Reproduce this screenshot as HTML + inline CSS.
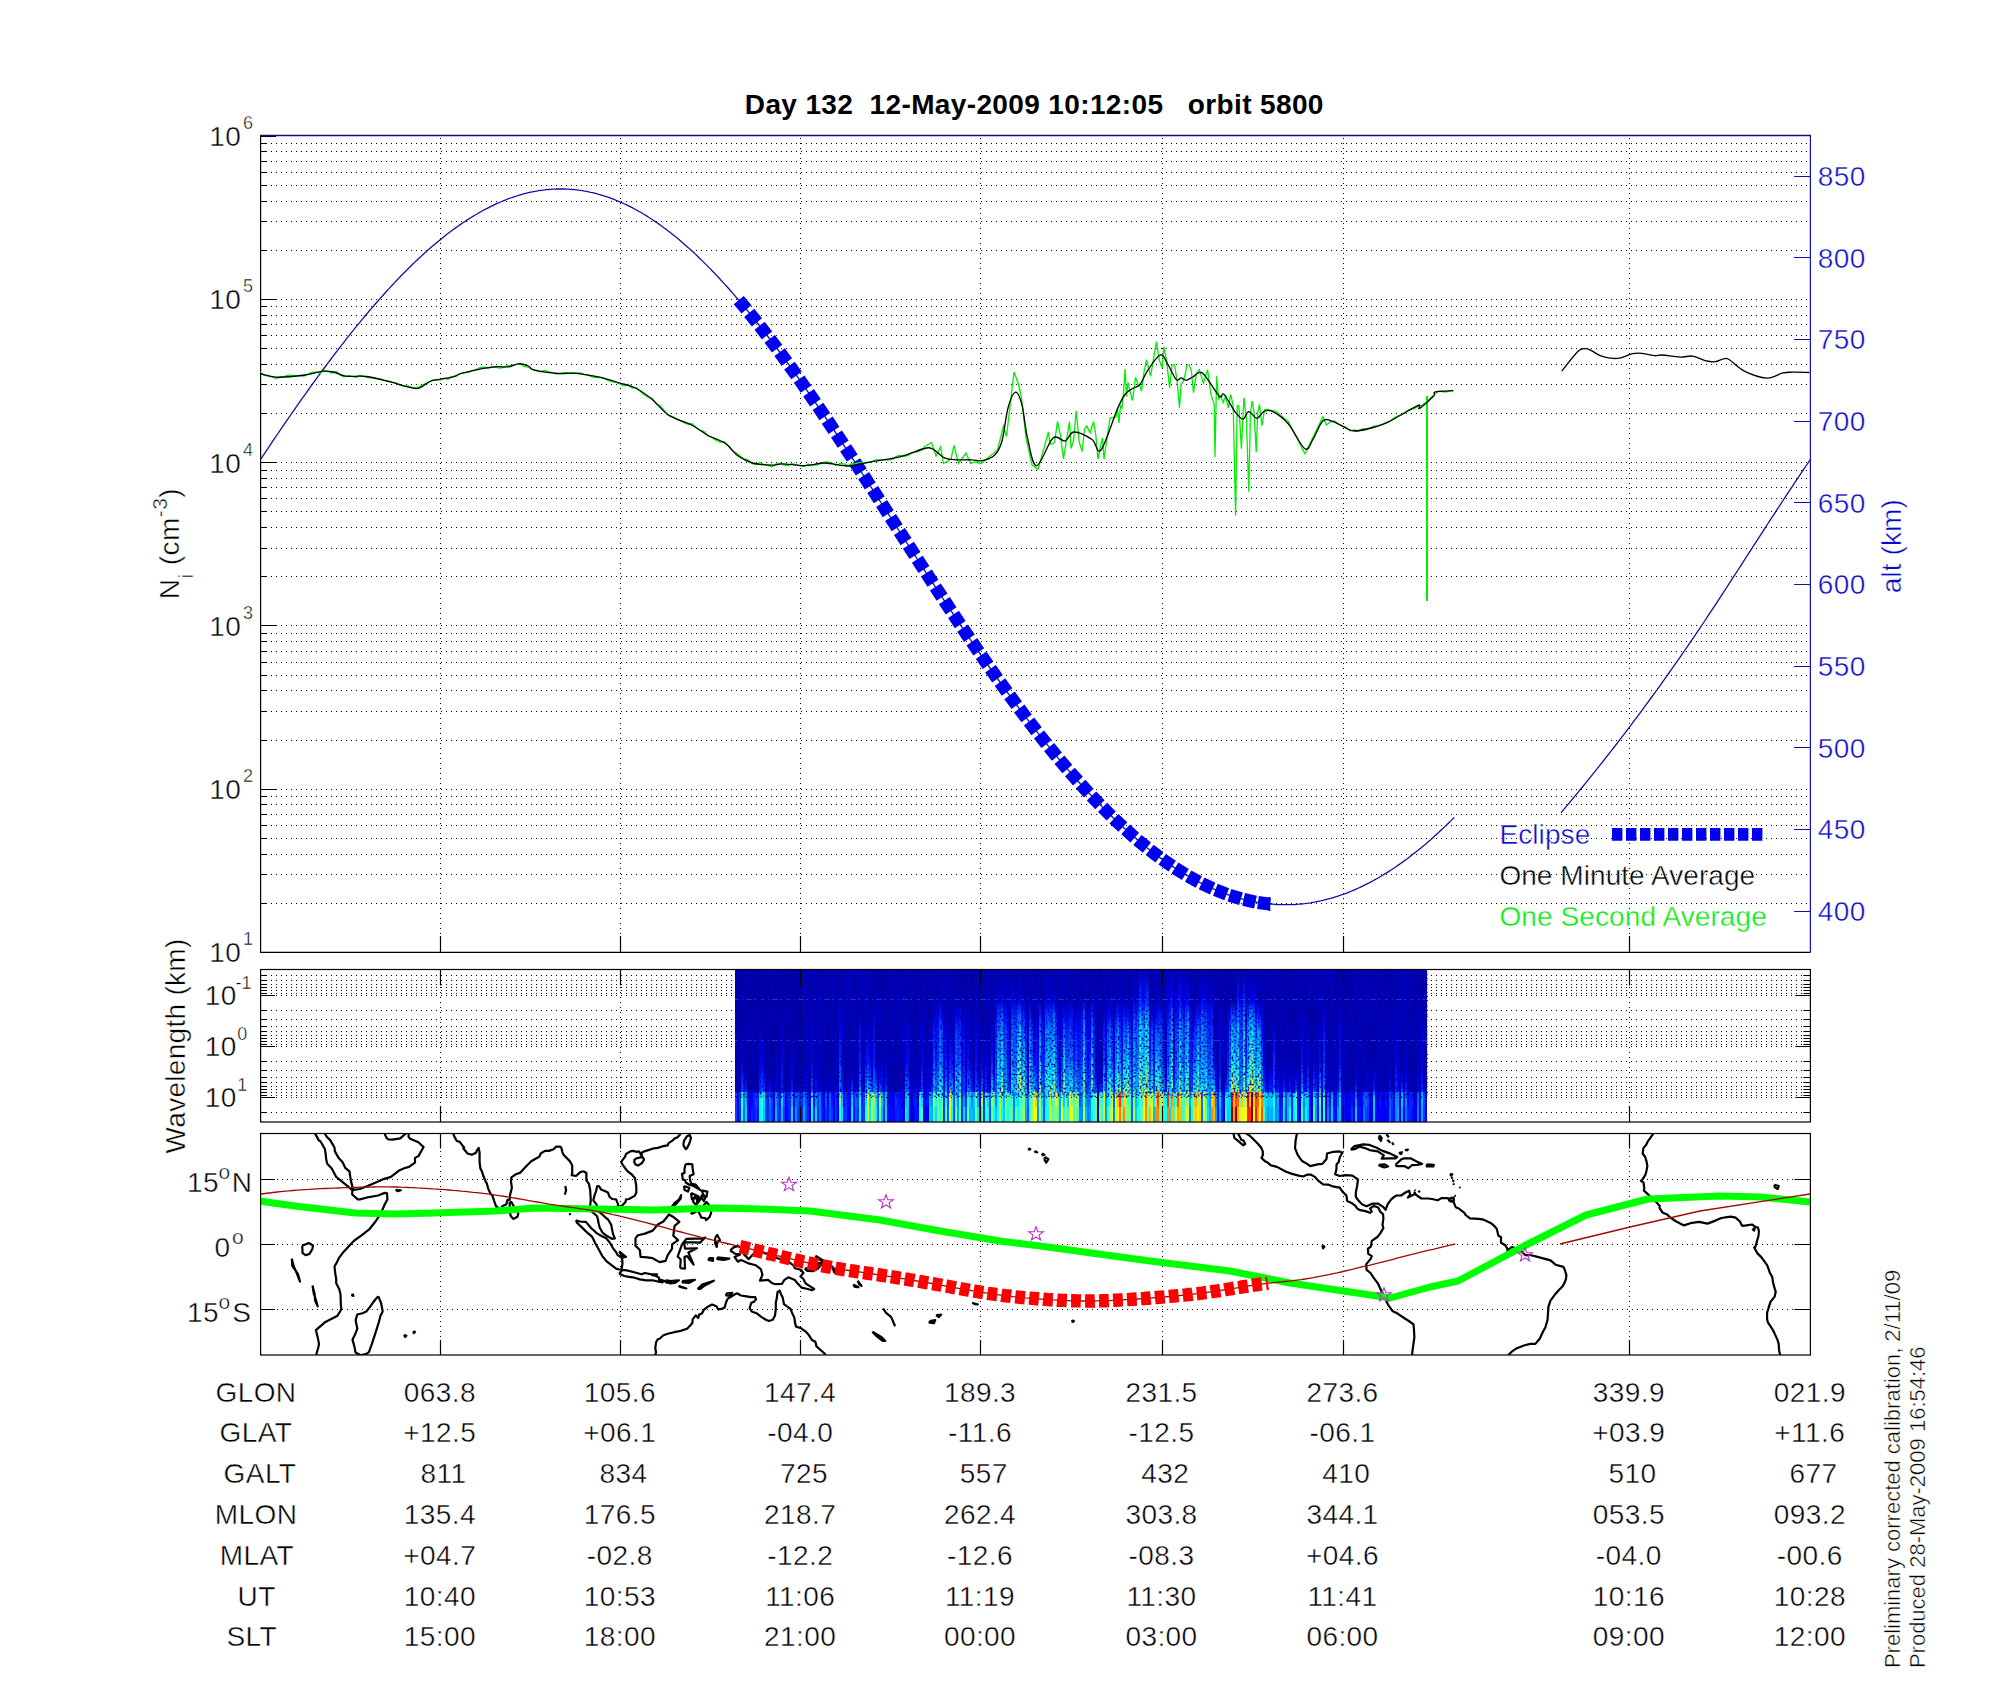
<!DOCTYPE html><html><head><meta charset="utf-8"><style>html,body{margin:0;padding:0;background:#fff;width:2000px;height:1700px;overflow:hidden}svg{display:block}text{font-family:"Liberation Sans", sans-serif;stroke:#fff;stroke-width:0.45px}</style></head><body>
<svg width="2000" height="1700" viewBox="0 0 2000 1700">
<rect width="2000" height="1700" fill="#fff"/>
<path d="M261 903.5 H1810M261 874.5 H1810M261 854.5 H1810M261 838.5 H1810M261 825.5 H1810M261 814.5 H1810M261 804.5 H1810M261 796.5 H1810M261 789.5 H1810M261 740.5 H1810M261 711.5 H1810M261 690.5 H1810M261 675.5 H1810M261 662.5 H1810M261 651.5 H1810M261 641.5 H1810M261 633.5 H1810M261 625.5 H1810M261 576.5 H1810M261 548.5 H1810M261 527.5 H1810M261 511.5 H1810M261 498.5 H1810M261 487.5 H1810M261 478.5 H1810M261 470.5 H1810M261 462.5 H1810M261 413.5 H1810M261 384.5 H1810M261 364.5 H1810M261 348.5 H1810M261 335.5 H1810M261 324.5 H1810M261 315.5 H1810M261 306.5 H1810M261 299.5 H1810M261 250.5 H1810M261 221.5 H1810M261 201.5 H1810M261 185.5 H1810M261 172.5 H1810M261 161.5 H1810M261 151.5 H1810M261 143.5 H1810M440.5 138V952M620.5 138V952M800.5 138V952M980.5 138V952M1162.5 138V952M1343.5 138V952M1629.5 138V952" stroke="#000" stroke-width="1" stroke-dasharray="1 4" fill="none"/>
<path d="M260 952.5h16M260 903.5h7M260 874.5h7M260 854.5h7M260 838.5h7M260 825.5h7M260 814.5h7M260 804.5h7M260 796.5h7M260 789.5h16M260 740.5h7M260 711.5h7M260 690.5h7M260 675.5h7M260 662.5h7M260 651.5h7M260 641.5h7M260 633.5h7M260 625.5h16M260 576.5h7M260 548.5h7M260 527.5h7M260 511.5h7M260 498.5h7M260 487.5h7M260 478.5h7M260 470.5h7M260 462.5h16M260 413.5h7M260 384.5h7M260 364.5h7M260 348.5h7M260 335.5h7M260 324.5h7M260 315.5h7M260 306.5h7M260 299.5h16M260 250.5h7M260 221.5h7M260 201.5h7M260 185.5h7M260 172.5h7M260 161.5h7M260 151.5h7M260 143.5h7M260 136.5h16M440.5 952V936M620.5 952V936M800.5 952V936M980.5 952V936M1162.5 952V936M1343.5 952V936M1629.5 952V936" stroke="#000" stroke-width="1.2" fill="none"/>
<path d="M260.6 135.5V952.4H1810.4" stroke="#000" stroke-width="1.2" fill="none"/>
<path d="M1810.4 135.5V952.4M1810 911.5h-16M1810 829.5h-16M1810 747.5h-16M1810 666.5h-16M1810 584.5h-16M1810 502.5h-16M1810 421.5h-16M1810 339.5h-16M1810 257.5h-16M1810 176.5h-16" stroke="#1010b0" stroke-width="1.2" fill="none"/>
<path d="M260 135.5H1811" stroke="#14107a" stroke-width="1.4" fill="none"/>
<text x="209.2" y="962.3" font-size="28" letter-spacing="0.43">10</text>
<text x="243.1" y="945.4" font-size="18">1</text>
<text x="209.2" y="799" font-size="28" letter-spacing="0.43">10</text>
<text x="243.1" y="782.1" font-size="18">2</text>
<text x="209.2" y="635.8" font-size="28" letter-spacing="0.43">10</text>
<text x="243.1" y="618.9" font-size="18">3</text>
<text x="209.2" y="472.5" font-size="28" letter-spacing="0.43">10</text>
<text x="243.1" y="455.6" font-size="18">4</text>
<text x="209.2" y="309.3" font-size="28" letter-spacing="0.43">10</text>
<text x="243.1" y="292.4" font-size="18">5</text>
<text x="209.2" y="146" font-size="28" letter-spacing="0.43">10</text>
<text x="243.1" y="129.1" font-size="18">6</text>
<text x="1817.7" y="921" font-size="28" letter-spacing="0.43" fill="#0a0ac8">400</text>
<text x="1817.7" y="839.4" font-size="28" letter-spacing="0.43" fill="#0a0ac8">450</text>
<text x="1817.7" y="757.7" font-size="28" letter-spacing="0.43" fill="#0a0ac8">500</text>
<text x="1817.7" y="676.1" font-size="28" letter-spacing="0.43" fill="#0a0ac8">550</text>
<text x="1817.7" y="594.4" font-size="28" letter-spacing="0.43" fill="#0a0ac8">600</text>
<text x="1817.7" y="512.7" font-size="28" letter-spacing="0.43" fill="#0a0ac8">650</text>
<text x="1817.7" y="431.1" font-size="28" letter-spacing="0.43" fill="#0a0ac8">700</text>
<text x="1817.7" y="349.4" font-size="28" letter-spacing="0.43" fill="#0a0ac8">750</text>
<text x="1817.7" y="267.8" font-size="28" letter-spacing="0.43" fill="#0a0ac8">800</text>
<text x="1817.7" y="186.1" font-size="28" letter-spacing="0.43" fill="#0a0ac8">850</text>
<g transform="translate(178.8 599.2) rotate(-90)"><text x="0" y="0" font-size="28" letter-spacing="0.43">N<tspan font-size="21" dy="14">i</tspan><tspan dy="-14"> (cm</tspan><tspan font-size="21" dy="-12.3">-3</tspan><tspan dy="12.3">)</tspan></text></g>
<g transform="translate(1900.7 593.2) rotate(-90)"><text x="0" y="0" font-size="28" letter-spacing="0.09" fill="#0a0ac8">alt (km)</text></g>
<polyline points="260.6,459.3 262.6,456.3 264.6,453.3 266.6,450.3 268.6,447.3 270.6,444.3 272.6,441.4 274.6,438.4 276.6,435.5 278.6,432.5 280.6,429.6 282.6,426.7 284.6,423.7 286.6,420.8 288.6,417.9 290.6,415 292.6,412.2 294.6,409.3 296.6,406.4 298.6,403.6 300.6,400.7 302.6,397.9 304.6,395.1 306.6,392.3 308.6,389.5 310.6,386.7 312.6,383.9 314.6,381.2 316.6,378.4 318.6,375.7 320.6,373 322.6,370.2 324.6,367.5 326.6,364.9 328.6,362.2 330.6,359.5 332.6,356.9 334.6,354.2 336.6,351.6 338.6,349 340.6,346.4 342.6,343.8 344.6,341.3 346.6,338.7 348.6,336.2 350.6,333.7 352.6,331.2 354.6,328.7 356.6,326.2 358.6,323.8 360.6,321.3 362.6,318.9 364.6,316.5 366.6,314.1 368.6,311.8 370.6,309.4 372.6,307.1 374.6,304.8 376.6,302.5 378.6,300.2 380.6,297.9 382.6,295.7 384.6,293.5 386.6,291.2 388.6,289.1 390.6,286.9 392.6,284.7 394.6,282.6 396.6,280.5 398.6,278.4 400.6,276.3 402.6,274.3 404.6,272.3 406.6,270.2 408.6,268.3 410.6,266.3 412.6,264.3 414.6,262.4 416.6,260.5 418.6,258.6 420.6,256.8 422.6,254.9 424.6,253.1 426.6,251.3 428.6,249.6 430.6,247.8 432.6,246.1 434.6,244.4 436.6,242.7 438.6,241 440.6,239.4 442.6,237.8 444.6,236.2 446.6,234.6 448.6,233.1 450.6,231.6 452.6,230.1 454.6,228.6 456.6,227.2 458.6,225.8 460.6,224.4 462.6,223 464.6,221.7 466.6,220.4 468.6,219.1 470.6,217.8 472.6,216.6 474.6,215.3 476.6,214.2 478.6,213 480.6,211.9 482.6,210.7 484.6,209.7 486.6,208.6 488.6,207.6 490.6,206.6 492.6,205.6 494.6,204.6 496.6,203.7 498.6,202.8 500.6,202 502.6,201.1 504.6,200.3 506.6,199.5 508.6,198.7 510.6,198 512.6,197.3 514.6,196.6 516.6,196 518.6,195.4 520.6,194.8 522.6,194.2 524.6,193.7 526.6,193.2 528.6,192.7 530.6,192.2 532.6,191.8 534.6,191.4 536.6,191.1 538.6,190.7 540.6,190.4 542.6,190.2 544.6,189.9 546.6,189.7 548.6,189.5 550.6,189.3 552.6,189.2 554.6,189.1 556.6,189 558.6,189 560.6,189 562.6,189 564.6,189 566.6,189.1 568.6,189.2 570.6,189.3 572.6,189.5 574.6,189.7 576.6,189.9 578.6,190.2 580.6,190.4 582.6,190.7 584.6,191.1 586.6,191.4 588.6,191.8 590.6,192.3 592.6,192.7 594.6,193.2 596.6,193.7 598.6,194.3 600.6,194.8 602.6,195.4 604.6,196.1 606.6,196.7 608.6,197.4 610.6,198.1 612.6,198.9 614.6,199.7 616.6,200.5 618.6,201.3 620.6,202.2 622.6,203 624.6,204 626.6,204.9 628.6,205.9 630.6,206.9 632.6,207.9 634.6,209 636.6,210.1 638.6,211.2 640.6,212.3 642.6,213.5 644.6,214.7 646.6,215.9 648.6,217.2 650.6,218.5 652.6,219.8 654.6,221.1 656.6,222.5 658.6,223.9 660.6,225.3 662.6,226.8 664.6,228.2 666.6,229.7 668.6,231.3 670.6,232.8 672.6,234.4 674.6,236 676.6,237.6 678.6,239.3 680.6,241 682.6,242.7 684.6,244.4 686.6,246.2 688.6,247.9 690.6,249.8 692.6,251.6 694.6,253.4 696.6,255.3 698.6,257.2 700.6,259.2 702.6,261.1 704.6,263.1 706.6,265.1 708.6,267.1 710.6,269.1 712.6,271.2 714.6,273.3 716.6,275.4 718.6,277.5 720.6,279.7 722.6,281.9 724.6,284.1 726.6,286.3 728.6,288.5 730.6,290.8 732.6,293.1 734.6,295.4 736.6,297.7 738.6,300 740.6,302.4 742.6,304.8 744.6,307.2 746.6,309.6 748.6,312.1 750.6,314.5 752.6,317 754.6,319.5 756.6,322 758.6,324.5 760.6,327.1 762.6,329.6 764.6,332.2 766.6,334.8 768.6,337.4 770.6,340.1 772.6,342.7 774.6,345.4 776.6,348 778.6,350.7 780.6,353.4 782.6,356.2 784.6,358.9 786.6,361.6 788.6,364.4 790.6,367.2 792.6,370 794.6,372.8 796.6,375.6 798.6,378.4 800.6,381.3 802.6,384.1 804.6,387 806.6,389.9 808.6,392.8 810.6,395.7 812.6,398.6 814.6,401.5 816.6,404.4 818.6,407.4 820.6,410.3 822.6,413.3 824.6,416.2 826.6,419.2 828.6,422.2 830.6,425.2 832.6,428.2 834.6,431.2 836.6,434.2 838.6,437.2 840.6,440.3 842.6,443.3 844.6,446.4 846.6,449.4 848.6,452.5 850.6,455.5 852.6,458.6 854.6,461.7 856.6,464.7 858.6,467.8 860.6,470.9 862.6,474 864.6,477.1 866.6,480.2 868.6,483.3 870.6,486.4 872.6,489.5 874.6,492.6 876.6,495.7 878.6,498.8 880.6,502 882.6,505.1 884.6,508.2 886.6,511.3 888.6,514.4 890.6,517.5 892.6,520.7 894.6,523.8 896.6,526.9 898.6,530 900.6,533.1 902.6,536.3 904.6,539.4 906.6,542.5 908.6,545.6 910.6,548.7 912.6,551.8 914.6,554.9 916.6,558 918.6,561.1 920.6,564.2 922.6,567.3 924.6,570.4 926.6,573.5 928.6,576.6 930.6,579.6 932.6,582.7 934.6,585.8 936.6,588.9 938.6,591.9 940.6,595 942.6,598 944.6,601.1 946.6,604.1 948.6,607.1 950.6,610.1 952.6,613.2 954.6,616.2 956.6,619.2 958.6,622.2 960.6,625.1 962.6,628.1 964.6,631.1 966.6,634.1 968.6,637 970.6,640 972.6,642.9 974.6,645.8 976.6,648.8 978.6,651.7 980.6,654.6 982.6,657.5 984.6,660.3 986.6,663.2 988.6,666.1 990.6,668.9 992.6,671.8 994.6,674.6 996.6,677.4 998.6,680.2 1000.6,683 1002.6,685.8 1004.6,688.6 1006.6,691.4 1008.6,694.1 1010.6,696.8 1012.6,699.6 1014.6,702.3 1016.6,705 1018.6,707.7 1020.6,710.4 1022.6,713 1024.6,715.7 1026.6,718.3 1028.6,720.9 1030.6,723.6 1032.6,726.1 1034.6,728.7 1036.6,731.3 1038.6,733.9 1040.6,736.4 1042.6,738.9 1044.6,741.4 1046.6,743.9 1048.6,746.4 1050.6,748.9 1052.6,751.3 1054.6,753.8 1056.6,756.2 1058.6,758.6 1060.6,761 1062.6,763.4 1064.6,765.7 1066.6,768.1 1068.6,770.4 1070.6,772.7 1072.6,775 1074.6,777.3 1076.6,779.6 1078.6,781.8 1080.6,784 1082.6,786.2 1084.6,788.4 1086.6,790.6 1088.6,792.8 1090.6,794.9 1092.6,797 1094.6,799.1 1096.6,801.2 1098.6,803.3 1100.6,805.4 1102.6,807.4 1104.6,809.4 1106.6,811.4 1108.6,813.4 1110.6,815.3 1112.6,817.3 1114.6,819.2 1116.6,821.1 1118.6,823 1120.6,824.9 1122.6,826.7 1124.6,828.5 1126.6,830.4 1128.6,832.1 1130.6,833.9 1132.6,835.7 1134.6,837.4 1136.6,839.1 1138.6,840.8 1140.6,842.5 1142.6,844.1 1144.6,845.7 1146.6,847.4 1148.6,848.9 1150.6,850.5 1152.6,852.1 1154.6,853.6 1156.6,855.1 1158.6,856.6 1160.6,858.1 1162.6,859.5 1164.6,860.9 1166.6,862.3 1168.6,863.7 1170.6,865.1 1172.6,866.4 1174.6,867.7 1176.6,869 1178.6,870.3 1180.6,871.5 1182.6,872.8 1184.6,874 1186.6,875.1 1188.6,876.3 1190.6,877.4 1192.6,878.6 1194.6,879.7 1196.6,880.7 1198.6,881.8 1200.6,882.8 1202.6,883.8 1204.6,884.8 1206.6,885.8 1208.6,886.7 1210.6,887.6 1212.6,888.5 1214.6,889.4 1216.6,890.2 1218.6,891 1220.6,891.8 1222.6,892.6 1224.6,893.4 1226.6,894.1 1228.6,894.8 1230.6,895.5 1232.6,896.1 1234.6,896.8 1236.6,897.4 1238.6,898 1240.6,898.5 1242.6,899.1 1244.6,899.6 1246.6,900.1 1248.6,900.5 1250.6,901 1252.6,901.4 1254.6,901.8 1256.6,902.1 1258.6,902.5 1260.6,902.8 1262.6,903.1 1264.6,903.4 1266.6,903.6 1268.6,903.8 1270.6,904 1272.6,904.2 1274.6,904.4 1276.6,904.5 1278.6,904.6 1280.6,904.6 1282.6,904.7 1284.6,904.7 1286.6,904.7 1288.6,904.7 1290.6,904.6 1292.6,904.6 1294.6,904.5 1296.6,904.3 1298.6,904.2 1300.6,904 1302.6,903.8 1304.6,903.6 1306.6,903.3 1308.6,903.1 1310.6,902.8 1312.6,902.4 1314.6,902.1 1316.6,901.7 1318.6,901.3 1320.6,900.9 1322.6,900.4 1324.6,899.9 1326.6,899.4 1328.6,898.9 1330.6,898.4 1332.6,897.8 1334.6,897.2 1336.6,896.6 1338.6,895.9 1340.6,895.2 1342.6,894.5 1344.6,893.8 1346.6,893.1 1348.6,892.3 1350.6,891.5 1352.6,890.7 1354.6,889.8 1356.6,888.9 1358.6,888 1360.6,887.1 1362.6,886.2 1364.6,885.2 1366.6,884.2 1368.6,883.2 1370.6,882.1 1372.6,881 1374.6,879.9 1376.6,878.8 1378.6,877.7 1380.6,876.5 1382.6,875.3 1384.6,874.1 1386.6,872.9 1388.6,871.6 1390.6,870.3 1392.6,869 1394.6,867.7 1396.6,866.3 1398.6,864.9 1400.6,863.5 1402.6,862.1 1404.6,860.6 1406.6,859.2 1408.6,857.7 1410.6,856.1 1412.6,854.6 1414.6,853 1416.6,851.4 1418.6,849.8 1420.6,848.2 1422.6,846.5 1424.6,844.9 1426.6,843.2 1428.6,841.4 1430.6,839.7 1432.6,837.9 1434.6,836.1 1436.6,834.3 1438.6,832.5 1440.6,830.6 1442.6,828.8 1444.6,826.9 1446.6,825 1448.6,823 1450.6,821.1 1452.6,819.1 1454.2,817.5" stroke="#1010a0" stroke-width="1.3" fill="none"/>
<polyline points="1561,812.8 1564,809.2 1567,805.7 1570,802.1 1573,798.4 1576,794.8 1579,791.2 1582,787.5 1585,783.8 1588,780.1 1591,776.4 1594,772.7 1597,768.9 1600,765.1 1603,761.3 1606,757.5 1609,753.7 1612,749.8 1615,746 1618,742.1 1621,738.2 1624,734.3 1627,730.3 1630,726.4 1633,722.4 1636,718.4 1639,714.3 1642,710.3 1645,706.2 1648,702.2 1651,698 1654,693.9 1657,689.8 1660,685.6 1663,681.4 1666,677.2 1669,673 1672,668.7 1675,664.4 1678,660.1 1681,655.8 1684,651.5 1687,647.1 1690,642.7 1693,638.3 1696,633.9 1699,629.4 1702,625 1705,620.5 1708,615.9 1711,611.4 1714,606.8 1717,602.3 1720,597.7 1723,593.1 1726,588.5 1729,583.9 1732,579.2 1735,574.6 1738,570 1741,565.3 1744,560.7 1747,556 1750,551.4 1753,546.7 1756,542.1 1759,537.4 1762,532.8 1765,528.1 1768,523.5 1771,518.9 1774,514.3 1777,509.7 1780,505.1 1783,500.5 1786,495.9 1789,491.4 1792,486.8 1795,482.3 1798,477.8 1801,473.4 1804,468.9 1807,464.5 1810,460.1 1810.4,459.5" stroke="#1010a0" stroke-width="1.3" fill="none"/>
<path d="M741.5 313.6L751.5 305.3L743.7 295.9L733.7 304.3ZM751.8 326.4L762 318.3L754.3 308.8L744.2 316.9ZM761.9 339.4L772.2 331.4L764.7 321.8L754.5 329.8ZM771.9 352.6L782.3 344.7L774.9 335L764.5 342.8ZM781.6 365.9L792.1 358.2L784.9 348.3L774.4 356ZM791.3 379.3L801.8 371.7L794.7 361.8L784.2 369.4ZM800.7 392.8L811.4 385.4L804.4 375.4L793.8 382.8ZM810.1 406.4L820.8 399.1L813.9 389L803.2 396.4ZM819.4 420.2L830.2 412.9L823.3 402.8L812.6 410ZM828.6 433.9L839.4 426.7L832.7 416.6L821.8 423.8ZM837.7 447.7L848.6 440.6L841.9 430.4L831 437.6ZM846.8 461.6L857.7 454.5L851 444.3L840.1 451.4ZM855.8 475.5L866.7 468.4L860.1 458.2L849.2 465.3ZM864.8 489.4L875.7 482.4L869.1 472.1L858.2 479.2ZM873.8 503.3L884.7 496.3L878.1 486.1L867.2 493.1ZM882.7 517.3L893.7 510.3L887.1 500L876.1 507ZM891.7 531.2L902.6 524.2L896 513.9L885.1 521ZM900.6 545.2L911.5 538.1L904.9 527.9L894 534.9ZM909.5 559.1L920.5 552L913.9 541.8L902.9 548.8ZM918.5 573L929.4 565.9L922.8 555.7L911.9 562.7ZM927.5 586.8L938.4 579.8L931.8 569.5L920.9 576.6ZM936.6 600.7L947.5 593.6L940.8 583.4L929.9 590.5ZM945.7 614.5L956.5 607.3L949.8 597.1L938.9 604.3ZM954.8 628.2L965.6 621L958.9 610.8L948.1 618.1ZM964 641.9L974.8 634.6L968 624.5L957.2 631.8ZM973.3 655.5L984.1 648.2L977.2 638.1L966.5 645.4ZM982.7 669L993.4 661.6L986.4 651.6L975.8 659ZM992.2 682.5L1002.8 675L995.8 665L985.2 672.5ZM1001.8 695.8L1012.4 688.2L1005.2 678.3L994.7 685.9ZM1011.5 709.1L1022 701.4L1014.8 691.6L1004.3 699.3ZM1021.4 722.2L1031.8 714.4L1024.4 704.6L1014 712.5ZM1031.4 735.2L1041.7 727.3L1034.2 717.6L1023.9 725.5ZM1041.5 748L1051.7 739.9L1044.1 730.4L1033.9 738.5ZM1051.9 760.7L1061.9 752.5L1054.2 743L1044.1 751.3ZM1062.4 773.2L1072.3 764.8L1064.4 755.5L1054.5 763.9ZM1073.1 785.4L1082.9 776.8L1074.8 767.7L1065 776.3ZM1084 797.4L1093.6 788.7L1085.4 779.7L1075.8 788.4ZM1095.2 809.2L1104.6 800.2L1096.2 791.4L1086.8 800.4ZM1106.7 820.6L1115.8 811.4L1107.2 802.8L1098 812ZM1118.4 831.7L1127.3 822.2L1118.4 813.9L1109.5 823.4ZM1130.4 842.4L1139 832.7L1129.9 824.6L1121.3 834.3ZM1142.8 852.7L1151 842.6L1141.6 834.9L1133.3 844.9ZM1155.4 862.4L1163.3 852L1153.6 844.7L1145.7 855ZM1168.5 871.5L1175.9 860.8L1165.9 853.9L1158.5 864.6ZM1181.9 880L1188.8 869L1178.4 862.5L1171.5 873.6ZM1195.7 887.7L1201.9 876.3L1191.3 870.4L1185 881.8ZM1209.9 894.5L1215.4 882.7L1204.4 877.5L1198.8 889.3ZM1224.3 900.3L1229.1 888.2L1217.7 883.7L1213 895.8ZM1239.1 904.9L1242.9 892.5L1231.3 888.9L1227.5 901.4ZM1254.1 908.4L1256.9 895.7L1245 893.1L1242.2 905.8ZM1269.2 910.5L1270.9 897.7L1258.8 896L1257.1 908.9Z" fill="#0000f0"/>
<path d="M1269.5 897v14" stroke="#0000f0" stroke-width="1.6"/>
<polyline points="260,372.2 264,375.2 268,375.1 272,376.9 276,378.6 280,377.1 284,376.7 288,375.1 292,375.3 296,375.7 300,375.9 304,376 308,374 312,372.2 316,372.1 320,373.1 324,370.5 328,371.5 332,373.2 336,371.4 340,374.6 344,377 348,375.4 352,376.4 356,377.6 360,375.3 364,376.5 368,377.6 372,378.2 376,378.5 380,378.6 384,380.3 388,380.8 392,382.1 396,382.8 400,385.3 404,386.1 408,385.8 412,387.7 416,387.8 420,386.4 424,384.1 428,383 432,380.4 436,380 440,380.1 444,378.4 448,379.2 452,376.3 456,376.3 460,373.7 464,372.6 468,372.3 472,371 476,369.7 480,367.6 484,367.2 488,368.4 492,367.2 496,367.3 500,368.1 504,367.3 508,365.4 512,365.2 516,364.7 520,363.4 524,366.4 528,367.2 532,369.5 536,370.3 540,372 544,370.4 548,371.5 552,372.5 556,373.9 560,373.4 564,372.3 568,372.9 572,372.8 576,372.8 580,373 584,374.4 588,375.2 592,376.8 596,377.5 600,377.4 604,378.4 608,380.5 612,381.9 616,382.4 620,384 624,385.7 628,384.2 632,388 636,387.7 640,391 644,394.7 648,397.2 652,398.2 656,403.5 660,405.6 664,410.3 668,415.5 672,416.3 676,418.6 680,420.7 684,422.7 688,424.3 692,423.8 696,427.5 700,430.3 704,431.6 708,435.6 712,437.6 716,440.1 720,442.3 724,441.7 728,445.2 732,450.5 736,452.9 740,455.9 744,459 748,459.8 752,463.6 756,464.5 760,462.5 764,464.4 768,465.7 772,466.7 776,464 780,463.1 784,465 788,465.5 792,463.7 796,464.7 800,465.9 804,466.6 808,464.3 812,465.2 816,465.1 820,463.8 824,462.1 828,462 832,463.3 836,465.4 840,463.6 844,464 848,465.5 852,464 856,463.5 860,462.4 864,463.1 868,462.9 872,461.4 876,459.8 880,459.7 884,459.8 888,460.2 892,459.6 896,456.7 900,455.3 904,456.4 908,455.3 912,452.5 916,452.1 920,451 924,448.8 924,447 931.5,442.5 936,456 940.5,447 943.5,463.5 951,459 954,445.5 958.5,463.5 966,453 970.5,463.5 975,462 981,463.5 997.5,450 1003.5,426 1006.5,436.5 1014,372 1018.5,384 1021.5,397.5 1026,438 1032,465 1038,469.5 1048.5,432 1050,444.1 1051.5,444 1054.5,442.5 1057.5,421.5 1060.5,435.7 1063.5,459 1066.5,439.7 1069.5,421.5 1071,448.5 1073.6,440.3 1076.2,411 1079.2,442.1 1082.2,451.5 1084.5,428.9 1086.7,426 1090.1,432.9 1093.5,421.5 1095.8,434.9 1098,459 1100.2,447.9 1102.5,438 1104,459 1110,418.1 1116,417 1117.5,407.9 1119,423 1120.5,406 1122,408 1123.5,392.9 1125,369 1126.5,396.8 1128,382.5 1130.2,392.1 1132.5,400.5 1135.5,377.4 1138.5,385.5 1140,385.4 1141.6,391 1144,372.2 1146.5,359.7 1148.5,367.5 1150.6,376.2 1153.5,358.9 1156.4,341.6 1159.3,360.1 1162.2,368 1163.8,346.5 1166.7,361.7 1169.6,387.8 1172.1,365.2 1174.6,364.7 1177,380.1 1179.5,407.6 1181.2,383.5 1182.8,382.8 1184.8,375.8 1186.9,365.5 1189.4,364.7 1191.5,372.1 1193.5,392.7 1196.4,373.3 1199.3,369.6 1203.4,383.1 1207.6,369.6 1210.9,394.2 1214.2,404.3 1215,457 1216.6,376.2 1218.7,398.9 1220.8,396 1223.2,402.7 1225.7,396 1228.2,407.8 1230.7,394.4 1233.2,406.2 1235.6,515.6 1237.2,405.8 1238.9,405.9 1241.4,448.8 1243.9,397.7 1246.3,417.9 1248.8,491.7 1250.4,414.2 1252.1,401 1254.2,413.2 1256.2,452.1 1257.8,412 1259.5,404.3 1262,425.7 1264.5,409.8 1267,409.2 1271.1,410.6 1275.2,410.9 1288.4,421.6 1304.9,453.8 1323,416.6 1326.4,424.9 1330,422.2 1334,421 1338,423.6 1342,425.6 1346,427.2 1350,430.7 1354,429.8 1358,430.9 1362,428.8 1366,428.9 1370,428 1374,426.2 1378,425.7 1382,424.5 1386,422.7 1390,421.5 1394,417.9 1398,415.8 1402,414 1406,411.9 1410,409.2 1414,408.8 1418,406.3 1422,405.3 1426,402.4 1430,398.5 1434,394.9 1438,391.2 1442,391.5 1446,392.2 1450,390.6 1453.4,390.7" stroke="#00ee00" stroke-width="1.3" fill="none"/>
<path d="M1427 396V601" stroke="#00ee00" stroke-width="2"/>
<path d="M260 373.5C262.8 374.1 269 377 276.5 377.2C284 377.5 297.2 376 305 375C312.8 374 318.2 371.8 323 371.2C327.8 370.8 329.8 371.2 333.5 372C337.2 372.8 340 375.4 345.5 376.2C351 376.9 359 375.6 366.5 376.5C374 377.4 382.2 379.8 390.5 381.8C398.8 383.8 409.2 388.6 416 388.5C422.8 388.4 425 382.9 431 381C437 379.1 447 378.5 452 377.2C457 376 456.5 374.8 461 373.5C465.5 372.2 473.5 370.4 479 369.3C484.5 368.2 489 367.2 494 366.8C499 366.3 505 367.2 509 366.8C513 366.2 514.8 363.9 518 363.8C521.2 363.6 525.8 364.9 528.5 366C531.2 367.1 529.5 368.9 534.5 370.2C539.5 371.4 551.7 373 558.5 373.5C565.3 374 568.7 372.7 575.5 373.3C582.3 373.9 592.2 375.6 599.5 377.2C606.8 378.8 613 380.9 619 382.8C625 384.6 630 385.2 635.5 388C641 390.8 646.5 394.8 652 399.2C657.5 403.8 661.8 410.6 668.5 415C675.2 419.4 686 422.1 692.5 425.5C699 428.9 702 432.2 707.5 435.2C713 438.2 720.5 440.1 725.5 443.5C730.5 446.9 733 452.2 737.5 455.5C742 458.8 746.8 461.4 752.5 463C758.2 464.6 767 465.1 772 465.2C777 465.4 777 463.7 782.5 463.8C788 463.8 798 465.8 805 465.7C812 465.6 817.2 462.9 824.5 463C831.8 463.1 841.7 466 848.5 466C855.3 466 856.9 464.3 865.5 462.8C874.1 461.2 890.2 459.1 900 456.8C909.8 454.4 918.5 449.8 924 448.5C929.5 447.2 929.5 447.6 933 449.2C936.5 450.9 941 456.5 945 458.2C949 460 952.5 459.5 957 459.8C961.5 460 968 459.6 972 459.8C976 459.9 977.2 461.6 981 460.8C984.8 460.1 991 458.6 994.5 455.2C998 451.9 999.8 448.9 1002 441C1004.2 433.1 1005.8 416.1 1008 408C1010.2 399.9 1013.2 392.8 1015.5 392.2C1017.8 391.8 1020 397.4 1022 405C1024 412.6 1025.1 427.9 1027.5 438C1029.9 448.1 1032.2 465.8 1036.5 465.8C1040.8 465.8 1048.2 442.1 1053 438C1057.8 433.9 1061.5 442 1065 441C1068.5 440 1069.5 432.2 1074 432C1078.5 431.8 1087.5 436.5 1092 439.5C1096.5 442.5 1096.8 455.1 1101 450C1105.2 444.9 1113.5 418 1117.5 408.8C1121.5 399.5 1122.5 397.9 1125 394.5C1127.5 391.1 1130 390.2 1132.5 388.5C1135 386.8 1137.3 387.6 1139.9 384.5C1142.5 381.4 1144.8 374.6 1148.2 369.6C1151.6 364.6 1157.2 355.6 1160.5 354.8C1163.8 353.9 1165.4 360.5 1168 364.6C1170.6 368.8 1174 377.3 1176.2 379.5C1178.4 381.7 1179.6 377.7 1181.2 377.9C1182.8 378 1184.2 380.4 1186.1 380.3C1188 380.2 1190 378.2 1192.7 377C1195.5 375.8 1198.2 370 1202.6 373.2C1207 376.4 1215.5 392.5 1219.1 396C1222.7 399.5 1221.3 391.6 1224 394.4C1226.8 397.1 1232.4 408.4 1235.6 412.5C1238.8 416.6 1240.8 419.2 1243 419.1C1245.2 419 1246.5 411.8 1248.8 411.7C1251.1 411.6 1254.5 418.3 1257 418.3C1259.5 418.3 1261.2 412.9 1263.7 411.7C1266.2 410.5 1267.8 409.1 1271.9 411.2C1276 413.2 1282.9 417.7 1288.4 424C1293.9 430.3 1300.8 446.3 1304.9 448.8C1309 451.3 1310.2 443.6 1313.2 438.9C1316.2 434.2 1319.7 423.6 1323 420.8C1326.3 417.9 1328.9 420.2 1333 421.6C1337.1 423 1344.2 427.4 1347.8 429C1351.4 430.6 1351.1 431 1354.4 431C1357.7 431 1362.4 430.3 1367.6 429C1372.8 427.7 1380 425.7 1385.8 423.2C1391.6 420.7 1396.8 417.2 1402.3 414.2C1407.8 411.2 1415.9 406.1 1418.8 405.1C1421.7 404.1 1417.1 409.9 1419.6 408.4C1422.1 406.9 1431 398.8 1433.6 396C1436.2 393.2 1432 392.8 1435.3 391.9C1438.6 391 1450.4 390.9 1453.4 390.7" stroke="#000" stroke-width="1.3" fill="none"/>
<path d="M1561.7 371.1C1564.4 367.8 1574 355.2 1577.8 351.5C1581.6 347.8 1582.7 348.9 1584.8 348.7C1586.9 348.5 1587.8 348.9 1590.4 350.1C1593 351.3 1596.9 354.4 1600.2 355.7C1603.5 357 1606.7 357.7 1610 358.1C1613.3 358.5 1616.1 358.9 1619.8 358.1C1623.5 357.4 1628.7 354.4 1632.4 353.6C1636.1 352.8 1638.5 353 1642.2 353.3C1645.9 353.6 1651.5 355.4 1654.8 355.7C1658.1 356 1657.6 354.8 1661.8 355C1666 355.2 1674.9 356.9 1680 357.1C1685.1 357.3 1688.4 355.5 1692.6 356.1C1696.8 356.7 1701.5 359.7 1705.2 360.6C1708.9 361.5 1712 362 1715 361.7C1718 361.4 1721.1 359.3 1723.4 358.9C1725.7 358.5 1725.5 357.5 1729 359.5C1732.5 361.5 1738.1 368 1744.4 371.1C1750.7 374.2 1760.5 377.8 1766.8 378.1C1773.1 378.5 1778 374.2 1782.2 373.2C1786.4 372.2 1787.5 372.3 1792 372.2C1796.5 372.1 1806.6 372.4 1809.5 372.5" stroke="#000" stroke-width="1.3" fill="none"/>
<text x="1499.4" y="843.5" font-size="28" letter-spacing="0.1" fill="#0a0ac8">Eclipse</text>
<path d="M1612 834.4H1762.4" stroke="#0000f0" stroke-width="12.8" stroke-dasharray="10.4 3.6"/>
<text x="1499.4" y="884.8" font-size="28" letter-spacing="0.06" fill="#000">One Minute Average</text>
<text x="1499.4" y="926.4" font-size="28" letter-spacing="0.1" fill="#00ee00">One Second Average</text>
<path d="M261 975.5H1810M261 980.5H1810M261 984.5H1810M261 987.5H1810M261 990.5H1810M261 993.5H1810M261 995.5H1810M261 1010.5H1810M261 1019.5H1810M261 1026.5H1810M261 1031.5H1810M261 1035.5H1810M261 1038.5H1810M261 1041.5H1810M261 1044.5H1810M261 1046.5H1810M261 1061.5H1810M261 1070.5H1810M261 1077.5H1810M261 1082.5H1810M261 1086.5H1810M261 1089.5H1810M261 1092.5H1810M261 1095.5H1810M261 1097.5H1810M261 1112.5H1810M440.5 972V1122M620.5 972V1122M800.5 972V1122M980.5 972V1122M1162.5 972V1122M1343.5 972V1122M1629.5 972V1122" stroke="#000" stroke-width="1" stroke-dasharray="1 4" fill="none"/>
<defs><linearGradient id="s0" x2="0" y2="1"><stop offset="0" stop-color="#009"/><stop offset="0.2" stop-color="#009"/><stop offset="0.3" stop-color="#00a"/><stop offset="0.4" stop-color="#00a"/><stop offset="0.6" stop-color="#00a"/><stop offset="0.7" stop-color="#009"/><stop offset="0.8" stop-color="#00b"/><stop offset="0.8" stop-color="#00c"/><stop offset="0.8" stop-color="#04f"/><stop offset="0.9" stop-color="#04f"/><stop offset="0.9" stop-color="#04f"/><stop offset="1" stop-color="#04f"/></linearGradient><linearGradient id="s1" x2="0" y2="1"><stop offset="0" stop-color="#00a"/><stop offset="0.2" stop-color="#009"/><stop offset="0.3" stop-color="#00a"/><stop offset="0.4" stop-color="#009"/><stop offset="0.6" stop-color="#00a"/><stop offset="0.7" stop-color="#00a"/><stop offset="0.8" stop-color="#00b"/><stop offset="0.8" stop-color="#00b"/><stop offset="0.8" stop-color="#00f"/><stop offset="0.9" stop-color="#00f"/><stop offset="0.9" stop-color="#00e"/><stop offset="1" stop-color="#00e"/></linearGradient><linearGradient id="s2" x2="0" y2="1"><stop offset="0" stop-color="#009"/><stop offset="0.2" stop-color="#00a"/><stop offset="0.3" stop-color="#009"/><stop offset="0.4" stop-color="#009"/><stop offset="0.6" stop-color="#00a"/><stop offset="0.7" stop-color="#009"/><stop offset="0.8" stop-color="#009"/><stop offset="0.8" stop-color="#00b"/><stop offset="0.8" stop-color="#04f"/><stop offset="0.9" stop-color="#04f"/><stop offset="0.9" stop-color="#03f"/><stop offset="1" stop-color="#03f"/></linearGradient><linearGradient id="s3" x2="0" y2="1"><stop offset="0" stop-color="#009"/><stop offset="0.2" stop-color="#00a"/><stop offset="0.3" stop-color="#009"/><stop offset="0.4" stop-color="#00a"/><stop offset="0.6" stop-color="#00c"/><stop offset="0.7" stop-color="#02f"/><stop offset="0.8" stop-color="#06f"/><stop offset="0.8" stop-color="#09f"/><stop offset="0.8" stop-color="#3fc"/><stop offset="0.9" stop-color="#3fc"/><stop offset="0.9" stop-color="#2fd"/><stop offset="1" stop-color="#2fd"/></linearGradient><linearGradient id="s4" x2="0" y2="1"><stop offset="0" stop-color="#009"/><stop offset="0.2" stop-color="#009"/><stop offset="0.3" stop-color="#009"/><stop offset="0.4" stop-color="#00a"/><stop offset="0.6" stop-color="#009"/><stop offset="0.7" stop-color="#00a"/><stop offset="0.8" stop-color="#01f"/><stop offset="0.8" stop-color="#02f"/><stop offset="0.8" stop-color="#08f"/><stop offset="0.9" stop-color="#08f"/><stop offset="0.9" stop-color="#06f"/><stop offset="1" stop-color="#06f"/></linearGradient><linearGradient id="s5" x2="0" y2="1"><stop offset="0" stop-color="#00a"/><stop offset="0.2" stop-color="#009"/><stop offset="0.3" stop-color="#009"/><stop offset="0.4" stop-color="#00a"/><stop offset="0.6" stop-color="#009"/><stop offset="0.7" stop-color="#00c"/><stop offset="0.8" stop-color="#03f"/><stop offset="0.8" stop-color="#09f"/><stop offset="0.8" stop-color="#0bf"/><stop offset="0.9" stop-color="#0bf"/><stop offset="0.9" stop-color="#0df"/><stop offset="1" stop-color="#0df"/></linearGradient><linearGradient id="s6" x2="0" y2="1"><stop offset="0" stop-color="#00a"/><stop offset="0.2" stop-color="#009"/><stop offset="0.3" stop-color="#00a"/><stop offset="0.4" stop-color="#00a"/><stop offset="0.6" stop-color="#009"/><stop offset="0.7" stop-color="#009"/><stop offset="0.8" stop-color="#009"/><stop offset="0.8" stop-color="#00b"/><stop offset="0.8" stop-color="#00e"/><stop offset="0.9" stop-color="#00e"/><stop offset="0.9" stop-color="#00f"/><stop offset="1" stop-color="#00f"/></linearGradient><linearGradient id="s7" x2="0" y2="1"><stop offset="0" stop-color="#00a"/><stop offset="0.2" stop-color="#009"/><stop offset="0.3" stop-color="#00a"/><stop offset="0.4" stop-color="#009"/><stop offset="0.6" stop-color="#00a"/><stop offset="0.7" stop-color="#009"/><stop offset="0.8" stop-color="#009"/><stop offset="0.8" stop-color="#009"/><stop offset="0.8" stop-color="#00e"/><stop offset="0.9" stop-color="#00e"/><stop offset="0.9" stop-color="#00f"/><stop offset="1" stop-color="#00f"/></linearGradient><linearGradient id="s8" x2="0" y2="1"><stop offset="0" stop-color="#00a"/><stop offset="0.2" stop-color="#00a"/><stop offset="0.3" stop-color="#009"/><stop offset="0.4" stop-color="#00a"/><stop offset="0.6" stop-color="#00a"/><stop offset="0.7" stop-color="#009"/><stop offset="0.8" stop-color="#00a"/><stop offset="0.8" stop-color="#00a"/><stop offset="0.8" stop-color="#00f"/><stop offset="0.9" stop-color="#00f"/><stop offset="0.9" stop-color="#02f"/><stop offset="1" stop-color="#02f"/></linearGradient><linearGradient id="s9" x2="0" y2="1"><stop offset="0" stop-color="#009"/><stop offset="0.2" stop-color="#009"/><stop offset="0.3" stop-color="#00a"/><stop offset="0.4" stop-color="#009"/><stop offset="0.6" stop-color="#00a"/><stop offset="0.7" stop-color="#00a"/><stop offset="0.8" stop-color="#00a"/><stop offset="0.8" stop-color="#00c"/><stop offset="0.8" stop-color="#02f"/><stop offset="0.9" stop-color="#02f"/><stop offset="0.9" stop-color="#01f"/><stop offset="1" stop-color="#01f"/></linearGradient><linearGradient id="s10" x2="0" y2="1"><stop offset="0" stop-color="#009"/><stop offset="0.2" stop-color="#00a"/><stop offset="0.3" stop-color="#00a"/><stop offset="0.4" stop-color="#009"/><stop offset="0.6" stop-color="#00a"/><stop offset="0.7" stop-color="#009"/><stop offset="0.8" stop-color="#00a"/><stop offset="0.8" stop-color="#00b"/><stop offset="0.8" stop-color="#04f"/><stop offset="0.9" stop-color="#04f"/><stop offset="0.9" stop-color="#03f"/><stop offset="1" stop-color="#03f"/></linearGradient><linearGradient id="s11" x2="0" y2="1"><stop offset="0" stop-color="#009"/><stop offset="0.2" stop-color="#009"/><stop offset="0.3" stop-color="#009"/><stop offset="0.4" stop-color="#009"/><stop offset="0.6" stop-color="#00a"/><stop offset="0.7" stop-color="#009"/><stop offset="0.8" stop-color="#00a"/><stop offset="0.8" stop-color="#00c"/><stop offset="0.8" stop-color="#02f"/><stop offset="0.9" stop-color="#02f"/><stop offset="0.9" stop-color="#01f"/><stop offset="1" stop-color="#01f"/></linearGradient><linearGradient id="s12" x2="0" y2="1"><stop offset="0" stop-color="#009"/><stop offset="0.2" stop-color="#009"/><stop offset="0.3" stop-color="#00a"/><stop offset="0.4" stop-color="#00c"/><stop offset="0.6" stop-color="#00e"/><stop offset="0.7" stop-color="#01f"/><stop offset="0.8" stop-color="#03f"/><stop offset="0.8" stop-color="#07f"/><stop offset="0.8" stop-color="#0ff"/><stop offset="0.9" stop-color="#0ff"/><stop offset="0.9" stop-color="#0ff"/><stop offset="1" stop-color="#0ff"/></linearGradient><linearGradient id="s13" x2="0" y2="1"><stop offset="0" stop-color="#009"/><stop offset="0.2" stop-color="#009"/><stop offset="0.3" stop-color="#009"/><stop offset="0.4" stop-color="#009"/><stop offset="0.6" stop-color="#00e"/><stop offset="0.7" stop-color="#03f"/><stop offset="0.8" stop-color="#06f"/><stop offset="0.8" stop-color="#0cf"/><stop offset="0.8" stop-color="#3fc"/><stop offset="0.9" stop-color="#3fc"/><stop offset="0.9" stop-color="#2fd"/><stop offset="1" stop-color="#2fd"/></linearGradient><linearGradient id="s14" x2="0" y2="1"><stop offset="0" stop-color="#00a"/><stop offset="0.2" stop-color="#009"/><stop offset="0.3" stop-color="#00a"/><stop offset="0.4" stop-color="#009"/><stop offset="0.6" stop-color="#00b"/><stop offset="0.7" stop-color="#00f"/><stop offset="0.8" stop-color="#04f"/><stop offset="0.8" stop-color="#08f"/><stop offset="0.8" stop-color="#0df"/><stop offset="0.9" stop-color="#0df"/><stop offset="0.9" stop-color="#0cf"/><stop offset="1" stop-color="#0cf"/></linearGradient><linearGradient id="s15" x2="0" y2="1"><stop offset="0" stop-color="#00a"/><stop offset="0.2" stop-color="#00a"/><stop offset="0.3" stop-color="#009"/><stop offset="0.4" stop-color="#00a"/><stop offset="0.6" stop-color="#009"/><stop offset="0.7" stop-color="#009"/><stop offset="0.8" stop-color="#00c"/><stop offset="0.8" stop-color="#00d"/><stop offset="0.8" stop-color="#04f"/><stop offset="0.9" stop-color="#04f"/><stop offset="0.9" stop-color="#04f"/><stop offset="1" stop-color="#04f"/></linearGradient><linearGradient id="s16" x2="0" y2="1"><stop offset="0" stop-color="#009"/><stop offset="0.2" stop-color="#009"/><stop offset="0.3" stop-color="#009"/><stop offset="0.4" stop-color="#009"/><stop offset="0.6" stop-color="#009"/><stop offset="0.7" stop-color="#009"/><stop offset="0.8" stop-color="#00d"/><stop offset="0.8" stop-color="#01f"/><stop offset="0.8" stop-color="#02f"/><stop offset="0.9" stop-color="#02f"/><stop offset="0.9" stop-color="#03f"/><stop offset="1" stop-color="#03f"/></linearGradient><linearGradient id="s17" x2="0" y2="1"><stop offset="0" stop-color="#00a"/><stop offset="0.2" stop-color="#009"/><stop offset="0.3" stop-color="#00a"/><stop offset="0.4" stop-color="#009"/><stop offset="0.6" stop-color="#009"/><stop offset="0.7" stop-color="#00a"/><stop offset="0.8" stop-color="#01f"/><stop offset="0.8" stop-color="#03f"/><stop offset="0.8" stop-color="#07f"/><stop offset="0.9" stop-color="#07f"/><stop offset="0.9" stop-color="#06f"/><stop offset="1" stop-color="#06f"/></linearGradient><linearGradient id="s18" x2="0" y2="1"><stop offset="0" stop-color="#00a"/><stop offset="0.2" stop-color="#00a"/><stop offset="0.3" stop-color="#00a"/><stop offset="0.4" stop-color="#009"/><stop offset="0.6" stop-color="#009"/><stop offset="0.7" stop-color="#009"/><stop offset="0.8" stop-color="#00a"/><stop offset="0.8" stop-color="#00d"/><stop offset="0.8" stop-color="#03f"/><stop offset="0.9" stop-color="#03f"/><stop offset="0.9" stop-color="#03f"/><stop offset="1" stop-color="#03f"/></linearGradient><linearGradient id="s19" x2="0" y2="1"><stop offset="0" stop-color="#009"/><stop offset="0.2" stop-color="#009"/><stop offset="0.3" stop-color="#00a"/><stop offset="0.4" stop-color="#009"/><stop offset="0.6" stop-color="#009"/><stop offset="0.7" stop-color="#009"/><stop offset="0.8" stop-color="#00b"/><stop offset="0.8" stop-color="#00f"/><stop offset="0.8" stop-color="#00e"/><stop offset="0.9" stop-color="#00e"/><stop offset="0.9" stop-color="#00f"/><stop offset="1" stop-color="#00f"/></linearGradient><linearGradient id="s20" x2="0" y2="1"><stop offset="0" stop-color="#00a"/><stop offset="0.2" stop-color="#009"/><stop offset="0.3" stop-color="#009"/><stop offset="0.4" stop-color="#009"/><stop offset="0.6" stop-color="#00c"/><stop offset="0.7" stop-color="#00c"/><stop offset="0.8" stop-color="#00f"/><stop offset="0.8" stop-color="#04f"/><stop offset="0.8" stop-color="#09f"/><stop offset="0.9" stop-color="#09f"/><stop offset="0.9" stop-color="#0bf"/><stop offset="1" stop-color="#0bf"/></linearGradient><linearGradient id="s21" x2="0" y2="1"><stop offset="0" stop-color="#009"/><stop offset="0.2" stop-color="#00a"/><stop offset="0.3" stop-color="#009"/><stop offset="0.4" stop-color="#009"/><stop offset="0.6" stop-color="#009"/><stop offset="0.7" stop-color="#00a"/><stop offset="0.8" stop-color="#00c"/><stop offset="0.8" stop-color="#00e"/><stop offset="0.8" stop-color="#04f"/><stop offset="0.9" stop-color="#04f"/><stop offset="0.9" stop-color="#03f"/><stop offset="1" stop-color="#03f"/></linearGradient><linearGradient id="s22" x2="0" y2="1"><stop offset="0" stop-color="#009"/><stop offset="0.2" stop-color="#009"/><stop offset="0.3" stop-color="#00a"/><stop offset="0.4" stop-color="#00a"/><stop offset="0.6" stop-color="#009"/><stop offset="0.7" stop-color="#00a"/><stop offset="0.8" stop-color="#00a"/><stop offset="0.8" stop-color="#00c"/><stop offset="0.8" stop-color="#01f"/><stop offset="0.9" stop-color="#01f"/><stop offset="0.9" stop-color="#03f"/><stop offset="1" stop-color="#03f"/></linearGradient><linearGradient id="s23" x2="0" y2="1"><stop offset="0" stop-color="#009"/><stop offset="0.2" stop-color="#009"/><stop offset="0.3" stop-color="#00a"/><stop offset="0.4" stop-color="#00c"/><stop offset="0.6" stop-color="#00f"/><stop offset="0.7" stop-color="#02f"/><stop offset="0.8" stop-color="#03f"/><stop offset="0.8" stop-color="#07f"/><stop offset="0.8" stop-color="#0df"/><stop offset="0.9" stop-color="#0df"/><stop offset="0.9" stop-color="#0bf"/><stop offset="1" stop-color="#0bf"/></linearGradient><linearGradient id="s24" x2="0" y2="1"><stop offset="0" stop-color="#009"/><stop offset="0.2" stop-color="#00a"/><stop offset="0.3" stop-color="#009"/><stop offset="0.4" stop-color="#009"/><stop offset="0.6" stop-color="#00a"/><stop offset="0.7" stop-color="#00a"/><stop offset="0.8" stop-color="#00a"/><stop offset="0.8" stop-color="#00c"/><stop offset="0.8" stop-color="#04f"/><stop offset="0.9" stop-color="#04f"/><stop offset="0.9" stop-color="#03f"/><stop offset="1" stop-color="#03f"/></linearGradient><linearGradient id="s25" x2="0" y2="1"><stop offset="0" stop-color="#009"/><stop offset="0.2" stop-color="#009"/><stop offset="0.3" stop-color="#009"/><stop offset="0.4" stop-color="#009"/><stop offset="0.6" stop-color="#00a"/><stop offset="0.7" stop-color="#009"/><stop offset="0.8" stop-color="#009"/><stop offset="0.8" stop-color="#00a"/><stop offset="0.8" stop-color="#00e"/><stop offset="0.9" stop-color="#00e"/><stop offset="0.9" stop-color="#00e"/><stop offset="1" stop-color="#00e"/></linearGradient><linearGradient id="s26" x2="0" y2="1"><stop offset="0" stop-color="#009"/><stop offset="0.2" stop-color="#009"/><stop offset="0.3" stop-color="#00a"/><stop offset="0.4" stop-color="#009"/><stop offset="0.6" stop-color="#00a"/><stop offset="0.7" stop-color="#00a"/><stop offset="0.8" stop-color="#009"/><stop offset="0.8" stop-color="#00b"/><stop offset="0.8" stop-color="#02f"/><stop offset="0.9" stop-color="#02f"/><stop offset="0.9" stop-color="#01f"/><stop offset="1" stop-color="#01f"/></linearGradient><linearGradient id="s27" x2="0" y2="1"><stop offset="0" stop-color="#00a"/><stop offset="0.2" stop-color="#00a"/><stop offset="0.3" stop-color="#00a"/><stop offset="0.4" stop-color="#009"/><stop offset="0.6" stop-color="#00a"/><stop offset="0.7" stop-color="#009"/><stop offset="0.8" stop-color="#00b"/><stop offset="0.8" stop-color="#00d"/><stop offset="0.8" stop-color="#03f"/><stop offset="0.9" stop-color="#03f"/><stop offset="0.9" stop-color="#03f"/><stop offset="1" stop-color="#03f"/></linearGradient><linearGradient id="s28" x2="0" y2="1"><stop offset="0" stop-color="#009"/><stop offset="0.2" stop-color="#009"/><stop offset="0.3" stop-color="#009"/><stop offset="0.4" stop-color="#00a"/><stop offset="0.6" stop-color="#00d"/><stop offset="0.7" stop-color="#00f"/><stop offset="0.8" stop-color="#03f"/><stop offset="0.8" stop-color="#05f"/><stop offset="0.8" stop-color="#0af"/><stop offset="0.9" stop-color="#0af"/><stop offset="0.9" stop-color="#0df"/><stop offset="1" stop-color="#0df"/></linearGradient><linearGradient id="s29" x2="0" y2="1"><stop offset="0" stop-color="#009"/><stop offset="0.2" stop-color="#009"/><stop offset="0.3" stop-color="#009"/><stop offset="0.4" stop-color="#009"/><stop offset="0.6" stop-color="#009"/><stop offset="0.7" stop-color="#009"/><stop offset="0.8" stop-color="#009"/><stop offset="0.8" stop-color="#00c"/><stop offset="0.8" stop-color="#00f"/><stop offset="0.9" stop-color="#00f"/><stop offset="0.9" stop-color="#00f"/><stop offset="1" stop-color="#00f"/></linearGradient><linearGradient id="s30" x2="0" y2="1"><stop offset="0" stop-color="#009"/><stop offset="0.2" stop-color="#009"/><stop offset="0.3" stop-color="#00a"/><stop offset="0.4" stop-color="#009"/><stop offset="0.6" stop-color="#00a"/><stop offset="0.7" stop-color="#00a"/><stop offset="0.8" stop-color="#00c"/><stop offset="0.8" stop-color="#02f"/><stop offset="0.8" stop-color="#06f"/><stop offset="0.9" stop-color="#06f"/><stop offset="0.9" stop-color="#09f"/><stop offset="1" stop-color="#09f"/></linearGradient><linearGradient id="s31" x2="0" y2="1"><stop offset="0" stop-color="#00a"/><stop offset="0.2" stop-color="#009"/><stop offset="0.3" stop-color="#009"/><stop offset="0.4" stop-color="#00a"/><stop offset="0.6" stop-color="#009"/><stop offset="0.7" stop-color="#009"/><stop offset="0.8" stop-color="#00c"/><stop offset="0.8" stop-color="#00e"/><stop offset="0.8" stop-color="#05f"/><stop offset="0.9" stop-color="#05f"/><stop offset="0.9" stop-color="#03f"/><stop offset="1" stop-color="#03f"/></linearGradient><linearGradient id="s32" x2="0" y2="1"><stop offset="0" stop-color="#00a"/><stop offset="0.2" stop-color="#00a"/><stop offset="0.3" stop-color="#009"/><stop offset="0.4" stop-color="#009"/><stop offset="0.6" stop-color="#00a"/><stop offset="0.7" stop-color="#00b"/><stop offset="0.8" stop-color="#00c"/><stop offset="0.8" stop-color="#00e"/><stop offset="0.8" stop-color="#02f"/><stop offset="0.9" stop-color="#02f"/><stop offset="0.9" stop-color="#03f"/><stop offset="1" stop-color="#03f"/></linearGradient><linearGradient id="s33" x2="0" y2="1"><stop offset="0" stop-color="#00a"/><stop offset="0.2" stop-color="#009"/><stop offset="0.3" stop-color="#009"/><stop offset="0.4" stop-color="#00a"/><stop offset="0.6" stop-color="#00a"/><stop offset="0.7" stop-color="#00b"/><stop offset="0.8" stop-color="#00a"/><stop offset="0.8" stop-color="#00e"/><stop offset="0.8" stop-color="#03f"/><stop offset="0.9" stop-color="#03f"/><stop offset="0.9" stop-color="#02f"/><stop offset="1" stop-color="#02f"/></linearGradient><linearGradient id="s34" x2="0" y2="1"><stop offset="0" stop-color="#00a"/><stop offset="0.2" stop-color="#00b"/><stop offset="0.3" stop-color="#00a"/><stop offset="0.4" stop-color="#009"/><stop offset="0.6" stop-color="#009"/><stop offset="0.7" stop-color="#00a"/><stop offset="0.8" stop-color="#00e"/><stop offset="0.8" stop-color="#04f"/><stop offset="0.8" stop-color="#08f"/><stop offset="0.9" stop-color="#08f"/><stop offset="0.9" stop-color="#0af"/><stop offset="1" stop-color="#0af"/></linearGradient><linearGradient id="s35" x2="0" y2="1"><stop offset="0" stop-color="#00b"/><stop offset="0.2" stop-color="#00a"/><stop offset="0.3" stop-color="#00a"/><stop offset="0.4" stop-color="#00b"/><stop offset="0.6" stop-color="#00b"/><stop offset="0.7" stop-color="#00c"/><stop offset="0.8" stop-color="#00d"/><stop offset="0.8" stop-color="#01f"/><stop offset="0.8" stop-color="#04f"/><stop offset="0.9" stop-color="#04f"/><stop offset="0.9" stop-color="#04f"/><stop offset="1" stop-color="#04f"/></linearGradient><linearGradient id="s36" x2="0" y2="1"><stop offset="0" stop-color="#009"/><stop offset="0.2" stop-color="#00a"/><stop offset="0.3" stop-color="#009"/><stop offset="0.4" stop-color="#00a"/><stop offset="0.6" stop-color="#00b"/><stop offset="0.7" stop-color="#00a"/><stop offset="0.8" stop-color="#00a"/><stop offset="0.8" stop-color="#00a"/><stop offset="0.8" stop-color="#01f"/><stop offset="0.9" stop-color="#01f"/><stop offset="0.9" stop-color="#02f"/><stop offset="1" stop-color="#02f"/></linearGradient><linearGradient id="s37" x2="0" y2="1"><stop offset="0" stop-color="#00a"/><stop offset="0.2" stop-color="#00b"/><stop offset="0.3" stop-color="#00a"/><stop offset="0.4" stop-color="#00b"/><stop offset="0.6" stop-color="#00a"/><stop offset="0.7" stop-color="#00a"/><stop offset="0.8" stop-color="#009"/><stop offset="0.8" stop-color="#00b"/><stop offset="0.8" stop-color="#00f"/><stop offset="0.9" stop-color="#00f"/><stop offset="0.9" stop-color="#00f"/><stop offset="1" stop-color="#00f"/></linearGradient><linearGradient id="s38" x2="0" y2="1"><stop offset="0" stop-color="#00a"/><stop offset="0.2" stop-color="#009"/><stop offset="0.3" stop-color="#00a"/><stop offset="0.4" stop-color="#00c"/><stop offset="0.6" stop-color="#00e"/><stop offset="0.7" stop-color="#03f"/><stop offset="0.8" stop-color="#06f"/><stop offset="0.8" stop-color="#09f"/><stop offset="0.8" stop-color="#1fe"/><stop offset="0.9" stop-color="#1fe"/><stop offset="0.9" stop-color="#0ff"/><stop offset="1" stop-color="#0ff"/></linearGradient><linearGradient id="s39" x2="0" y2="1"><stop offset="0" stop-color="#00b"/><stop offset="0.2" stop-color="#009"/><stop offset="0.3" stop-color="#00b"/><stop offset="0.4" stop-color="#009"/><stop offset="0.6" stop-color="#009"/><stop offset="0.7" stop-color="#00a"/><stop offset="0.8" stop-color="#00c"/><stop offset="0.8" stop-color="#00c"/><stop offset="0.8" stop-color="#00f"/><stop offset="0.9" stop-color="#00f"/><stop offset="0.9" stop-color="#02f"/><stop offset="1" stop-color="#02f"/></linearGradient><linearGradient id="s40" x2="0" y2="1"><stop offset="0" stop-color="#00a"/><stop offset="0.2" stop-color="#00b"/><stop offset="0.3" stop-color="#00a"/><stop offset="0.4" stop-color="#00a"/><stop offset="0.6" stop-color="#00d"/><stop offset="0.7" stop-color="#00f"/><stop offset="0.8" stop-color="#01f"/><stop offset="0.8" stop-color="#04f"/><stop offset="0.8" stop-color="#09f"/><stop offset="0.9" stop-color="#09f"/><stop offset="0.9" stop-color="#0df"/><stop offset="1" stop-color="#0df"/></linearGradient><linearGradient id="s41" x2="0" y2="1"><stop offset="0" stop-color="#009"/><stop offset="0.2" stop-color="#00a"/><stop offset="0.3" stop-color="#00b"/><stop offset="0.4" stop-color="#00a"/><stop offset="0.6" stop-color="#00a"/><stop offset="0.7" stop-color="#009"/><stop offset="0.8" stop-color="#00c"/><stop offset="0.8" stop-color="#00c"/><stop offset="0.8" stop-color="#04f"/><stop offset="0.9" stop-color="#04f"/><stop offset="0.9" stop-color="#02f"/><stop offset="1" stop-color="#02f"/></linearGradient><linearGradient id="s42" x2="0" y2="1"><stop offset="0" stop-color="#00a"/><stop offset="0.2" stop-color="#00a"/><stop offset="0.3" stop-color="#00a"/><stop offset="0.4" stop-color="#00a"/><stop offset="0.6" stop-color="#00b"/><stop offset="0.7" stop-color="#00b"/><stop offset="0.8" stop-color="#00c"/><stop offset="0.8" stop-color="#02f"/><stop offset="0.8" stop-color="#07f"/><stop offset="0.9" stop-color="#07f"/><stop offset="0.9" stop-color="#07f"/><stop offset="1" stop-color="#07f"/></linearGradient><linearGradient id="s43" x2="0" y2="1"><stop offset="0" stop-color="#00a"/><stop offset="0.2" stop-color="#00a"/><stop offset="0.3" stop-color="#00b"/><stop offset="0.4" stop-color="#00a"/><stop offset="0.6" stop-color="#00b"/><stop offset="0.7" stop-color="#00a"/><stop offset="0.8" stop-color="#00a"/><stop offset="0.8" stop-color="#00c"/><stop offset="0.8" stop-color="#01f"/><stop offset="0.9" stop-color="#01f"/><stop offset="0.9" stop-color="#02f"/><stop offset="1" stop-color="#02f"/></linearGradient><linearGradient id="s44" x2="0" y2="1"><stop offset="0" stop-color="#009"/><stop offset="0.2" stop-color="#00a"/><stop offset="0.3" stop-color="#009"/><stop offset="0.4" stop-color="#00a"/><stop offset="0.6" stop-color="#00a"/><stop offset="0.7" stop-color="#009"/><stop offset="0.8" stop-color="#009"/><stop offset="0.8" stop-color="#00a"/><stop offset="0.8" stop-color="#00f"/><stop offset="0.9" stop-color="#00f"/><stop offset="0.9" stop-color="#00f"/><stop offset="1" stop-color="#00f"/></linearGradient><linearGradient id="s45" x2="0" y2="1"><stop offset="0" stop-color="#009"/><stop offset="0.2" stop-color="#00a"/><stop offset="0.3" stop-color="#00a"/><stop offset="0.4" stop-color="#009"/><stop offset="0.6" stop-color="#009"/><stop offset="0.7" stop-color="#00a"/><stop offset="0.8" stop-color="#00d"/><stop offset="0.8" stop-color="#00f"/><stop offset="0.8" stop-color="#05f"/><stop offset="0.9" stop-color="#05f"/><stop offset="0.9" stop-color="#03f"/><stop offset="1" stop-color="#03f"/></linearGradient><linearGradient id="s46" x2="0" y2="1"><stop offset="0" stop-color="#00a"/><stop offset="0.2" stop-color="#00a"/><stop offset="0.3" stop-color="#00a"/><stop offset="0.4" stop-color="#009"/><stop offset="0.6" stop-color="#009"/><stop offset="0.7" stop-color="#00a"/><stop offset="0.8" stop-color="#00c"/><stop offset="0.8" stop-color="#00c"/><stop offset="0.8" stop-color="#00f"/><stop offset="0.9" stop-color="#00f"/><stop offset="0.9" stop-color="#01f"/><stop offset="1" stop-color="#01f"/></linearGradient><linearGradient id="s47" x2="0" y2="1"><stop offset="0" stop-color="#00b"/><stop offset="0.2" stop-color="#009"/><stop offset="0.3" stop-color="#00b"/><stop offset="0.4" stop-color="#00a"/><stop offset="0.6" stop-color="#009"/><stop offset="0.7" stop-color="#00a"/><stop offset="0.8" stop-color="#00b"/><stop offset="0.8" stop-color="#00d"/><stop offset="0.8" stop-color="#06f"/><stop offset="0.9" stop-color="#06f"/><stop offset="0.9" stop-color="#05f"/><stop offset="1" stop-color="#05f"/></linearGradient><linearGradient id="s48" x2="0" y2="1"><stop offset="0" stop-color="#00b"/><stop offset="0.2" stop-color="#00a"/><stop offset="0.3" stop-color="#00a"/><stop offset="0.4" stop-color="#00b"/><stop offset="0.6" stop-color="#009"/><stop offset="0.7" stop-color="#00b"/><stop offset="0.8" stop-color="#00b"/><stop offset="0.8" stop-color="#00e"/><stop offset="0.8" stop-color="#01f"/><stop offset="0.9" stop-color="#01f"/><stop offset="0.9" stop-color="#03f"/><stop offset="1" stop-color="#03f"/></linearGradient><linearGradient id="s49" x2="0" y2="1"><stop offset="0" stop-color="#00a"/><stop offset="0.2" stop-color="#00a"/><stop offset="0.3" stop-color="#009"/><stop offset="0.4" stop-color="#009"/><stop offset="0.6" stop-color="#00b"/><stop offset="0.7" stop-color="#00a"/><stop offset="0.8" stop-color="#00d"/><stop offset="0.8" stop-color="#00f"/><stop offset="0.8" stop-color="#00f"/><stop offset="0.9" stop-color="#00f"/><stop offset="0.9" stop-color="#00e"/><stop offset="1" stop-color="#00e"/></linearGradient><linearGradient id="s50" x2="0" y2="1"><stop offset="0" stop-color="#00a"/><stop offset="0.2" stop-color="#009"/><stop offset="0.3" stop-color="#00a"/><stop offset="0.4" stop-color="#00b"/><stop offset="0.6" stop-color="#00b"/><stop offset="0.7" stop-color="#00a"/><stop offset="0.8" stop-color="#00d"/><stop offset="0.8" stop-color="#00f"/><stop offset="0.8" stop-color="#03f"/><stop offset="0.9" stop-color="#03f"/><stop offset="0.9" stop-color="#03f"/><stop offset="1" stop-color="#03f"/></linearGradient><linearGradient id="s51" x2="0" y2="1"><stop offset="0" stop-color="#009"/><stop offset="0.2" stop-color="#00a"/><stop offset="0.3" stop-color="#00a"/><stop offset="0.4" stop-color="#009"/><stop offset="0.6" stop-color="#00a"/><stop offset="0.7" stop-color="#00a"/><stop offset="0.8" stop-color="#00b"/><stop offset="0.8" stop-color="#00b"/><stop offset="0.8" stop-color="#00e"/><stop offset="0.9" stop-color="#00e"/><stop offset="0.9" stop-color="#00f"/><stop offset="1" stop-color="#00f"/></linearGradient><linearGradient id="s52" x2="0" y2="1"><stop offset="0" stop-color="#009"/><stop offset="0.2" stop-color="#00b"/><stop offset="0.3" stop-color="#00d"/><stop offset="0.4" stop-color="#00f"/><stop offset="0.6" stop-color="#04f"/><stop offset="0.7" stop-color="#06f"/><stop offset="0.8" stop-color="#09f"/><stop offset="0.8" stop-color="#0ef"/><stop offset="0.8" stop-color="#6f9"/><stop offset="0.9" stop-color="#6f9"/><stop offset="0.9" stop-color="#2fd"/><stop offset="1" stop-color="#2fd"/></linearGradient><linearGradient id="s53" x2="0" y2="1"><stop offset="0" stop-color="#00a"/><stop offset="0.2" stop-color="#009"/><stop offset="0.3" stop-color="#00b"/><stop offset="0.4" stop-color="#00c"/><stop offset="0.6" stop-color="#00e"/><stop offset="0.7" stop-color="#01f"/><stop offset="0.8" stop-color="#03f"/><stop offset="0.8" stop-color="#07f"/><stop offset="0.8" stop-color="#0bf"/><stop offset="0.9" stop-color="#0bf"/><stop offset="0.9" stop-color="#0df"/><stop offset="1" stop-color="#0df"/></linearGradient><linearGradient id="s54" x2="0" y2="1"><stop offset="0" stop-color="#00a"/><stop offset="0.2" stop-color="#00a"/><stop offset="0.3" stop-color="#00a"/><stop offset="0.4" stop-color="#00a"/><stop offset="0.6" stop-color="#009"/><stop offset="0.7" stop-color="#009"/><stop offset="0.8" stop-color="#00b"/><stop offset="0.8" stop-color="#00e"/><stop offset="0.8" stop-color="#00f"/><stop offset="0.9" stop-color="#00f"/><stop offset="0.9" stop-color="#02f"/><stop offset="1" stop-color="#02f"/></linearGradient><linearGradient id="s55" x2="0" y2="1"><stop offset="0" stop-color="#00a"/><stop offset="0.2" stop-color="#00b"/><stop offset="0.3" stop-color="#00a"/><stop offset="0.4" stop-color="#00a"/><stop offset="0.6" stop-color="#00a"/><stop offset="0.7" stop-color="#00a"/><stop offset="0.8" stop-color="#00a"/><stop offset="0.8" stop-color="#00e"/><stop offset="0.8" stop-color="#03f"/><stop offset="0.9" stop-color="#03f"/><stop offset="0.9" stop-color="#03f"/><stop offset="1" stop-color="#03f"/></linearGradient><linearGradient id="s56" x2="0" y2="1"><stop offset="0" stop-color="#00b"/><stop offset="0.2" stop-color="#00b"/><stop offset="0.3" stop-color="#009"/><stop offset="0.4" stop-color="#009"/><stop offset="0.6" stop-color="#00b"/><stop offset="0.7" stop-color="#00a"/><stop offset="0.8" stop-color="#00e"/><stop offset="0.8" stop-color="#02f"/><stop offset="0.8" stop-color="#01f"/><stop offset="0.9" stop-color="#01f"/><stop offset="0.9" stop-color="#00f"/><stop offset="1" stop-color="#00f"/></linearGradient><linearGradient id="s57" x2="0" y2="1"><stop offset="0" stop-color="#00b"/><stop offset="0.2" stop-color="#00a"/><stop offset="0.3" stop-color="#00a"/><stop offset="0.4" stop-color="#009"/><stop offset="0.6" stop-color="#009"/><stop offset="0.7" stop-color="#009"/><stop offset="0.8" stop-color="#00b"/><stop offset="0.8" stop-color="#00d"/><stop offset="0.8" stop-color="#00f"/><stop offset="0.9" stop-color="#00f"/><stop offset="0.9" stop-color="#00f"/><stop offset="1" stop-color="#00f"/></linearGradient><linearGradient id="s58" x2="0" y2="1"><stop offset="0" stop-color="#009"/><stop offset="0.2" stop-color="#00a"/><stop offset="0.3" stop-color="#00b"/><stop offset="0.4" stop-color="#00b"/><stop offset="0.6" stop-color="#00a"/><stop offset="0.7" stop-color="#00e"/><stop offset="0.8" stop-color="#05f"/><stop offset="0.8" stop-color="#09f"/><stop offset="0.8" stop-color="#0cf"/><stop offset="0.9" stop-color="#0cf"/><stop offset="0.9" stop-color="#0ef"/><stop offset="1" stop-color="#0ef"/></linearGradient><linearGradient id="s59" x2="0" y2="1"><stop offset="0" stop-color="#009"/><stop offset="0.2" stop-color="#00a"/><stop offset="0.3" stop-color="#009"/><stop offset="0.4" stop-color="#009"/><stop offset="0.6" stop-color="#009"/><stop offset="0.7" stop-color="#00a"/><stop offset="0.8" stop-color="#00b"/><stop offset="0.8" stop-color="#00c"/><stop offset="0.8" stop-color="#02f"/><stop offset="0.9" stop-color="#02f"/><stop offset="0.9" stop-color="#01f"/><stop offset="1" stop-color="#01f"/></linearGradient><linearGradient id="s60" x2="0" y2="1"><stop offset="0" stop-color="#00a"/><stop offset="0.2" stop-color="#00a"/><stop offset="0.3" stop-color="#009"/><stop offset="0.4" stop-color="#00b"/><stop offset="0.6" stop-color="#00a"/><stop offset="0.7" stop-color="#009"/><stop offset="0.8" stop-color="#00c"/><stop offset="0.8" stop-color="#00e"/><stop offset="0.8" stop-color="#06f"/><stop offset="0.9" stop-color="#06f"/><stop offset="0.9" stop-color="#05f"/><stop offset="1" stop-color="#05f"/></linearGradient><linearGradient id="s61" x2="0" y2="1"><stop offset="0" stop-color="#00b"/><stop offset="0.2" stop-color="#00a"/><stop offset="0.3" stop-color="#00a"/><stop offset="0.4" stop-color="#00b"/><stop offset="0.6" stop-color="#00a"/><stop offset="0.7" stop-color="#00c"/><stop offset="0.8" stop-color="#00d"/><stop offset="0.8" stop-color="#00e"/><stop offset="0.8" stop-color="#04f"/><stop offset="0.9" stop-color="#04f"/><stop offset="0.9" stop-color="#03f"/><stop offset="1" stop-color="#03f"/></linearGradient><linearGradient id="s62" x2="0" y2="1"><stop offset="0" stop-color="#00b"/><stop offset="0.2" stop-color="#009"/><stop offset="0.3" stop-color="#00b"/><stop offset="0.4" stop-color="#01f"/><stop offset="0.6" stop-color="#02f"/><stop offset="0.7" stop-color="#05f"/><stop offset="0.8" stop-color="#0af"/><stop offset="0.8" stop-color="#0cf"/><stop offset="0.8" stop-color="#1fe"/><stop offset="0.9" stop-color="#1fe"/><stop offset="0.9" stop-color="#0ff"/><stop offset="1" stop-color="#0ff"/></linearGradient><linearGradient id="s63" x2="0" y2="1"><stop offset="0" stop-color="#00b"/><stop offset="0.2" stop-color="#00a"/><stop offset="0.3" stop-color="#00a"/><stop offset="0.4" stop-color="#009"/><stop offset="0.6" stop-color="#00a"/><stop offset="0.7" stop-color="#00b"/><stop offset="0.8" stop-color="#00a"/><stop offset="0.8" stop-color="#00d"/><stop offset="0.8" stop-color="#01f"/><stop offset="0.9" stop-color="#01f"/><stop offset="0.9" stop-color="#02f"/><stop offset="1" stop-color="#02f"/></linearGradient><linearGradient id="s64" x2="0" y2="1"><stop offset="0" stop-color="#009"/><stop offset="0.2" stop-color="#00b"/><stop offset="0.3" stop-color="#00a"/><stop offset="0.4" stop-color="#009"/><stop offset="0.6" stop-color="#00a"/><stop offset="0.7" stop-color="#00b"/><stop offset="0.8" stop-color="#00b"/><stop offset="0.8" stop-color="#00d"/><stop offset="0.8" stop-color="#04f"/><stop offset="0.9" stop-color="#04f"/><stop offset="0.9" stop-color="#04f"/><stop offset="1" stop-color="#04f"/></linearGradient><linearGradient id="s65" x2="0" y2="1"><stop offset="0" stop-color="#00b"/><stop offset="0.2" stop-color="#00b"/><stop offset="0.3" stop-color="#00b"/><stop offset="0.4" stop-color="#00d"/><stop offset="0.6" stop-color="#01f"/><stop offset="0.7" stop-color="#04f"/><stop offset="0.8" stop-color="#08f"/><stop offset="0.8" stop-color="#0af"/><stop offset="0.8" stop-color="#0ef"/><stop offset="0.9" stop-color="#0ef"/><stop offset="0.9" stop-color="#3fc"/><stop offset="1" stop-color="#3fc"/></linearGradient><linearGradient id="s66" x2="0" y2="1"><stop offset="0" stop-color="#00a"/><stop offset="0.2" stop-color="#00a"/><stop offset="0.3" stop-color="#00a"/><stop offset="0.4" stop-color="#00b"/><stop offset="0.6" stop-color="#02f"/><stop offset="0.7" stop-color="#08f"/><stop offset="0.8" stop-color="#1fe"/><stop offset="0.8" stop-color="#7f8"/><stop offset="0.8" stop-color="#ef1"/><stop offset="0.9" stop-color="#ef1"/><stop offset="0.9" stop-color="#cf3"/><stop offset="1" stop-color="#cf3"/></linearGradient><linearGradient id="s67" x2="0" y2="1"><stop offset="0" stop-color="#00b"/><stop offset="0.2" stop-color="#009"/><stop offset="0.3" stop-color="#00a"/><stop offset="0.4" stop-color="#00b"/><stop offset="0.6" stop-color="#00e"/><stop offset="0.7" stop-color="#04f"/><stop offset="0.8" stop-color="#0af"/><stop offset="0.8" stop-color="#0ff"/><stop offset="0.8" stop-color="#0df"/><stop offset="0.9" stop-color="#0df"/><stop offset="0.9" stop-color="#0ef"/><stop offset="1" stop-color="#0ef"/></linearGradient><linearGradient id="s68" x2="0" y2="1"><stop offset="0" stop-color="#00a"/><stop offset="0.2" stop-color="#009"/><stop offset="0.3" stop-color="#009"/><stop offset="0.4" stop-color="#00b"/><stop offset="0.6" stop-color="#00c"/><stop offset="0.7" stop-color="#00f"/><stop offset="0.8" stop-color="#05f"/><stop offset="0.8" stop-color="#0ef"/><stop offset="0.8" stop-color="#9f6"/><stop offset="0.9" stop-color="#9f6"/><stop offset="0.9" stop-color="#af5"/><stop offset="1" stop-color="#af5"/></linearGradient><linearGradient id="s69" x2="0" y2="1"><stop offset="0" stop-color="#00a"/><stop offset="0.2" stop-color="#00a"/><stop offset="0.3" stop-color="#00d"/><stop offset="0.4" stop-color="#01f"/><stop offset="0.6" stop-color="#02f"/><stop offset="0.7" stop-color="#06f"/><stop offset="0.8" stop-color="#08f"/><stop offset="0.8" stop-color="#0cf"/><stop offset="0.8" stop-color="#8f7"/><stop offset="0.9" stop-color="#8f7"/><stop offset="0.9" stop-color="#5fa"/><stop offset="1" stop-color="#5fa"/></linearGradient><linearGradient id="s70" x2="0" y2="1"><stop offset="0" stop-color="#009"/><stop offset="0.2" stop-color="#00a"/><stop offset="0.3" stop-color="#00b"/><stop offset="0.4" stop-color="#009"/><stop offset="0.6" stop-color="#00a"/><stop offset="0.7" stop-color="#01f"/><stop offset="0.8" stop-color="#0bf"/><stop offset="0.8" stop-color="#4fb"/><stop offset="0.8" stop-color="#0ef"/><stop offset="0.9" stop-color="#0ef"/><stop offset="0.9" stop-color="#0ff"/><stop offset="1" stop-color="#0ff"/></linearGradient><linearGradient id="s71" x2="0" y2="1"><stop offset="0" stop-color="#009"/><stop offset="0.2" stop-color="#00a"/><stop offset="0.3" stop-color="#00b"/><stop offset="0.4" stop-color="#009"/><stop offset="0.6" stop-color="#00a"/><stop offset="0.7" stop-color="#00b"/><stop offset="0.8" stop-color="#00f"/><stop offset="0.8" stop-color="#04f"/><stop offset="0.8" stop-color="#05f"/><stop offset="0.9" stop-color="#05f"/><stop offset="0.9" stop-color="#05f"/><stop offset="1" stop-color="#05f"/></linearGradient><linearGradient id="s72" x2="0" y2="1"><stop offset="0" stop-color="#00a"/><stop offset="0.2" stop-color="#00a"/><stop offset="0.3" stop-color="#00b"/><stop offset="0.4" stop-color="#00a"/><stop offset="0.6" stop-color="#009"/><stop offset="0.7" stop-color="#00d"/><stop offset="0.8" stop-color="#07f"/><stop offset="0.8" stop-color="#0ff"/><stop offset="0.8" stop-color="#9f6"/><stop offset="0.9" stop-color="#9f6"/><stop offset="0.9" stop-color="#6f9"/><stop offset="1" stop-color="#6f9"/></linearGradient><linearGradient id="s73" x2="0" y2="1"><stop offset="0" stop-color="#009"/><stop offset="0.2" stop-color="#009"/><stop offset="0.3" stop-color="#00b"/><stop offset="0.4" stop-color="#009"/><stop offset="0.6" stop-color="#00b"/><stop offset="0.7" stop-color="#01f"/><stop offset="0.8" stop-color="#02f"/><stop offset="0.8" stop-color="#07f"/><stop offset="0.8" stop-color="#0cf"/><stop offset="0.9" stop-color="#0cf"/><stop offset="0.9" stop-color="#0bf"/><stop offset="1" stop-color="#0bf"/></linearGradient><linearGradient id="s74" x2="0" y2="1"><stop offset="0" stop-color="#009"/><stop offset="0.2" stop-color="#00a"/><stop offset="0.3" stop-color="#00a"/><stop offset="0.4" stop-color="#00a"/><stop offset="0.6" stop-color="#00b"/><stop offset="0.7" stop-color="#00a"/><stop offset="0.8" stop-color="#00b"/><stop offset="0.8" stop-color="#00e"/><stop offset="0.8" stop-color="#04f"/><stop offset="0.9" stop-color="#04f"/><stop offset="0.9" stop-color="#02f"/><stop offset="1" stop-color="#02f"/></linearGradient><linearGradient id="s75" x2="0" y2="1"><stop offset="0" stop-color="#00a"/><stop offset="0.2" stop-color="#009"/><stop offset="0.3" stop-color="#00a"/><stop offset="0.4" stop-color="#00a"/><stop offset="0.6" stop-color="#00c"/><stop offset="0.7" stop-color="#00f"/><stop offset="0.8" stop-color="#04f"/><stop offset="0.8" stop-color="#0af"/><stop offset="0.8" stop-color="#0cf"/><stop offset="0.9" stop-color="#0cf"/><stop offset="0.9" stop-color="#0df"/><stop offset="1" stop-color="#0df"/></linearGradient><linearGradient id="s76" x2="0" y2="1"><stop offset="0" stop-color="#00a"/><stop offset="0.2" stop-color="#00a"/><stop offset="0.3" stop-color="#009"/><stop offset="0.4" stop-color="#009"/><stop offset="0.6" stop-color="#00a"/><stop offset="0.7" stop-color="#009"/><stop offset="0.8" stop-color="#00a"/><stop offset="0.8" stop-color="#009"/><stop offset="0.8" stop-color="#00d"/><stop offset="0.9" stop-color="#00d"/><stop offset="0.9" stop-color="#00e"/><stop offset="1" stop-color="#00e"/></linearGradient><linearGradient id="s77" x2="0" y2="1"><stop offset="0" stop-color="#00b"/><stop offset="0.2" stop-color="#00a"/><stop offset="0.3" stop-color="#00b"/><stop offset="0.4" stop-color="#00a"/><stop offset="0.6" stop-color="#009"/><stop offset="0.7" stop-color="#009"/><stop offset="0.8" stop-color="#00a"/><stop offset="0.8" stop-color="#00d"/><stop offset="0.8" stop-color="#00f"/><stop offset="0.9" stop-color="#00f"/><stop offset="0.9" stop-color="#00f"/><stop offset="1" stop-color="#00f"/></linearGradient><linearGradient id="s78" x2="0" y2="1"><stop offset="0" stop-color="#00a"/><stop offset="0.2" stop-color="#00a"/><stop offset="0.3" stop-color="#00b"/><stop offset="0.4" stop-color="#00a"/><stop offset="0.6" stop-color="#00b"/><stop offset="0.7" stop-color="#00a"/><stop offset="0.8" stop-color="#00b"/><stop offset="0.8" stop-color="#00d"/><stop offset="0.8" stop-color="#00f"/><stop offset="0.9" stop-color="#00f"/><stop offset="0.9" stop-color="#01f"/><stop offset="1" stop-color="#01f"/></linearGradient><linearGradient id="s79" x2="0" y2="1"><stop offset="0" stop-color="#00a"/><stop offset="0.2" stop-color="#009"/><stop offset="0.3" stop-color="#00a"/><stop offset="0.4" stop-color="#00b"/><stop offset="0.6" stop-color="#009"/><stop offset="0.7" stop-color="#009"/><stop offset="0.8" stop-color="#00a"/><stop offset="0.8" stop-color="#00d"/><stop offset="0.8" stop-color="#00e"/><stop offset="0.9" stop-color="#00e"/><stop offset="0.9" stop-color="#00f"/><stop offset="1" stop-color="#00f"/></linearGradient><linearGradient id="s80" x2="0" y2="1"><stop offset="0" stop-color="#009"/><stop offset="0.2" stop-color="#00b"/><stop offset="0.3" stop-color="#00b"/><stop offset="0.4" stop-color="#00a"/><stop offset="0.6" stop-color="#009"/><stop offset="0.7" stop-color="#00a"/><stop offset="0.8" stop-color="#00a"/><stop offset="0.8" stop-color="#00d"/><stop offset="0.8" stop-color="#03f"/><stop offset="0.9" stop-color="#03f"/><stop offset="0.9" stop-color="#02f"/><stop offset="1" stop-color="#02f"/></linearGradient><linearGradient id="s81" x2="0" y2="1"><stop offset="0" stop-color="#009"/><stop offset="0.2" stop-color="#00a"/><stop offset="0.3" stop-color="#00b"/><stop offset="0.4" stop-color="#009"/><stop offset="0.6" stop-color="#00b"/><stop offset="0.7" stop-color="#00a"/><stop offset="0.8" stop-color="#009"/><stop offset="0.8" stop-color="#009"/><stop offset="0.8" stop-color="#01f"/><stop offset="0.9" stop-color="#01f"/><stop offset="0.9" stop-color="#02f"/><stop offset="1" stop-color="#02f"/></linearGradient><linearGradient id="s82" x2="0" y2="1"><stop offset="0" stop-color="#00b"/><stop offset="0.2" stop-color="#009"/><stop offset="0.3" stop-color="#009"/><stop offset="0.4" stop-color="#00b"/><stop offset="0.6" stop-color="#00a"/><stop offset="0.7" stop-color="#009"/><stop offset="0.8" stop-color="#00b"/><stop offset="0.8" stop-color="#00b"/><stop offset="0.8" stop-color="#01f"/><stop offset="0.9" stop-color="#01f"/><stop offset="0.9" stop-color="#01f"/><stop offset="1" stop-color="#01f"/></linearGradient><linearGradient id="s83" x2="0" y2="1"><stop offset="0" stop-color="#009"/><stop offset="0.2" stop-color="#00b"/><stop offset="0.3" stop-color="#00a"/><stop offset="0.4" stop-color="#00b"/><stop offset="0.6" stop-color="#00a"/><stop offset="0.7" stop-color="#00a"/><stop offset="0.8" stop-color="#00b"/><stop offset="0.8" stop-color="#00a"/><stop offset="0.8" stop-color="#00f"/><stop offset="0.9" stop-color="#00f"/><stop offset="0.9" stop-color="#01f"/><stop offset="1" stop-color="#01f"/></linearGradient><linearGradient id="s84" x2="0" y2="1"><stop offset="0" stop-color="#00a"/><stop offset="0.2" stop-color="#00a"/><stop offset="0.3" stop-color="#00a"/><stop offset="0.4" stop-color="#00b"/><stop offset="0.6" stop-color="#00b"/><stop offset="0.7" stop-color="#00b"/><stop offset="0.8" stop-color="#00b"/><stop offset="0.8" stop-color="#00a"/><stop offset="0.8" stop-color="#00d"/><stop offset="0.9" stop-color="#00d"/><stop offset="0.9" stop-color="#00e"/><stop offset="1" stop-color="#00e"/></linearGradient><linearGradient id="s85" x2="0" y2="1"><stop offset="0" stop-color="#00b"/><stop offset="0.2" stop-color="#009"/><stop offset="0.3" stop-color="#00b"/><stop offset="0.4" stop-color="#00c"/><stop offset="0.6" stop-color="#00f"/><stop offset="0.7" stop-color="#04f"/><stop offset="0.8" stop-color="#08f"/><stop offset="0.8" stop-color="#09f"/><stop offset="0.8" stop-color="#0cf"/><stop offset="0.9" stop-color="#0cf"/><stop offset="0.9" stop-color="#0ef"/><stop offset="1" stop-color="#0ef"/></linearGradient><linearGradient id="s86" x2="0" y2="1"><stop offset="0" stop-color="#00a"/><stop offset="0.2" stop-color="#009"/><stop offset="0.3" stop-color="#00b"/><stop offset="0.4" stop-color="#00d"/><stop offset="0.6" stop-color="#01f"/><stop offset="0.7" stop-color="#03f"/><stop offset="0.8" stop-color="#07f"/><stop offset="0.8" stop-color="#0bf"/><stop offset="0.8" stop-color="#0cf"/><stop offset="0.9" stop-color="#0cf"/><stop offset="0.9" stop-color="#0bf"/><stop offset="1" stop-color="#0bf"/></linearGradient><linearGradient id="s87" x2="0" y2="1"><stop offset="0" stop-color="#00a"/><stop offset="0.2" stop-color="#00a"/><stop offset="0.3" stop-color="#009"/><stop offset="0.4" stop-color="#00a"/><stop offset="0.6" stop-color="#00a"/><stop offset="0.7" stop-color="#009"/><stop offset="0.8" stop-color="#00f"/><stop offset="0.8" stop-color="#07f"/><stop offset="0.8" stop-color="#00d"/><stop offset="0.9" stop-color="#00d"/><stop offset="0.9" stop-color="#00d"/><stop offset="1" stop-color="#00d"/></linearGradient><linearGradient id="s88" x2="0" y2="1"><stop offset="0" stop-color="#009"/><stop offset="0.2" stop-color="#00a"/><stop offset="0.3" stop-color="#009"/><stop offset="0.4" stop-color="#00a"/><stop offset="0.6" stop-color="#00b"/><stop offset="0.7" stop-color="#00a"/><stop offset="0.8" stop-color="#00b"/><stop offset="0.8" stop-color="#00e"/><stop offset="0.8" stop-color="#00c"/><stop offset="0.9" stop-color="#00c"/><stop offset="0.9" stop-color="#00d"/><stop offset="1" stop-color="#00d"/></linearGradient><linearGradient id="s89" x2="0" y2="1"><stop offset="0" stop-color="#009"/><stop offset="0.2" stop-color="#00a"/><stop offset="0.3" stop-color="#00a"/><stop offset="0.4" stop-color="#00a"/><stop offset="0.6" stop-color="#00a"/><stop offset="0.7" stop-color="#00b"/><stop offset="0.8" stop-color="#00c"/><stop offset="0.8" stop-color="#01f"/><stop offset="0.8" stop-color="#01f"/><stop offset="0.9" stop-color="#01f"/><stop offset="0.9" stop-color="#00f"/><stop offset="1" stop-color="#00f"/></linearGradient><linearGradient id="s90" x2="0" y2="1"><stop offset="0" stop-color="#009"/><stop offset="0.2" stop-color="#009"/><stop offset="0.3" stop-color="#009"/><stop offset="0.4" stop-color="#009"/><stop offset="0.6" stop-color="#009"/><stop offset="0.7" stop-color="#00a"/><stop offset="0.8" stop-color="#00e"/><stop offset="0.8" stop-color="#02f"/><stop offset="0.8" stop-color="#02f"/><stop offset="0.9" stop-color="#02f"/><stop offset="0.9" stop-color="#01f"/><stop offset="1" stop-color="#01f"/></linearGradient><linearGradient id="s91" x2="0" y2="1"><stop offset="0" stop-color="#00b"/><stop offset="0.2" stop-color="#00a"/><stop offset="0.3" stop-color="#00a"/><stop offset="0.4" stop-color="#00b"/><stop offset="0.6" stop-color="#00b"/><stop offset="0.7" stop-color="#00b"/><stop offset="0.8" stop-color="#00d"/><stop offset="0.8" stop-color="#02f"/><stop offset="0.8" stop-color="#00e"/><stop offset="0.9" stop-color="#00e"/><stop offset="0.9" stop-color="#01f"/><stop offset="1" stop-color="#01f"/></linearGradient><linearGradient id="s92" x2="0" y2="1"><stop offset="0" stop-color="#00a"/><stop offset="0.2" stop-color="#00a"/><stop offset="0.3" stop-color="#00a"/><stop offset="0.4" stop-color="#00b"/><stop offset="0.6" stop-color="#00a"/><stop offset="0.7" stop-color="#00a"/><stop offset="0.8" stop-color="#00f"/><stop offset="0.8" stop-color="#09f"/><stop offset="0.8" stop-color="#1fe"/><stop offset="0.9" stop-color="#1fe"/><stop offset="0.9" stop-color="#2fd"/><stop offset="1" stop-color="#2fd"/></linearGradient><linearGradient id="s93" x2="0" y2="1"><stop offset="0" stop-color="#009"/><stop offset="0.2" stop-color="#00a"/><stop offset="0.3" stop-color="#00a"/><stop offset="0.4" stop-color="#00d"/><stop offset="0.6" stop-color="#00f"/><stop offset="0.7" stop-color="#03f"/><stop offset="0.8" stop-color="#06f"/><stop offset="0.8" stop-color="#0cf"/><stop offset="0.8" stop-color="#0df"/><stop offset="0.9" stop-color="#0df"/><stop offset="0.9" stop-color="#4fb"/><stop offset="1" stop-color="#4fb"/></linearGradient><linearGradient id="s94" x2="0" y2="1"><stop offset="0" stop-color="#00b"/><stop offset="0.2" stop-color="#00b"/><stop offset="0.3" stop-color="#009"/><stop offset="0.4" stop-color="#00b"/><stop offset="0.6" stop-color="#00b"/><stop offset="0.7" stop-color="#00a"/><stop offset="0.8" stop-color="#00d"/><stop offset="0.8" stop-color="#03f"/><stop offset="0.8" stop-color="#00f"/><stop offset="0.9" stop-color="#00f"/><stop offset="0.9" stop-color="#00e"/><stop offset="1" stop-color="#00e"/></linearGradient><linearGradient id="s95" x2="0" y2="1"><stop offset="0" stop-color="#009"/><stop offset="0.2" stop-color="#009"/><stop offset="0.3" stop-color="#00b"/><stop offset="0.4" stop-color="#009"/><stop offset="0.6" stop-color="#00a"/><stop offset="0.7" stop-color="#00b"/><stop offset="0.8" stop-color="#00c"/><stop offset="0.8" stop-color="#00d"/><stop offset="0.8" stop-color="#01f"/><stop offset="0.9" stop-color="#01f"/><stop offset="0.9" stop-color="#00f"/><stop offset="1" stop-color="#00f"/></linearGradient><linearGradient id="s96" x2="0" y2="1"><stop offset="0" stop-color="#00b"/><stop offset="0.2" stop-color="#009"/><stop offset="0.3" stop-color="#009"/><stop offset="0.4" stop-color="#00b"/><stop offset="0.6" stop-color="#00b"/><stop offset="0.7" stop-color="#00c"/><stop offset="0.8" stop-color="#00f"/><stop offset="0.8" stop-color="#01f"/><stop offset="0.8" stop-color="#01f"/><stop offset="0.9" stop-color="#01f"/><stop offset="0.9" stop-color="#00f"/><stop offset="1" stop-color="#00f"/></linearGradient><linearGradient id="s97" x2="0" y2="1"><stop offset="0" stop-color="#009"/><stop offset="0.2" stop-color="#009"/><stop offset="0.3" stop-color="#00a"/><stop offset="0.4" stop-color="#00b"/><stop offset="0.6" stop-color="#00b"/><stop offset="0.7" stop-color="#00b"/><stop offset="0.8" stop-color="#00c"/><stop offset="0.8" stop-color="#00e"/><stop offset="0.8" stop-color="#0af"/><stop offset="0.9" stop-color="#0af"/><stop offset="0.9" stop-color="#0cf"/><stop offset="1" stop-color="#0cf"/></linearGradient><linearGradient id="s98" x2="0" y2="1"><stop offset="0" stop-color="#00a"/><stop offset="0.2" stop-color="#00b"/><stop offset="0.3" stop-color="#00a"/><stop offset="0.4" stop-color="#00b"/><stop offset="0.6" stop-color="#00d"/><stop offset="0.7" stop-color="#00f"/><stop offset="0.8" stop-color="#03f"/><stop offset="0.8" stop-color="#03f"/><stop offset="0.8" stop-color="#09f"/><stop offset="0.9" stop-color="#09f"/><stop offset="0.9" stop-color="#0af"/><stop offset="1" stop-color="#0af"/></linearGradient><linearGradient id="s99" x2="0" y2="1"><stop offset="0" stop-color="#009"/><stop offset="0.2" stop-color="#00b"/><stop offset="0.3" stop-color="#00d"/><stop offset="0.4" stop-color="#02f"/><stop offset="0.6" stop-color="#05f"/><stop offset="0.7" stop-color="#0af"/><stop offset="0.8" stop-color="#0cf"/><stop offset="0.8" stop-color="#1fe"/><stop offset="0.8" stop-color="#7f8"/><stop offset="0.9" stop-color="#7f8"/><stop offset="0.9" stop-color="#4fb"/><stop offset="1" stop-color="#4fb"/></linearGradient><linearGradient id="s100" x2="0" y2="1"><stop offset="0" stop-color="#00a"/><stop offset="0.2" stop-color="#009"/><stop offset="0.3" stop-color="#00d"/><stop offset="0.4" stop-color="#00e"/><stop offset="0.6" stop-color="#01f"/><stop offset="0.7" stop-color="#05f"/><stop offset="0.8" stop-color="#06f"/><stop offset="0.8" stop-color="#09f"/><stop offset="0.8" stop-color="#0ff"/><stop offset="0.9" stop-color="#0ff"/><stop offset="0.9" stop-color="#0df"/><stop offset="1" stop-color="#0df"/></linearGradient><linearGradient id="s101" x2="0" y2="1"><stop offset="0" stop-color="#00a"/><stop offset="0.2" stop-color="#00a"/><stop offset="0.3" stop-color="#00d"/><stop offset="0.4" stop-color="#02f"/><stop offset="0.6" stop-color="#04f"/><stop offset="0.7" stop-color="#07f"/><stop offset="0.8" stop-color="#0af"/><stop offset="0.8" stop-color="#0df"/><stop offset="0.8" stop-color="#7f8"/><stop offset="0.9" stop-color="#7f8"/><stop offset="0.9" stop-color="#6f9"/><stop offset="1" stop-color="#6f9"/></linearGradient><linearGradient id="s102" x2="0" y2="1"><stop offset="0" stop-color="#00a"/><stop offset="0.2" stop-color="#009"/><stop offset="0.3" stop-color="#02f"/><stop offset="0.4" stop-color="#07f"/><stop offset="0.6" stop-color="#09f"/><stop offset="0.7" stop-color="#0ef"/><stop offset="0.8" stop-color="#3fc"/><stop offset="0.8" stop-color="#7f8"/><stop offset="0.8" stop-color="#1fe"/><stop offset="0.9" stop-color="#1fe"/><stop offset="0.9" stop-color="#3fc"/><stop offset="1" stop-color="#3fc"/></linearGradient><linearGradient id="s103" x2="0" y2="1"><stop offset="0" stop-color="#00b"/><stop offset="0.2" stop-color="#00b"/><stop offset="0.3" stop-color="#00e"/><stop offset="0.4" stop-color="#04f"/><stop offset="0.6" stop-color="#07f"/><stop offset="0.7" stop-color="#0bf"/><stop offset="0.8" stop-color="#0ff"/><stop offset="0.8" stop-color="#4fb"/><stop offset="0.8" stop-color="#5fa"/><stop offset="0.9" stop-color="#5fa"/><stop offset="0.9" stop-color="#7f8"/><stop offset="1" stop-color="#7f8"/></linearGradient><linearGradient id="s104" x2="0" y2="1"><stop offset="0" stop-color="#00b"/><stop offset="0.2" stop-color="#00a"/><stop offset="0.3" stop-color="#00a"/><stop offset="0.4" stop-color="#00b"/><stop offset="0.6" stop-color="#00f"/><stop offset="0.7" stop-color="#00f"/><stop offset="0.8" stop-color="#02f"/><stop offset="0.8" stop-color="#03f"/><stop offset="0.8" stop-color="#03f"/><stop offset="0.9" stop-color="#03f"/><stop offset="0.9" stop-color="#04f"/><stop offset="1" stop-color="#04f"/></linearGradient><linearGradient id="s105" x2="0" y2="1"><stop offset="0" stop-color="#009"/><stop offset="0.2" stop-color="#00b"/><stop offset="0.3" stop-color="#00b"/><stop offset="0.4" stop-color="#00e"/><stop offset="0.6" stop-color="#02f"/><stop offset="0.7" stop-color="#05f"/><stop offset="0.8" stop-color="#0bf"/><stop offset="0.8" stop-color="#0df"/><stop offset="0.8" stop-color="#1fe"/><stop offset="0.9" stop-color="#1fe"/><stop offset="0.9" stop-color="#5fa"/><stop offset="1" stop-color="#5fa"/></linearGradient><linearGradient id="s106" x2="0" y2="1"><stop offset="0" stop-color="#00b"/><stop offset="0.2" stop-color="#00a"/><stop offset="0.3" stop-color="#00a"/><stop offset="0.4" stop-color="#00a"/><stop offset="0.6" stop-color="#00a"/><stop offset="0.7" stop-color="#00e"/><stop offset="0.8" stop-color="#00f"/><stop offset="0.8" stop-color="#02f"/><stop offset="0.8" stop-color="#04f"/><stop offset="0.9" stop-color="#04f"/><stop offset="0.9" stop-color="#06f"/><stop offset="1" stop-color="#06f"/></linearGradient><linearGradient id="s107" x2="0" y2="1"><stop offset="0" stop-color="#009"/><stop offset="0.2" stop-color="#00a"/><stop offset="0.3" stop-color="#00a"/><stop offset="0.4" stop-color="#00b"/><stop offset="0.6" stop-color="#02f"/><stop offset="0.7" stop-color="#06f"/><stop offset="0.8" stop-color="#0df"/><stop offset="0.8" stop-color="#5fa"/><stop offset="0.8" stop-color="#fe0"/><stop offset="0.9" stop-color="#fe0"/><stop offset="0.9" stop-color="#cf3"/><stop offset="1" stop-color="#cf3"/></linearGradient><linearGradient id="s108" x2="0" y2="1"><stop offset="0" stop-color="#00a"/><stop offset="0.2" stop-color="#00a"/><stop offset="0.3" stop-color="#00b"/><stop offset="0.4" stop-color="#00a"/><stop offset="0.6" stop-color="#01f"/><stop offset="0.7" stop-color="#05f"/><stop offset="0.8" stop-color="#0af"/><stop offset="0.8" stop-color="#0df"/><stop offset="0.8" stop-color="#2fd"/><stop offset="0.9" stop-color="#2fd"/><stop offset="0.9" stop-color="#1fe"/><stop offset="1" stop-color="#1fe"/></linearGradient><linearGradient id="s109" x2="0" y2="1"><stop offset="0" stop-color="#009"/><stop offset="0.2" stop-color="#009"/><stop offset="0.3" stop-color="#00b"/><stop offset="0.4" stop-color="#00b"/><stop offset="0.6" stop-color="#00c"/><stop offset="0.7" stop-color="#00e"/><stop offset="0.8" stop-color="#01f"/><stop offset="0.8" stop-color="#00f"/><stop offset="0.8" stop-color="#05f"/><stop offset="0.9" stop-color="#05f"/><stop offset="0.9" stop-color="#04f"/><stop offset="1" stop-color="#04f"/></linearGradient><linearGradient id="s110" x2="0" y2="1"><stop offset="0" stop-color="#00a"/><stop offset="0.2" stop-color="#00b"/><stop offset="0.3" stop-color="#00f"/><stop offset="0.4" stop-color="#04f"/><stop offset="0.6" stop-color="#07f"/><stop offset="0.7" stop-color="#0cf"/><stop offset="0.8" stop-color="#0ff"/><stop offset="0.8" stop-color="#2fd"/><stop offset="0.8" stop-color="#1fe"/><stop offset="0.9" stop-color="#1fe"/><stop offset="0.9" stop-color="#7f8"/><stop offset="1" stop-color="#7f8"/></linearGradient><linearGradient id="s111" x2="0" y2="1"><stop offset="0" stop-color="#00a"/><stop offset="0.2" stop-color="#009"/><stop offset="0.3" stop-color="#00d"/><stop offset="0.4" stop-color="#03f"/><stop offset="0.6" stop-color="#05f"/><stop offset="0.7" stop-color="#09f"/><stop offset="0.8" stop-color="#0af"/><stop offset="0.8" stop-color="#0df"/><stop offset="0.8" stop-color="#08f"/><stop offset="0.9" stop-color="#08f"/><stop offset="0.9" stop-color="#0af"/><stop offset="1" stop-color="#0af"/></linearGradient><linearGradient id="s112" x2="0" y2="1"><stop offset="0" stop-color="#009"/><stop offset="0.2" stop-color="#00a"/><stop offset="0.3" stop-color="#01f"/><stop offset="0.4" stop-color="#03f"/><stop offset="0.6" stop-color="#06f"/><stop offset="0.7" stop-color="#0cf"/><stop offset="0.8" stop-color="#0ff"/><stop offset="0.8" stop-color="#3fc"/><stop offset="0.8" stop-color="#6f9"/><stop offset="0.9" stop-color="#6f9"/><stop offset="0.9" stop-color="#5fa"/><stop offset="1" stop-color="#5fa"/></linearGradient><linearGradient id="s113" x2="0" y2="1"><stop offset="0" stop-color="#009"/><stop offset="0.2" stop-color="#009"/><stop offset="0.3" stop-color="#00a"/><stop offset="0.4" stop-color="#00d"/><stop offset="0.6" stop-color="#00e"/><stop offset="0.7" stop-color="#01f"/><stop offset="0.8" stop-color="#01f"/><stop offset="0.8" stop-color="#05f"/><stop offset="0.8" stop-color="#04f"/><stop offset="0.9" stop-color="#04f"/><stop offset="0.9" stop-color="#03f"/><stop offset="1" stop-color="#03f"/></linearGradient><linearGradient id="s114" x2="0" y2="1"><stop offset="0" stop-color="#009"/><stop offset="0.2" stop-color="#00a"/><stop offset="0.3" stop-color="#00b"/><stop offset="0.4" stop-color="#00f"/><stop offset="0.6" stop-color="#02f"/><stop offset="0.7" stop-color="#04f"/><stop offset="0.8" stop-color="#04f"/><stop offset="0.8" stop-color="#06f"/><stop offset="0.8" stop-color="#09f"/><stop offset="0.9" stop-color="#09f"/><stop offset="0.9" stop-color="#0df"/><stop offset="1" stop-color="#0df"/></linearGradient><linearGradient id="s115" x2="0" y2="1"><stop offset="0" stop-color="#00a"/><stop offset="0.2" stop-color="#009"/><stop offset="0.3" stop-color="#009"/><stop offset="0.4" stop-color="#00a"/><stop offset="0.6" stop-color="#009"/><stop offset="0.7" stop-color="#00d"/><stop offset="0.8" stop-color="#00f"/><stop offset="0.8" stop-color="#00e"/><stop offset="0.8" stop-color="#03f"/><stop offset="0.9" stop-color="#03f"/><stop offset="0.9" stop-color="#05f"/><stop offset="1" stop-color="#05f"/></linearGradient><linearGradient id="s116" x2="0" y2="1"><stop offset="0" stop-color="#00a"/><stop offset="0.2" stop-color="#00a"/><stop offset="0.3" stop-color="#00c"/><stop offset="0.4" stop-color="#00d"/><stop offset="0.6" stop-color="#01f"/><stop offset="0.7" stop-color="#04f"/><stop offset="0.8" stop-color="#09f"/><stop offset="0.8" stop-color="#0df"/><stop offset="0.8" stop-color="#3fc"/><stop offset="0.9" stop-color="#3fc"/><stop offset="0.9" stop-color="#6f9"/><stop offset="1" stop-color="#6f9"/></linearGradient><linearGradient id="s117" x2="0" y2="1"><stop offset="0" stop-color="#00a"/><stop offset="0.2" stop-color="#009"/><stop offset="0.3" stop-color="#00b"/><stop offset="0.4" stop-color="#009"/><stop offset="0.6" stop-color="#00c"/><stop offset="0.7" stop-color="#03f"/><stop offset="0.8" stop-color="#06f"/><stop offset="0.8" stop-color="#09f"/><stop offset="0.8" stop-color="#0df"/><stop offset="0.9" stop-color="#0df"/><stop offset="0.9" stop-color="#0bf"/><stop offset="1" stop-color="#0bf"/></linearGradient><linearGradient id="s118" x2="0" y2="1"><stop offset="0" stop-color="#009"/><stop offset="0.2" stop-color="#009"/><stop offset="0.3" stop-color="#009"/><stop offset="0.4" stop-color="#00a"/><stop offset="0.6" stop-color="#00b"/><stop offset="0.7" stop-color="#00e"/><stop offset="0.8" stop-color="#02f"/><stop offset="0.8" stop-color="#06f"/><stop offset="0.8" stop-color="#08f"/><stop offset="0.9" stop-color="#08f"/><stop offset="0.9" stop-color="#0bf"/><stop offset="1" stop-color="#0bf"/></linearGradient><linearGradient id="s119" x2="0" y2="1"><stop offset="0" stop-color="#009"/><stop offset="0.2" stop-color="#00a"/><stop offset="0.3" stop-color="#00a"/><stop offset="0.4" stop-color="#00a"/><stop offset="0.6" stop-color="#009"/><stop offset="0.7" stop-color="#00a"/><stop offset="0.8" stop-color="#00c"/><stop offset="0.8" stop-color="#07f"/><stop offset="0.8" stop-color="#0cf"/><stop offset="0.9" stop-color="#0cf"/><stop offset="0.9" stop-color="#0af"/><stop offset="1" stop-color="#0af"/></linearGradient><linearGradient id="s120" x2="0" y2="1"><stop offset="0" stop-color="#00a"/><stop offset="0.2" stop-color="#00b"/><stop offset="0.3" stop-color="#00a"/><stop offset="0.4" stop-color="#00e"/><stop offset="0.6" stop-color="#01f"/><stop offset="0.7" stop-color="#03f"/><stop offset="0.8" stop-color="#06f"/><stop offset="0.8" stop-color="#09f"/><stop offset="0.8" stop-color="#5fa"/><stop offset="0.9" stop-color="#5fa"/><stop offset="0.9" stop-color="#6f9"/><stop offset="1" stop-color="#6f9"/></linearGradient><linearGradient id="s121" x2="0" y2="1"><stop offset="0" stop-color="#00a"/><stop offset="0.2" stop-color="#00a"/><stop offset="0.3" stop-color="#00b"/><stop offset="0.4" stop-color="#00b"/><stop offset="0.6" stop-color="#00a"/><stop offset="0.7" stop-color="#00d"/><stop offset="0.8" stop-color="#04f"/><stop offset="0.8" stop-color="#07f"/><stop offset="0.8" stop-color="#0af"/><stop offset="0.9" stop-color="#0af"/><stop offset="0.9" stop-color="#0ef"/><stop offset="1" stop-color="#0ef"/></linearGradient><linearGradient id="s122" x2="0" y2="1"><stop offset="0" stop-color="#00b"/><stop offset="0.2" stop-color="#00a"/><stop offset="0.3" stop-color="#00b"/><stop offset="0.4" stop-color="#00b"/><stop offset="0.6" stop-color="#00b"/><stop offset="0.7" stop-color="#00b"/><stop offset="0.8" stop-color="#00e"/><stop offset="0.8" stop-color="#01f"/><stop offset="0.8" stop-color="#00f"/><stop offset="0.9" stop-color="#00f"/><stop offset="0.9" stop-color="#02f"/><stop offset="1" stop-color="#02f"/></linearGradient><linearGradient id="s123" x2="0" y2="1"><stop offset="0" stop-color="#00b"/><stop offset="0.2" stop-color="#009"/><stop offset="0.3" stop-color="#009"/><stop offset="0.4" stop-color="#00a"/><stop offset="0.6" stop-color="#00e"/><stop offset="0.7" stop-color="#03f"/><stop offset="0.8" stop-color="#09f"/><stop offset="0.8" stop-color="#0df"/><stop offset="0.8" stop-color="#af5"/><stop offset="0.9" stop-color="#af5"/><stop offset="0.9" stop-color="#6f9"/><stop offset="1" stop-color="#6f9"/></linearGradient><linearGradient id="s124" x2="0" y2="1"><stop offset="0" stop-color="#00b"/><stop offset="0.2" stop-color="#00a"/><stop offset="0.3" stop-color="#00a"/><stop offset="0.4" stop-color="#00a"/><stop offset="0.6" stop-color="#00b"/><stop offset="0.7" stop-color="#00c"/><stop offset="0.8" stop-color="#00e"/><stop offset="0.8" stop-color="#01f"/><stop offset="0.8" stop-color="#04f"/><stop offset="0.9" stop-color="#04f"/><stop offset="0.9" stop-color="#04f"/><stop offset="1" stop-color="#04f"/></linearGradient><linearGradient id="s125" x2="0" y2="1"><stop offset="0" stop-color="#00a"/><stop offset="0.2" stop-color="#00b"/><stop offset="0.3" stop-color="#00a"/><stop offset="0.4" stop-color="#00a"/><stop offset="0.6" stop-color="#00d"/><stop offset="0.7" stop-color="#02f"/><stop offset="0.8" stop-color="#04f"/><stop offset="0.8" stop-color="#08f"/><stop offset="0.8" stop-color="#4fb"/><stop offset="0.9" stop-color="#4fb"/><stop offset="0.9" stop-color="#3fc"/><stop offset="1" stop-color="#3fc"/></linearGradient><linearGradient id="s126" x2="0" y2="1"><stop offset="0" stop-color="#009"/><stop offset="0.2" stop-color="#00b"/><stop offset="0.3" stop-color="#009"/><stop offset="0.4" stop-color="#009"/><stop offset="0.6" stop-color="#00a"/><stop offset="0.7" stop-color="#00b"/><stop offset="0.8" stop-color="#00e"/><stop offset="0.8" stop-color="#05f"/><stop offset="0.8" stop-color="#0df"/><stop offset="0.9" stop-color="#0df"/><stop offset="0.9" stop-color="#1fe"/><stop offset="1" stop-color="#1fe"/></linearGradient><linearGradient id="s127" x2="0" y2="1"><stop offset="0" stop-color="#00b"/><stop offset="0.2" stop-color="#009"/><stop offset="0.3" stop-color="#00a"/><stop offset="0.4" stop-color="#00b"/><stop offset="0.6" stop-color="#00b"/><stop offset="0.7" stop-color="#00b"/><stop offset="0.8" stop-color="#00d"/><stop offset="0.8" stop-color="#00d"/><stop offset="0.8" stop-color="#05f"/><stop offset="0.9" stop-color="#05f"/><stop offset="0.9" stop-color="#04f"/><stop offset="1" stop-color="#04f"/></linearGradient><linearGradient id="s128" x2="0" y2="1"><stop offset="0" stop-color="#00a"/><stop offset="0.2" stop-color="#00b"/><stop offset="0.3" stop-color="#009"/><stop offset="0.4" stop-color="#00d"/><stop offset="0.6" stop-color="#02f"/><stop offset="0.7" stop-color="#08f"/><stop offset="0.8" stop-color="#0ef"/><stop offset="0.8" stop-color="#2fd"/><stop offset="0.8" stop-color="#8f7"/><stop offset="0.9" stop-color="#8f7"/><stop offset="0.9" stop-color="#7f8"/><stop offset="1" stop-color="#7f8"/></linearGradient><linearGradient id="s129" x2="0" y2="1"><stop offset="0" stop-color="#009"/><stop offset="0.2" stop-color="#00a"/><stop offset="0.3" stop-color="#009"/><stop offset="0.4" stop-color="#00a"/><stop offset="0.6" stop-color="#00a"/><stop offset="0.7" stop-color="#00d"/><stop offset="0.8" stop-color="#03f"/><stop offset="0.8" stop-color="#0af"/><stop offset="0.8" stop-color="#3fc"/><stop offset="0.9" stop-color="#3fc"/><stop offset="0.9" stop-color="#0ff"/><stop offset="1" stop-color="#0ff"/></linearGradient><linearGradient id="s130" x2="0" y2="1"><stop offset="0" stop-color="#00a"/><stop offset="0.2" stop-color="#00b"/><stop offset="0.3" stop-color="#00f"/><stop offset="0.4" stop-color="#02f"/><stop offset="0.6" stop-color="#04f"/><stop offset="0.7" stop-color="#06f"/><stop offset="0.8" stop-color="#07f"/><stop offset="0.8" stop-color="#09f"/><stop offset="0.8" stop-color="#08f"/><stop offset="0.9" stop-color="#08f"/><stop offset="0.9" stop-color="#0bf"/><stop offset="1" stop-color="#0bf"/></linearGradient><linearGradient id="s131" x2="0" y2="1"><stop offset="0" stop-color="#00a"/><stop offset="0.2" stop-color="#00d"/><stop offset="0.3" stop-color="#05f"/><stop offset="0.4" stop-color="#08f"/><stop offset="0.6" stop-color="#0df"/><stop offset="0.7" stop-color="#0ff"/><stop offset="0.8" stop-color="#4fb"/><stop offset="0.8" stop-color="#7f8"/><stop offset="0.8" stop-color="#0ff"/><stop offset="0.9" stop-color="#0ff"/><stop offset="0.9" stop-color="#1fe"/><stop offset="1" stop-color="#1fe"/></linearGradient><linearGradient id="s132" x2="0" y2="1"><stop offset="0" stop-color="#009"/><stop offset="0.2" stop-color="#00d"/><stop offset="0.3" stop-color="#04f"/><stop offset="0.4" stop-color="#07f"/><stop offset="0.6" stop-color="#09f"/><stop offset="0.7" stop-color="#0cf"/><stop offset="0.8" stop-color="#0ff"/><stop offset="0.8" stop-color="#5fa"/><stop offset="0.8" stop-color="#bf4"/><stop offset="0.9" stop-color="#bf4"/><stop offset="0.9" stop-color="#cf3"/><stop offset="1" stop-color="#cf3"/></linearGradient><linearGradient id="s133" x2="0" y2="1"><stop offset="0" stop-color="#00b"/><stop offset="0.2" stop-color="#00d"/><stop offset="0.3" stop-color="#06f"/><stop offset="0.4" stop-color="#0bf"/><stop offset="0.6" stop-color="#0ff"/><stop offset="0.7" stop-color="#4fb"/><stop offset="0.8" stop-color="#af5"/><stop offset="0.8" stop-color="#cf3"/><stop offset="0.8" stop-color="#2fd"/><stop offset="0.9" stop-color="#2fd"/><stop offset="0.9" stop-color="#0ff"/><stop offset="1" stop-color="#0ff"/></linearGradient><linearGradient id="s134" x2="0" y2="1"><stop offset="0" stop-color="#00a"/><stop offset="0.2" stop-color="#00b"/><stop offset="0.3" stop-color="#01f"/><stop offset="0.4" stop-color="#03f"/><stop offset="0.6" stop-color="#07f"/><stop offset="0.7" stop-color="#08f"/><stop offset="0.8" stop-color="#0af"/><stop offset="0.8" stop-color="#0df"/><stop offset="0.8" stop-color="#0bf"/><stop offset="0.9" stop-color="#0bf"/><stop offset="0.9" stop-color="#0cf"/><stop offset="1" stop-color="#0cf"/></linearGradient><linearGradient id="s135" x2="0" y2="1"><stop offset="0" stop-color="#00a"/><stop offset="0.2" stop-color="#00c"/><stop offset="0.3" stop-color="#01f"/><stop offset="0.4" stop-color="#05f"/><stop offset="0.6" stop-color="#07f"/><stop offset="0.7" stop-color="#09f"/><stop offset="0.8" stop-color="#0df"/><stop offset="0.8" stop-color="#0ef"/><stop offset="0.8" stop-color="#6f9"/><stop offset="0.9" stop-color="#6f9"/><stop offset="0.9" stop-color="#5fa"/><stop offset="1" stop-color="#5fa"/></linearGradient><linearGradient id="s136" x2="0" y2="1"><stop offset="0" stop-color="#00a"/><stop offset="0.2" stop-color="#00a"/><stop offset="0.3" stop-color="#00e"/><stop offset="0.4" stop-color="#01f"/><stop offset="0.6" stop-color="#01f"/><stop offset="0.7" stop-color="#03f"/><stop offset="0.8" stop-color="#05f"/><stop offset="0.8" stop-color="#09f"/><stop offset="0.8" stop-color="#4fb"/><stop offset="0.9" stop-color="#4fb"/><stop offset="0.9" stop-color="#1fe"/><stop offset="1" stop-color="#1fe"/></linearGradient><linearGradient id="s137" x2="0" y2="1"><stop offset="0" stop-color="#00a"/><stop offset="0.2" stop-color="#00b"/><stop offset="0.3" stop-color="#00a"/><stop offset="0.4" stop-color="#009"/><stop offset="0.6" stop-color="#00b"/><stop offset="0.7" stop-color="#00b"/><stop offset="0.8" stop-color="#04f"/><stop offset="0.8" stop-color="#0bf"/><stop offset="0.8" stop-color="#3fc"/><stop offset="0.9" stop-color="#3fc"/><stop offset="0.9" stop-color="#6f9"/><stop offset="1" stop-color="#6f9"/></linearGradient><linearGradient id="s138" x2="0" y2="1"><stop offset="0" stop-color="#00a"/><stop offset="0.2" stop-color="#00e"/><stop offset="0.3" stop-color="#03f"/><stop offset="0.4" stop-color="#06f"/><stop offset="0.6" stop-color="#0af"/><stop offset="0.7" stop-color="#0df"/><stop offset="0.8" stop-color="#0ff"/><stop offset="0.8" stop-color="#2fd"/><stop offset="0.8" stop-color="#4fb"/><stop offset="0.9" stop-color="#4fb"/><stop offset="0.9" stop-color="#4fb"/><stop offset="1" stop-color="#4fb"/></linearGradient><linearGradient id="s139" x2="0" y2="1"><stop offset="0" stop-color="#009"/><stop offset="0.2" stop-color="#00c"/><stop offset="0.3" stop-color="#03f"/><stop offset="0.4" stop-color="#06f"/><stop offset="0.6" stop-color="#06f"/><stop offset="0.7" stop-color="#09f"/><stop offset="0.8" stop-color="#0df"/><stop offset="0.8" stop-color="#0ff"/><stop offset="0.8" stop-color="#07f"/><stop offset="0.9" stop-color="#07f"/><stop offset="0.9" stop-color="#08f"/><stop offset="1" stop-color="#08f"/></linearGradient><linearGradient id="s140" x2="0" y2="1"><stop offset="0" stop-color="#009"/><stop offset="0.2" stop-color="#00b"/><stop offset="0.3" stop-color="#02f"/><stop offset="0.4" stop-color="#05f"/><stop offset="0.6" stop-color="#07f"/><stop offset="0.7" stop-color="#0bf"/><stop offset="0.8" stop-color="#0ef"/><stop offset="0.8" stop-color="#1fe"/><stop offset="0.8" stop-color="#0ff"/><stop offset="0.9" stop-color="#0ff"/><stop offset="0.9" stop-color="#6f9"/><stop offset="1" stop-color="#6f9"/></linearGradient><linearGradient id="s141" x2="0" y2="1"><stop offset="0" stop-color="#00b"/><stop offset="0.2" stop-color="#00b"/><stop offset="0.3" stop-color="#06f"/><stop offset="0.4" stop-color="#09f"/><stop offset="0.6" stop-color="#1fe"/><stop offset="0.7" stop-color="#6f9"/><stop offset="0.8" stop-color="#af5"/><stop offset="0.8" stop-color="#ff0"/><stop offset="0.8" stop-color="#0df"/><stop offset="0.9" stop-color="#0df"/><stop offset="0.9" stop-color="#1fe"/><stop offset="1" stop-color="#1fe"/></linearGradient><linearGradient id="s142" x2="0" y2="1"><stop offset="0" stop-color="#009"/><stop offset="0.2" stop-color="#00e"/><stop offset="0.3" stop-color="#07f"/><stop offset="0.4" stop-color="#0ef"/><stop offset="0.6" stop-color="#4fb"/><stop offset="0.7" stop-color="#af5"/><stop offset="0.8" stop-color="#ff0"/><stop offset="0.8" stop-color="#f90"/><stop offset="0.8" stop-color="#4fb"/><stop offset="0.9" stop-color="#4fb"/><stop offset="0.9" stop-color="#5fa"/><stop offset="1" stop-color="#5fa"/></linearGradient><linearGradient id="s143" x2="0" y2="1"><stop offset="0" stop-color="#00a"/><stop offset="0.2" stop-color="#00b"/><stop offset="0.3" stop-color="#01f"/><stop offset="0.4" stop-color="#04f"/><stop offset="0.6" stop-color="#08f"/><stop offset="0.7" stop-color="#0df"/><stop offset="0.8" stop-color="#1fe"/><stop offset="0.8" stop-color="#4fb"/><stop offset="0.8" stop-color="#5fa"/><stop offset="0.9" stop-color="#5fa"/><stop offset="0.9" stop-color="#6f9"/><stop offset="1" stop-color="#6f9"/></linearGradient><linearGradient id="s144" x2="0" y2="1"><stop offset="0" stop-color="#009"/><stop offset="0.2" stop-color="#00a"/><stop offset="0.3" stop-color="#03f"/><stop offset="0.4" stop-color="#07f"/><stop offset="0.6" stop-color="#0df"/><stop offset="0.7" stop-color="#3fc"/><stop offset="0.8" stop-color="#8f7"/><stop offset="0.8" stop-color="#cf3"/><stop offset="0.8" stop-color="#7f8"/><stop offset="0.9" stop-color="#7f8"/><stop offset="0.9" stop-color="#af5"/><stop offset="1" stop-color="#af5"/></linearGradient><linearGradient id="s145" x2="0" y2="1"><stop offset="0" stop-color="#00a"/><stop offset="0.2" stop-color="#009"/><stop offset="0.3" stop-color="#00d"/><stop offset="0.4" stop-color="#01f"/><stop offset="0.6" stop-color="#05f"/><stop offset="0.7" stop-color="#08f"/><stop offset="0.8" stop-color="#0bf"/><stop offset="0.8" stop-color="#0df"/><stop offset="0.8" stop-color="#0bf"/><stop offset="0.9" stop-color="#0bf"/><stop offset="0.9" stop-color="#0af"/><stop offset="1" stop-color="#0af"/></linearGradient><linearGradient id="s146" x2="0" y2="1"><stop offset="0" stop-color="#00a"/><stop offset="0.2" stop-color="#00b"/><stop offset="0.3" stop-color="#009"/><stop offset="0.4" stop-color="#00b"/><stop offset="0.6" stop-color="#00c"/><stop offset="0.7" stop-color="#00d"/><stop offset="0.8" stop-color="#00e"/><stop offset="0.8" stop-color="#01f"/><stop offset="0.8" stop-color="#06f"/><stop offset="0.9" stop-color="#06f"/><stop offset="0.9" stop-color="#05f"/><stop offset="1" stop-color="#05f"/></linearGradient><linearGradient id="s147" x2="0" y2="1"><stop offset="0" stop-color="#00b"/><stop offset="0.2" stop-color="#00a"/><stop offset="0.3" stop-color="#02f"/><stop offset="0.4" stop-color="#07f"/><stop offset="0.6" stop-color="#0df"/><stop offset="0.7" stop-color="#3fc"/><stop offset="0.8" stop-color="#6f9"/><stop offset="0.8" stop-color="#cf3"/><stop offset="0.8" stop-color="#3fc"/><stop offset="0.9" stop-color="#3fc"/><stop offset="0.9" stop-color="#3fc"/><stop offset="1" stop-color="#3fc"/></linearGradient><linearGradient id="s148" x2="0" y2="1"><stop offset="0" stop-color="#00b"/><stop offset="0.2" stop-color="#00a"/><stop offset="0.3" stop-color="#00c"/><stop offset="0.4" stop-color="#03f"/><stop offset="0.6" stop-color="#06f"/><stop offset="0.7" stop-color="#09f"/><stop offset="0.8" stop-color="#0cf"/><stop offset="0.8" stop-color="#2fd"/><stop offset="0.8" stop-color="#7f8"/><stop offset="0.9" stop-color="#7f8"/><stop offset="0.9" stop-color="#af5"/><stop offset="1" stop-color="#af5"/></linearGradient><linearGradient id="s149" x2="0" y2="1"><stop offset="0" stop-color="#009"/><stop offset="0.2" stop-color="#00b"/><stop offset="0.3" stop-color="#009"/><stop offset="0.4" stop-color="#00a"/><stop offset="0.6" stop-color="#00f"/><stop offset="0.7" stop-color="#07f"/><stop offset="0.8" stop-color="#0ff"/><stop offset="0.8" stop-color="#7f8"/><stop offset="0.8" stop-color="#ef1"/><stop offset="0.9" stop-color="#ef1"/><stop offset="0.9" stop-color="#ff0"/><stop offset="1" stop-color="#ff0"/></linearGradient><linearGradient id="s150" x2="0" y2="1"><stop offset="0" stop-color="#009"/><stop offset="0.2" stop-color="#00a"/><stop offset="0.3" stop-color="#00b"/><stop offset="0.4" stop-color="#00f"/><stop offset="0.6" stop-color="#02f"/><stop offset="0.7" stop-color="#05f"/><stop offset="0.8" stop-color="#06f"/><stop offset="0.8" stop-color="#cf3"/><stop offset="0.8" stop-color="#fc0"/><stop offset="0.9" stop-color="#fc0"/><stop offset="0.9" stop-color="#ef1"/><stop offset="1" stop-color="#ef1"/></linearGradient><linearGradient id="s151" x2="0" y2="1"><stop offset="0" stop-color="#00a"/><stop offset="0.2" stop-color="#00b"/><stop offset="0.3" stop-color="#00c"/><stop offset="0.4" stop-color="#00c"/><stop offset="0.6" stop-color="#01f"/><stop offset="0.7" stop-color="#02f"/><stop offset="0.8" stop-color="#02f"/><stop offset="0.8" stop-color="#05f"/><stop offset="0.8" stop-color="#0af"/><stop offset="0.9" stop-color="#0af"/><stop offset="0.9" stop-color="#09f"/><stop offset="1" stop-color="#09f"/></linearGradient><linearGradient id="s152" x2="0" y2="1"><stop offset="0" stop-color="#00a"/><stop offset="0.2" stop-color="#00a"/><stop offset="0.3" stop-color="#03f"/><stop offset="0.4" stop-color="#08f"/><stop offset="0.6" stop-color="#0ef"/><stop offset="0.7" stop-color="#4fb"/><stop offset="0.8" stop-color="#af5"/><stop offset="0.8" stop-color="#df2"/><stop offset="0.8" stop-color="#9f6"/><stop offset="0.9" stop-color="#9f6"/><stop offset="0.9" stop-color="#9f6"/><stop offset="1" stop-color="#9f6"/></linearGradient><linearGradient id="s153" x2="0" y2="1"><stop offset="0" stop-color="#009"/><stop offset="0.2" stop-color="#009"/><stop offset="0.3" stop-color="#00c"/><stop offset="0.4" stop-color="#01f"/><stop offset="0.6" stop-color="#02f"/><stop offset="0.7" stop-color="#05f"/><stop offset="0.8" stop-color="#08f"/><stop offset="0.8" stop-color="#0bf"/><stop offset="0.8" stop-color="#0df"/><stop offset="0.9" stop-color="#0df"/><stop offset="0.9" stop-color="#0ef"/><stop offset="1" stop-color="#0ef"/></linearGradient><linearGradient id="s154" x2="0" y2="1"><stop offset="0" stop-color="#009"/><stop offset="0.2" stop-color="#00b"/><stop offset="0.3" stop-color="#00d"/><stop offset="0.4" stop-color="#01f"/><stop offset="0.6" stop-color="#02f"/><stop offset="0.7" stop-color="#04f"/><stop offset="0.8" stop-color="#08f"/><stop offset="0.8" stop-color="#09f"/><stop offset="0.8" stop-color="#05f"/><stop offset="0.9" stop-color="#05f"/><stop offset="0.9" stop-color="#05f"/><stop offset="1" stop-color="#05f"/></linearGradient><linearGradient id="s155" x2="0" y2="1"><stop offset="0" stop-color="#00b"/><stop offset="0.2" stop-color="#00c"/><stop offset="0.3" stop-color="#04f"/><stop offset="0.4" stop-color="#08f"/><stop offset="0.6" stop-color="#0cf"/><stop offset="0.7" stop-color="#1fe"/><stop offset="0.8" stop-color="#3fc"/><stop offset="0.8" stop-color="#5fa"/><stop offset="0.8" stop-color="#0ef"/><stop offset="0.9" stop-color="#0ef"/><stop offset="0.9" stop-color="#1fe"/><stop offset="1" stop-color="#1fe"/></linearGradient><linearGradient id="s156" x2="0" y2="1"><stop offset="0" stop-color="#00b"/><stop offset="0.2" stop-color="#00c"/><stop offset="0.3" stop-color="#04f"/><stop offset="0.4" stop-color="#09f"/><stop offset="0.6" stop-color="#0cf"/><stop offset="0.7" stop-color="#0ff"/><stop offset="0.8" stop-color="#4fb"/><stop offset="0.8" stop-color="#8f7"/><stop offset="0.8" stop-color="#2fd"/><stop offset="0.9" stop-color="#2fd"/><stop offset="0.9" stop-color="#1fe"/><stop offset="1" stop-color="#1fe"/></linearGradient><linearGradient id="s157" x2="0" y2="1"><stop offset="0" stop-color="#009"/><stop offset="0.2" stop-color="#00c"/><stop offset="0.3" stop-color="#04f"/><stop offset="0.4" stop-color="#08f"/><stop offset="0.6" stop-color="#0bf"/><stop offset="0.7" stop-color="#0ff"/><stop offset="0.8" stop-color="#4fb"/><stop offset="0.8" stop-color="#8f7"/><stop offset="0.8" stop-color="#fd0"/><stop offset="0.9" stop-color="#fd0"/><stop offset="0.9" stop-color="#cf3"/><stop offset="1" stop-color="#cf3"/></linearGradient><linearGradient id="s158" x2="0" y2="1"><stop offset="0" stop-color="#00a"/><stop offset="0.2" stop-color="#00c"/><stop offset="0.3" stop-color="#04f"/><stop offset="0.4" stop-color="#07f"/><stop offset="0.6" stop-color="#0cf"/><stop offset="0.7" stop-color="#1fe"/><stop offset="0.8" stop-color="#6f9"/><stop offset="0.8" stop-color="#7f8"/><stop offset="0.8" stop-color="#3fc"/><stop offset="0.9" stop-color="#3fc"/><stop offset="0.9" stop-color="#6f9"/><stop offset="1" stop-color="#6f9"/></linearGradient><linearGradient id="s159" x2="0" y2="1"><stop offset="0" stop-color="#00a"/><stop offset="0.2" stop-color="#00d"/><stop offset="0.3" stop-color="#07f"/><stop offset="0.4" stop-color="#0af"/><stop offset="0.6" stop-color="#1fe"/><stop offset="0.7" stop-color="#3fc"/><stop offset="0.8" stop-color="#9f6"/><stop offset="0.8" stop-color="#af5"/><stop offset="0.8" stop-color="#6f9"/><stop offset="0.9" stop-color="#6f9"/><stop offset="0.9" stop-color="#6f9"/><stop offset="1" stop-color="#6f9"/></linearGradient><linearGradient id="s160" x2="0" y2="1"><stop offset="0" stop-color="#009"/><stop offset="0.2" stop-color="#00a"/><stop offset="0.3" stop-color="#01f"/><stop offset="0.4" stop-color="#04f"/><stop offset="0.6" stop-color="#08f"/><stop offset="0.7" stop-color="#0af"/><stop offset="0.8" stop-color="#0cf"/><stop offset="0.8" stop-color="#1fe"/><stop offset="0.8" stop-color="#ef1"/><stop offset="0.9" stop-color="#ef1"/><stop offset="0.9" stop-color="#9f6"/><stop offset="1" stop-color="#9f6"/></linearGradient><linearGradient id="s161" x2="0" y2="1"><stop offset="0" stop-color="#00b"/><stop offset="0.2" stop-color="#009"/><stop offset="0.3" stop-color="#00d"/><stop offset="0.4" stop-color="#00f"/><stop offset="0.6" stop-color="#02f"/><stop offset="0.7" stop-color="#04f"/><stop offset="0.8" stop-color="#0af"/><stop offset="0.8" stop-color="#0bf"/><stop offset="0.8" stop-color="#6f9"/><stop offset="0.9" stop-color="#6f9"/><stop offset="0.9" stop-color="#5fa"/><stop offset="1" stop-color="#5fa"/></linearGradient><linearGradient id="s162" x2="0" y2="1"><stop offset="0" stop-color="#00a"/><stop offset="0.2" stop-color="#00b"/><stop offset="0.3" stop-color="#00a"/><stop offset="0.4" stop-color="#00b"/><stop offset="0.6" stop-color="#00b"/><stop offset="0.7" stop-color="#00b"/><stop offset="0.8" stop-color="#009"/><stop offset="0.8" stop-color="#02f"/><stop offset="0.8" stop-color="#0af"/><stop offset="0.9" stop-color="#0af"/><stop offset="0.9" stop-color="#0af"/><stop offset="1" stop-color="#0af"/></linearGradient><linearGradient id="s163" x2="0" y2="1"><stop offset="0" stop-color="#00b"/><stop offset="0.2" stop-color="#00b"/><stop offset="0.3" stop-color="#00d"/><stop offset="0.4" stop-color="#00f"/><stop offset="0.6" stop-color="#04f"/><stop offset="0.7" stop-color="#06f"/><stop offset="0.8" stop-color="#09f"/><stop offset="0.8" stop-color="#0df"/><stop offset="0.8" stop-color="#8f7"/><stop offset="0.9" stop-color="#8f7"/><stop offset="0.9" stop-color="#ef1"/><stop offset="1" stop-color="#ef1"/></linearGradient><linearGradient id="s164" x2="0" y2="1"><stop offset="0" stop-color="#00b"/><stop offset="0.2" stop-color="#009"/><stop offset="0.3" stop-color="#01f"/><stop offset="0.4" stop-color="#07f"/><stop offset="0.6" stop-color="#0ef"/><stop offset="0.7" stop-color="#4fb"/><stop offset="0.8" stop-color="#8f7"/><stop offset="0.8" stop-color="#df2"/><stop offset="0.8" stop-color="#0cf"/><stop offset="0.9" stop-color="#0cf"/><stop offset="0.9" stop-color="#2fd"/><stop offset="1" stop-color="#2fd"/></linearGradient><linearGradient id="s165" x2="0" y2="1"><stop offset="0" stop-color="#00b"/><stop offset="0.2" stop-color="#00a"/><stop offset="0.3" stop-color="#00e"/><stop offset="0.4" stop-color="#02f"/><stop offset="0.6" stop-color="#05f"/><stop offset="0.7" stop-color="#0bf"/><stop offset="0.8" stop-color="#0df"/><stop offset="0.8" stop-color="#1fe"/><stop offset="0.8" stop-color="#6f9"/><stop offset="0.9" stop-color="#6f9"/><stop offset="0.9" stop-color="#7f8"/><stop offset="1" stop-color="#7f8"/></linearGradient><linearGradient id="s166" x2="0" y2="1"><stop offset="0" stop-color="#009"/><stop offset="0.2" stop-color="#009"/><stop offset="0.3" stop-color="#00e"/><stop offset="0.4" stop-color="#03f"/><stop offset="0.6" stop-color="#07f"/><stop offset="0.7" stop-color="#0af"/><stop offset="0.8" stop-color="#0df"/><stop offset="0.8" stop-color="#1fe"/><stop offset="0.8" stop-color="#0cf"/><stop offset="0.9" stop-color="#0cf"/><stop offset="0.9" stop-color="#2fd"/><stop offset="1" stop-color="#2fd"/></linearGradient><linearGradient id="s167" x2="0" y2="1"><stop offset="0" stop-color="#00a"/><stop offset="0.2" stop-color="#00a"/><stop offset="0.3" stop-color="#01f"/><stop offset="0.4" stop-color="#05f"/><stop offset="0.6" stop-color="#08f"/><stop offset="0.7" stop-color="#0ef"/><stop offset="0.8" stop-color="#1fe"/><stop offset="0.8" stop-color="#6f9"/><stop offset="0.8" stop-color="#df2"/><stop offset="0.9" stop-color="#df2"/><stop offset="0.9" stop-color="#fe0"/><stop offset="1" stop-color="#fe0"/></linearGradient><linearGradient id="s168" x2="0" y2="1"><stop offset="0" stop-color="#00a"/><stop offset="0.2" stop-color="#00b"/><stop offset="0.3" stop-color="#01f"/><stop offset="0.4" stop-color="#03f"/><stop offset="0.6" stop-color="#08f"/><stop offset="0.7" stop-color="#0bf"/><stop offset="0.8" stop-color="#1fe"/><stop offset="0.8" stop-color="#3fc"/><stop offset="0.8" stop-color="#8f7"/><stop offset="0.9" stop-color="#8f7"/><stop offset="0.9" stop-color="#df2"/><stop offset="1" stop-color="#df2"/></linearGradient><linearGradient id="s169" x2="0" y2="1"><stop offset="0" stop-color="#00a"/><stop offset="0.2" stop-color="#009"/><stop offset="0.3" stop-color="#00c"/><stop offset="0.4" stop-color="#00e"/><stop offset="0.6" stop-color="#01f"/><stop offset="0.7" stop-color="#05f"/><stop offset="0.8" stop-color="#06f"/><stop offset="0.8" stop-color="#0cf"/><stop offset="0.8" stop-color="#5fa"/><stop offset="0.9" stop-color="#5fa"/><stop offset="0.9" stop-color="#5fa"/><stop offset="1" stop-color="#5fa"/></linearGradient><linearGradient id="s170" x2="0" y2="1"><stop offset="0" stop-color="#00b"/><stop offset="0.2" stop-color="#009"/><stop offset="0.3" stop-color="#00c"/><stop offset="0.4" stop-color="#02f"/><stop offset="0.6" stop-color="#06f"/><stop offset="0.7" stop-color="#09f"/><stop offset="0.8" stop-color="#0ef"/><stop offset="0.8" stop-color="#1fe"/><stop offset="0.8" stop-color="#af5"/><stop offset="0.9" stop-color="#af5"/><stop offset="0.9" stop-color="#7f8"/><stop offset="1" stop-color="#7f8"/></linearGradient><linearGradient id="s171" x2="0" y2="1"><stop offset="0" stop-color="#00a"/><stop offset="0.2" stop-color="#00b"/><stop offset="0.3" stop-color="#00d"/><stop offset="0.4" stop-color="#00f"/><stop offset="0.6" stop-color="#03f"/><stop offset="0.7" stop-color="#06f"/><stop offset="0.8" stop-color="#07f"/><stop offset="0.8" stop-color="#0af"/><stop offset="0.8" stop-color="#6f9"/><stop offset="0.9" stop-color="#6f9"/><stop offset="0.9" stop-color="#3fc"/><stop offset="1" stop-color="#3fc"/></linearGradient><linearGradient id="s172" x2="0" y2="1"><stop offset="0" stop-color="#00a"/><stop offset="0.2" stop-color="#009"/><stop offset="0.3" stop-color="#00d"/><stop offset="0.4" stop-color="#01f"/><stop offset="0.6" stop-color="#02f"/><stop offset="0.7" stop-color="#05f"/><stop offset="0.8" stop-color="#08f"/><stop offset="0.8" stop-color="#08f"/><stop offset="0.8" stop-color="#05f"/><stop offset="0.9" stop-color="#05f"/><stop offset="0.9" stop-color="#08f"/><stop offset="1" stop-color="#08f"/></linearGradient><linearGradient id="s173" x2="0" y2="1"><stop offset="0" stop-color="#009"/><stop offset="0.2" stop-color="#009"/><stop offset="0.3" stop-color="#01f"/><stop offset="0.4" stop-color="#03f"/><stop offset="0.6" stop-color="#05f"/><stop offset="0.7" stop-color="#08f"/><stop offset="0.8" stop-color="#0bf"/><stop offset="0.8" stop-color="#0ff"/><stop offset="0.8" stop-color="#08f"/><stop offset="0.9" stop-color="#08f"/><stop offset="0.9" stop-color="#08f"/><stop offset="1" stop-color="#08f"/></linearGradient><linearGradient id="s174" x2="0" y2="1"><stop offset="0" stop-color="#00a"/><stop offset="0.2" stop-color="#00b"/><stop offset="0.3" stop-color="#06f"/><stop offset="0.4" stop-color="#0af"/><stop offset="0.6" stop-color="#0ff"/><stop offset="0.7" stop-color="#4fb"/><stop offset="0.8" stop-color="#af5"/><stop offset="0.8" stop-color="#ef1"/><stop offset="0.8" stop-color="#6f9"/><stop offset="0.9" stop-color="#6f9"/><stop offset="0.9" stop-color="#af5"/><stop offset="1" stop-color="#af5"/></linearGradient><linearGradient id="s175" x2="0" y2="1"><stop offset="0" stop-color="#00a"/><stop offset="0.2" stop-color="#00b"/><stop offset="0.3" stop-color="#00d"/><stop offset="0.4" stop-color="#00f"/><stop offset="0.6" stop-color="#03f"/><stop offset="0.7" stop-color="#05f"/><stop offset="0.8" stop-color="#06f"/><stop offset="0.8" stop-color="#08f"/><stop offset="0.8" stop-color="#09f"/><stop offset="0.9" stop-color="#09f"/><stop offset="0.9" stop-color="#0bf"/><stop offset="1" stop-color="#0bf"/></linearGradient><linearGradient id="s176" x2="0" y2="1"><stop offset="0" stop-color="#009"/><stop offset="0.2" stop-color="#009"/><stop offset="0.3" stop-color="#00b"/><stop offset="0.4" stop-color="#00f"/><stop offset="0.6" stop-color="#00f"/><stop offset="0.7" stop-color="#02f"/><stop offset="0.8" stop-color="#04f"/><stop offset="0.8" stop-color="#05f"/><stop offset="0.8" stop-color="#06f"/><stop offset="0.9" stop-color="#06f"/><stop offset="0.9" stop-color="#07f"/><stop offset="1" stop-color="#07f"/></linearGradient><linearGradient id="s177" x2="0" y2="1"><stop offset="0" stop-color="#00a"/><stop offset="0.2" stop-color="#009"/><stop offset="0.3" stop-color="#00d"/><stop offset="0.4" stop-color="#00f"/><stop offset="0.6" stop-color="#03f"/><stop offset="0.7" stop-color="#05f"/><stop offset="0.8" stop-color="#08f"/><stop offset="0.8" stop-color="#09f"/><stop offset="0.8" stop-color="#08f"/><stop offset="0.9" stop-color="#08f"/><stop offset="0.9" stop-color="#09f"/><stop offset="1" stop-color="#09f"/></linearGradient><linearGradient id="s178" x2="0" y2="1"><stop offset="0" stop-color="#009"/><stop offset="0.2" stop-color="#00c"/><stop offset="0.3" stop-color="#03f"/><stop offset="0.4" stop-color="#08f"/><stop offset="0.6" stop-color="#0df"/><stop offset="0.7" stop-color="#4fb"/><stop offset="0.8" stop-color="#6f9"/><stop offset="0.8" stop-color="#af5"/><stop offset="0.8" stop-color="#1fe"/><stop offset="0.9" stop-color="#1fe"/><stop offset="0.9" stop-color="#0ff"/><stop offset="1" stop-color="#0ff"/></linearGradient><linearGradient id="s179" x2="0" y2="1"><stop offset="0" stop-color="#009"/><stop offset="0.2" stop-color="#00a"/><stop offset="0.3" stop-color="#00e"/><stop offset="0.4" stop-color="#02f"/><stop offset="0.6" stop-color="#03f"/><stop offset="0.7" stop-color="#05f"/><stop offset="0.8" stop-color="#08f"/><stop offset="0.8" stop-color="#0bf"/><stop offset="0.8" stop-color="#4fb"/><stop offset="0.9" stop-color="#4fb"/><stop offset="0.9" stop-color="#4fb"/><stop offset="1" stop-color="#4fb"/></linearGradient><linearGradient id="s180" x2="0" y2="1"><stop offset="0" stop-color="#00a"/><stop offset="0.2" stop-color="#009"/><stop offset="0.3" stop-color="#00a"/><stop offset="0.4" stop-color="#00a"/><stop offset="0.6" stop-color="#009"/><stop offset="0.7" stop-color="#00c"/><stop offset="0.8" stop-color="#05f"/><stop offset="0.8" stop-color="#0af"/><stop offset="0.8" stop-color="#6f9"/><stop offset="0.9" stop-color="#6f9"/><stop offset="0.9" stop-color="#5fa"/><stop offset="1" stop-color="#5fa"/></linearGradient><linearGradient id="s181" x2="0" y2="1"><stop offset="0" stop-color="#009"/><stop offset="0.2" stop-color="#00b"/><stop offset="0.3" stop-color="#009"/><stop offset="0.4" stop-color="#00a"/><stop offset="0.6" stop-color="#00b"/><stop offset="0.7" stop-color="#00b"/><stop offset="0.8" stop-color="#00a"/><stop offset="0.8" stop-color="#00b"/><stop offset="0.8" stop-color="#00b"/><stop offset="0.9" stop-color="#00b"/><stop offset="0.9" stop-color="#00b"/><stop offset="1" stop-color="#00b"/></linearGradient><linearGradient id="s182" x2="0" y2="1"><stop offset="0" stop-color="#009"/><stop offset="0.2" stop-color="#00b"/><stop offset="0.3" stop-color="#009"/><stop offset="0.4" stop-color="#00b"/><stop offset="0.6" stop-color="#009"/><stop offset="0.7" stop-color="#00c"/><stop offset="0.8" stop-color="#03f"/><stop offset="0.8" stop-color="#0af"/><stop offset="0.8" stop-color="#4fb"/><stop offset="0.9" stop-color="#4fb"/><stop offset="0.9" stop-color="#8f7"/><stop offset="1" stop-color="#8f7"/></linearGradient><linearGradient id="s183" x2="0" y2="1"><stop offset="0" stop-color="#009"/><stop offset="0.2" stop-color="#009"/><stop offset="0.3" stop-color="#00a"/><stop offset="0.4" stop-color="#00b"/><stop offset="0.6" stop-color="#00a"/><stop offset="0.7" stop-color="#00b"/><stop offset="0.8" stop-color="#03f"/><stop offset="0.8" stop-color="#0af"/><stop offset="0.8" stop-color="#3fc"/><stop offset="0.9" stop-color="#3fc"/><stop offset="0.9" stop-color="#2fd"/><stop offset="1" stop-color="#2fd"/></linearGradient><linearGradient id="s184" x2="0" y2="1"><stop offset="0" stop-color="#00b"/><stop offset="0.2" stop-color="#00b"/><stop offset="0.3" stop-color="#00c"/><stop offset="0.4" stop-color="#02f"/><stop offset="0.6" stop-color="#05f"/><stop offset="0.7" stop-color="#0af"/><stop offset="0.8" stop-color="#0ff"/><stop offset="0.8" stop-color="#4fb"/><stop offset="0.8" stop-color="#cf3"/><stop offset="0.9" stop-color="#cf3"/><stop offset="0.9" stop-color="#cf3"/><stop offset="1" stop-color="#cf3"/></linearGradient><linearGradient id="s185" x2="0" y2="1"><stop offset="0" stop-color="#009"/><stop offset="0.2" stop-color="#00a"/><stop offset="0.3" stop-color="#00c"/><stop offset="0.4" stop-color="#00d"/><stop offset="0.6" stop-color="#00f"/><stop offset="0.7" stop-color="#01f"/><stop offset="0.8" stop-color="#04f"/><stop offset="0.8" stop-color="#04f"/><stop offset="0.8" stop-color="#09f"/><stop offset="0.9" stop-color="#09f"/><stop offset="0.9" stop-color="#09f"/><stop offset="1" stop-color="#09f"/></linearGradient><linearGradient id="s186" x2="0" y2="1"><stop offset="0" stop-color="#009"/><stop offset="0.2" stop-color="#00b"/><stop offset="0.3" stop-color="#00f"/><stop offset="0.4" stop-color="#05f"/><stop offset="0.6" stop-color="#08f"/><stop offset="0.7" stop-color="#0cf"/><stop offset="0.8" stop-color="#3fc"/><stop offset="0.8" stop-color="#6f9"/><stop offset="0.8" stop-color="#0ef"/><stop offset="0.9" stop-color="#0ef"/><stop offset="0.9" stop-color="#3fc"/><stop offset="1" stop-color="#3fc"/></linearGradient><linearGradient id="s187" x2="0" y2="1"><stop offset="0" stop-color="#00a"/><stop offset="0.2" stop-color="#00b"/><stop offset="0.3" stop-color="#01f"/><stop offset="0.4" stop-color="#07f"/><stop offset="0.6" stop-color="#0cf"/><stop offset="0.7" stop-color="#1fe"/><stop offset="0.8" stop-color="#7f8"/><stop offset="0.8" stop-color="#9f6"/><stop offset="0.8" stop-color="#4fb"/><stop offset="0.9" stop-color="#4fb"/><stop offset="0.9" stop-color="#af5"/><stop offset="1" stop-color="#af5"/></linearGradient><linearGradient id="s188" x2="0" y2="1"><stop offset="0" stop-color="#009"/><stop offset="0.2" stop-color="#00b"/><stop offset="0.3" stop-color="#00c"/><stop offset="0.4" stop-color="#02f"/><stop offset="0.6" stop-color="#04f"/><stop offset="0.7" stop-color="#0af"/><stop offset="0.8" stop-color="#0df"/><stop offset="0.8" stop-color="#1fe"/><stop offset="0.8" stop-color="#df2"/><stop offset="0.9" stop-color="#df2"/><stop offset="0.9" stop-color="#df2"/><stop offset="1" stop-color="#df2"/></linearGradient><linearGradient id="s189" x2="0" y2="1"><stop offset="0" stop-color="#00a"/><stop offset="0.2" stop-color="#009"/><stop offset="0.3" stop-color="#00a"/><stop offset="0.4" stop-color="#00c"/><stop offset="0.6" stop-color="#00d"/><stop offset="0.7" stop-color="#01f"/><stop offset="0.8" stop-color="#04f"/><stop offset="0.8" stop-color="#06f"/><stop offset="0.8" stop-color="#06f"/><stop offset="0.9" stop-color="#06f"/><stop offset="0.9" stop-color="#08f"/><stop offset="1" stop-color="#08f"/></linearGradient><linearGradient id="s190" x2="0" y2="1"><stop offset="0" stop-color="#009"/><stop offset="0.2" stop-color="#00b"/><stop offset="0.3" stop-color="#01f"/><stop offset="0.4" stop-color="#06f"/><stop offset="0.6" stop-color="#08f"/><stop offset="0.7" stop-color="#0ef"/><stop offset="0.8" stop-color="#2fd"/><stop offset="0.8" stop-color="#5fa"/><stop offset="0.8" stop-color="#df2"/><stop offset="0.9" stop-color="#df2"/><stop offset="0.9" stop-color="#cf3"/><stop offset="1" stop-color="#cf3"/></linearGradient><linearGradient id="s191" x2="0" y2="1"><stop offset="0" stop-color="#00a"/><stop offset="0.2" stop-color="#00a"/><stop offset="0.3" stop-color="#03f"/><stop offset="0.4" stop-color="#09f"/><stop offset="0.6" stop-color="#0ef"/><stop offset="0.7" stop-color="#4fb"/><stop offset="0.8" stop-color="#9f6"/><stop offset="0.8" stop-color="#ef1"/><stop offset="0.8" stop-color="#fb0"/><stop offset="0.9" stop-color="#fb0"/><stop offset="0.9" stop-color="#fe0"/><stop offset="1" stop-color="#fe0"/></linearGradient><linearGradient id="s192" x2="0" y2="1"><stop offset="0" stop-color="#00b"/><stop offset="0.2" stop-color="#00b"/><stop offset="0.3" stop-color="#00f"/><stop offset="0.4" stop-color="#03f"/><stop offset="0.6" stop-color="#08f"/><stop offset="0.7" stop-color="#0cf"/><stop offset="0.8" stop-color="#7f8"/><stop offset="0.8" stop-color="#ff0"/><stop offset="0.8" stop-color="#f30"/><stop offset="0.9" stop-color="#f30"/><stop offset="0.9" stop-color="#f70"/><stop offset="1" stop-color="#f70"/></linearGradient><linearGradient id="s193" x2="0" y2="1"><stop offset="0" stop-color="#00b"/><stop offset="0.2" stop-color="#00b"/><stop offset="0.3" stop-color="#00d"/><stop offset="0.4" stop-color="#00f"/><stop offset="0.6" stop-color="#02f"/><stop offset="0.7" stop-color="#05f"/><stop offset="0.8" stop-color="#07f"/><stop offset="0.8" stop-color="#0bf"/><stop offset="0.8" stop-color="#2fd"/><stop offset="0.9" stop-color="#2fd"/><stop offset="0.9" stop-color="#8f7"/><stop offset="1" stop-color="#8f7"/></linearGradient><linearGradient id="s194" x2="0" y2="1"><stop offset="0" stop-color="#009"/><stop offset="0.2" stop-color="#00a"/><stop offset="0.3" stop-color="#02f"/><stop offset="0.4" stop-color="#07f"/><stop offset="0.6" stop-color="#0cf"/><stop offset="0.7" stop-color="#3fc"/><stop offset="0.8" stop-color="#7f8"/><stop offset="0.8" stop-color="#bf4"/><stop offset="0.8" stop-color="#fc0"/><stop offset="0.9" stop-color="#fc0"/><stop offset="0.9" stop-color="#f80"/><stop offset="1" stop-color="#f80"/></linearGradient><linearGradient id="s195" x2="0" y2="1"><stop offset="0" stop-color="#00a"/><stop offset="0.2" stop-color="#00a"/><stop offset="0.3" stop-color="#01f"/><stop offset="0.4" stop-color="#05f"/><stop offset="0.6" stop-color="#0bf"/><stop offset="0.7" stop-color="#1fe"/><stop offset="0.8" stop-color="#7f8"/><stop offset="0.8" stop-color="#bf4"/><stop offset="0.8" stop-color="#9f6"/><stop offset="0.9" stop-color="#9f6"/><stop offset="0.9" stop-color="#7f8"/><stop offset="1" stop-color="#7f8"/></linearGradient><linearGradient id="s196" x2="0" y2="1"><stop offset="0" stop-color="#00a"/><stop offset="0.2" stop-color="#009"/><stop offset="0.3" stop-color="#01f"/><stop offset="0.4" stop-color="#08f"/><stop offset="0.6" stop-color="#0ff"/><stop offset="0.7" stop-color="#5fa"/><stop offset="0.8" stop-color="#af5"/><stop offset="0.8" stop-color="#ef1"/><stop offset="0.8" stop-color="#5fa"/><stop offset="0.9" stop-color="#5fa"/><stop offset="0.9" stop-color="#7f8"/><stop offset="1" stop-color="#7f8"/></linearGradient><linearGradient id="s197" x2="0" y2="1"><stop offset="0" stop-color="#009"/><stop offset="0.2" stop-color="#00a"/><stop offset="0.3" stop-color="#00d"/><stop offset="0.4" stop-color="#02f"/><stop offset="0.6" stop-color="#07f"/><stop offset="0.7" stop-color="#0bf"/><stop offset="0.8" stop-color="#0ff"/><stop offset="0.8" stop-color="#4fb"/><stop offset="0.8" stop-color="#4fb"/><stop offset="0.9" stop-color="#4fb"/><stop offset="0.9" stop-color="#7f8"/><stop offset="1" stop-color="#7f8"/></linearGradient><linearGradient id="s198" x2="0" y2="1"><stop offset="0" stop-color="#009"/><stop offset="0.2" stop-color="#00a"/><stop offset="0.3" stop-color="#00c"/><stop offset="0.4" stop-color="#00f"/><stop offset="0.6" stop-color="#02f"/><stop offset="0.7" stop-color="#02f"/><stop offset="0.8" stop-color="#04f"/><stop offset="0.8" stop-color="#06f"/><stop offset="0.8" stop-color="#06f"/><stop offset="0.9" stop-color="#06f"/><stop offset="0.9" stop-color="#06f"/><stop offset="1" stop-color="#06f"/></linearGradient><linearGradient id="s199" x2="0" y2="1"><stop offset="0" stop-color="#00b"/><stop offset="0.2" stop-color="#00e"/><stop offset="0.3" stop-color="#04f"/><stop offset="0.4" stop-color="#08f"/><stop offset="0.6" stop-color="#0cf"/><stop offset="0.7" stop-color="#0ff"/><stop offset="0.8" stop-color="#3fc"/><stop offset="0.8" stop-color="#7f8"/><stop offset="0.8" stop-color="#8f7"/><stop offset="0.9" stop-color="#8f7"/><stop offset="0.9" stop-color="#af5"/><stop offset="1" stop-color="#af5"/></linearGradient><linearGradient id="s200" x2="0" y2="1"><stop offset="0" stop-color="#009"/><stop offset="0.2" stop-color="#00b"/><stop offset="0.3" stop-color="#02f"/><stop offset="0.4" stop-color="#05f"/><stop offset="0.6" stop-color="#06f"/><stop offset="0.7" stop-color="#09f"/><stop offset="0.8" stop-color="#0cf"/><stop offset="0.8" stop-color="#0ef"/><stop offset="0.8" stop-color="#0bf"/><stop offset="0.9" stop-color="#0bf"/><stop offset="0.9" stop-color="#0cf"/><stop offset="1" stop-color="#0cf"/></linearGradient><linearGradient id="s201" x2="0" y2="1"><stop offset="0" stop-color="#00a"/><stop offset="0.2" stop-color="#00d"/><stop offset="0.3" stop-color="#04f"/><stop offset="0.4" stop-color="#07f"/><stop offset="0.6" stop-color="#09f"/><stop offset="0.7" stop-color="#0bf"/><stop offset="0.8" stop-color="#0df"/><stop offset="0.8" stop-color="#2fd"/><stop offset="0.8" stop-color="#0ef"/><stop offset="0.9" stop-color="#0ef"/><stop offset="0.9" stop-color="#2fd"/><stop offset="1" stop-color="#2fd"/></linearGradient><linearGradient id="s202" x2="0" y2="1"><stop offset="0" stop-color="#00b"/><stop offset="0.2" stop-color="#03f"/><stop offset="0.3" stop-color="#0af"/><stop offset="0.4" stop-color="#0ff"/><stop offset="0.6" stop-color="#4fb"/><stop offset="0.7" stop-color="#9f6"/><stop offset="0.8" stop-color="#ef1"/><stop offset="0.8" stop-color="#fc0"/><stop offset="0.8" stop-color="#5fa"/><stop offset="0.9" stop-color="#5fa"/><stop offset="0.9" stop-color="#3fc"/><stop offset="1" stop-color="#3fc"/></linearGradient><linearGradient id="s203" x2="0" y2="1"><stop offset="0" stop-color="#00b"/><stop offset="0.2" stop-color="#01f"/><stop offset="0.3" stop-color="#07f"/><stop offset="0.4" stop-color="#0cf"/><stop offset="0.6" stop-color="#0ef"/><stop offset="0.7" stop-color="#3fc"/><stop offset="0.8" stop-color="#6f9"/><stop offset="0.8" stop-color="#9f6"/><stop offset="0.8" stop-color="#3fc"/><stop offset="0.9" stop-color="#3fc"/><stop offset="0.9" stop-color="#7f8"/><stop offset="1" stop-color="#7f8"/></linearGradient><linearGradient id="s204" x2="0" y2="1"><stop offset="0" stop-color="#00b"/><stop offset="0.2" stop-color="#00f"/><stop offset="0.3" stop-color="#06f"/><stop offset="0.4" stop-color="#09f"/><stop offset="0.6" stop-color="#0cf"/><stop offset="0.7" stop-color="#1fe"/><stop offset="0.8" stop-color="#3fc"/><stop offset="0.8" stop-color="#6f9"/><stop offset="0.8" stop-color="#ff0"/><stop offset="0.9" stop-color="#ff0"/><stop offset="0.9" stop-color="#ef1"/><stop offset="1" stop-color="#ef1"/></linearGradient><linearGradient id="s205" x2="0" y2="1"><stop offset="0" stop-color="#00a"/><stop offset="0.2" stop-color="#03f"/><stop offset="0.3" stop-color="#0bf"/><stop offset="0.4" stop-color="#0ef"/><stop offset="0.6" stop-color="#5fa"/><stop offset="0.7" stop-color="#8f7"/><stop offset="0.8" stop-color="#df2"/><stop offset="0.8" stop-color="#fe0"/><stop offset="0.8" stop-color="#f70"/><stop offset="0.9" stop-color="#f70"/><stop offset="0.9" stop-color="#f80"/><stop offset="1" stop-color="#f80"/></linearGradient><linearGradient id="s206" x2="0" y2="1"><stop offset="0" stop-color="#009"/><stop offset="0.2" stop-color="#03f"/><stop offset="0.3" stop-color="#09f"/><stop offset="0.4" stop-color="#0cf"/><stop offset="0.6" stop-color="#1fe"/><stop offset="0.7" stop-color="#5fa"/><stop offset="0.8" stop-color="#7f8"/><stop offset="0.8" stop-color="#cf3"/><stop offset="0.8" stop-color="#8f7"/><stop offset="0.9" stop-color="#8f7"/><stop offset="0.9" stop-color="#7f8"/><stop offset="1" stop-color="#7f8"/></linearGradient><linearGradient id="s207" x2="0" y2="1"><stop offset="0" stop-color="#009"/><stop offset="0.2" stop-color="#009"/><stop offset="0.3" stop-color="#00a"/><stop offset="0.4" stop-color="#00e"/><stop offset="0.6" stop-color="#02f"/><stop offset="0.7" stop-color="#07f"/><stop offset="0.8" stop-color="#0bf"/><stop offset="0.8" stop-color="#0ff"/><stop offset="0.8" stop-color="#bf4"/><stop offset="0.9" stop-color="#bf4"/><stop offset="0.9" stop-color="#fb0"/><stop offset="1" stop-color="#fb0"/></linearGradient><linearGradient id="s208" x2="0" y2="1"><stop offset="0" stop-color="#00a"/><stop offset="0.2" stop-color="#009"/><stop offset="0.3" stop-color="#00e"/><stop offset="0.4" stop-color="#05f"/><stop offset="0.6" stop-color="#09f"/><stop offset="0.7" stop-color="#0ef"/><stop offset="0.8" stop-color="#4fb"/><stop offset="0.8" stop-color="#6f9"/><stop offset="0.8" stop-color="#cf3"/><stop offset="0.9" stop-color="#cf3"/><stop offset="0.9" stop-color="#df2"/><stop offset="1" stop-color="#df2"/></linearGradient><linearGradient id="s209" x2="0" y2="1"><stop offset="0" stop-color="#00b"/><stop offset="0.2" stop-color="#00a"/><stop offset="0.3" stop-color="#00c"/><stop offset="0.4" stop-color="#00e"/><stop offset="0.6" stop-color="#01f"/><stop offset="0.7" stop-color="#02f"/><stop offset="0.8" stop-color="#06f"/><stop offset="0.8" stop-color="#08f"/><stop offset="0.8" stop-color="#0ef"/><stop offset="0.9" stop-color="#0ef"/><stop offset="0.9" stop-color="#0bf"/><stop offset="1" stop-color="#0bf"/></linearGradient><linearGradient id="s210" x2="0" y2="1"><stop offset="0" stop-color="#00a"/><stop offset="0.2" stop-color="#00b"/><stop offset="0.3" stop-color="#00f"/><stop offset="0.4" stop-color="#06f"/><stop offset="0.6" stop-color="#0cf"/><stop offset="0.7" stop-color="#1fe"/><stop offset="0.8" stop-color="#7f8"/><stop offset="0.8" stop-color="#cf3"/><stop offset="0.8" stop-color="#fc0"/><stop offset="0.9" stop-color="#fc0"/><stop offset="0.9" stop-color="#f80"/><stop offset="1" stop-color="#f80"/></linearGradient><linearGradient id="s211" x2="0" y2="1"><stop offset="0" stop-color="#00a"/><stop offset="0.2" stop-color="#009"/><stop offset="0.3" stop-color="#01f"/><stop offset="0.4" stop-color="#05f"/><stop offset="0.6" stop-color="#0bf"/><stop offset="0.7" stop-color="#2fd"/><stop offset="0.8" stop-color="#7f8"/><stop offset="0.8" stop-color="#ef1"/><stop offset="0.8" stop-color="#f40"/><stop offset="0.9" stop-color="#f40"/><stop offset="0.9" stop-color="#f80"/><stop offset="1" stop-color="#f80"/></linearGradient><linearGradient id="s212" x2="0" y2="1"><stop offset="0" stop-color="#00a"/><stop offset="0.2" stop-color="#00b"/><stop offset="0.3" stop-color="#02f"/><stop offset="0.4" stop-color="#05f"/><stop offset="0.6" stop-color="#09f"/><stop offset="0.7" stop-color="#0df"/><stop offset="0.8" stop-color="#1fe"/><stop offset="0.8" stop-color="#3fc"/><stop offset="0.8" stop-color="#7f8"/><stop offset="0.9" stop-color="#7f8"/><stop offset="0.9" stop-color="#5fa"/><stop offset="1" stop-color="#5fa"/></linearGradient><linearGradient id="s213" x2="0" y2="1"><stop offset="0" stop-color="#00a"/><stop offset="0.2" stop-color="#009"/><stop offset="0.3" stop-color="#01f"/><stop offset="0.4" stop-color="#04f"/><stop offset="0.6" stop-color="#06f"/><stop offset="0.7" stop-color="#09f"/><stop offset="0.8" stop-color="#0cf"/><stop offset="0.8" stop-color="#5fa"/><stop offset="0.8" stop-color="#fd0"/><stop offset="0.9" stop-color="#fd0"/><stop offset="0.9" stop-color="#fe0"/><stop offset="1" stop-color="#fe0"/></linearGradient><linearGradient id="s214" x2="0" y2="1"><stop offset="0" stop-color="#00a"/><stop offset="0.2" stop-color="#00b"/><stop offset="0.3" stop-color="#00c"/><stop offset="0.4" stop-color="#00d"/><stop offset="0.6" stop-color="#01f"/><stop offset="0.7" stop-color="#05f"/><stop offset="0.8" stop-color="#07f"/><stop offset="0.8" stop-color="#09f"/><stop offset="0.8" stop-color="#1fe"/><stop offset="0.9" stop-color="#1fe"/><stop offset="0.9" stop-color="#3fc"/><stop offset="1" stop-color="#3fc"/></linearGradient><linearGradient id="s215" x2="0" y2="1"><stop offset="0" stop-color="#00b"/><stop offset="0.2" stop-color="#00b"/><stop offset="0.3" stop-color="#00b"/><stop offset="0.4" stop-color="#00b"/><stop offset="0.6" stop-color="#009"/><stop offset="0.7" stop-color="#00b"/><stop offset="0.8" stop-color="#00d"/><stop offset="0.8" stop-color="#03f"/><stop offset="0.8" stop-color="#0ff"/><stop offset="0.9" stop-color="#0ff"/><stop offset="0.9" stop-color="#0ff"/><stop offset="1" stop-color="#0ff"/></linearGradient><linearGradient id="s216" x2="0" y2="1"><stop offset="0" stop-color="#00b"/><stop offset="0.2" stop-color="#00d"/><stop offset="0.3" stop-color="#01f"/><stop offset="0.4" stop-color="#04f"/><stop offset="0.6" stop-color="#05f"/><stop offset="0.7" stop-color="#09f"/><stop offset="0.8" stop-color="#6f9"/><stop offset="0.8" stop-color="#fc0"/><stop offset="0.8" stop-color="#f30"/><stop offset="0.9" stop-color="#f30"/><stop offset="0.9" stop-color="#f80"/><stop offset="1" stop-color="#f80"/></linearGradient><linearGradient id="s217" x2="0" y2="1"><stop offset="0" stop-color="#00b"/><stop offset="0.2" stop-color="#00e"/><stop offset="0.3" stop-color="#03f"/><stop offset="0.4" stop-color="#06f"/><stop offset="0.6" stop-color="#09f"/><stop offset="0.7" stop-color="#0cf"/><stop offset="0.8" stop-color="#0df"/><stop offset="0.8" stop-color="#0ff"/><stop offset="0.8" stop-color="#0ff"/><stop offset="0.9" stop-color="#0ff"/><stop offset="0.9" stop-color="#0cf"/><stop offset="1" stop-color="#0cf"/></linearGradient><linearGradient id="s218" x2="0" y2="1"><stop offset="0" stop-color="#00a"/><stop offset="0.2" stop-color="#01f"/><stop offset="0.3" stop-color="#08f"/><stop offset="0.4" stop-color="#0af"/><stop offset="0.6" stop-color="#0ff"/><stop offset="0.7" stop-color="#4fb"/><stop offset="0.8" stop-color="#7f8"/><stop offset="0.8" stop-color="#cf3"/><stop offset="0.8" stop-color="#f90"/><stop offset="0.9" stop-color="#f90"/><stop offset="0.9" stop-color="#fb0"/><stop offset="1" stop-color="#fb0"/></linearGradient><linearGradient id="s219" x2="0" y2="1"><stop offset="0" stop-color="#009"/><stop offset="0.2" stop-color="#00b"/><stop offset="0.3" stop-color="#00a"/><stop offset="0.4" stop-color="#00b"/><stop offset="0.6" stop-color="#009"/><stop offset="0.7" stop-color="#00f"/><stop offset="0.8" stop-color="#06f"/><stop offset="0.8" stop-color="#0af"/><stop offset="0.8" stop-color="#0ff"/><stop offset="0.9" stop-color="#0ff"/><stop offset="0.9" stop-color="#3fc"/><stop offset="1" stop-color="#3fc"/></linearGradient><linearGradient id="s220" x2="0" y2="1"><stop offset="0" stop-color="#00a"/><stop offset="0.2" stop-color="#00d"/><stop offset="0.3" stop-color="#01f"/><stop offset="0.4" stop-color="#04f"/><stop offset="0.6" stop-color="#05f"/><stop offset="0.7" stop-color="#08f"/><stop offset="0.8" stop-color="#0bf"/><stop offset="0.8" stop-color="#1fe"/><stop offset="0.8" stop-color="#6f9"/><stop offset="0.9" stop-color="#6f9"/><stop offset="0.9" stop-color="#df2"/><stop offset="1" stop-color="#df2"/></linearGradient><linearGradient id="s221" x2="0" y2="1"><stop offset="0" stop-color="#00a"/><stop offset="0.2" stop-color="#00f"/><stop offset="0.3" stop-color="#01f"/><stop offset="0.4" stop-color="#06f"/><stop offset="0.6" stop-color="#08f"/><stop offset="0.7" stop-color="#0af"/><stop offset="0.8" stop-color="#0cf"/><stop offset="0.8" stop-color="#6f9"/><stop offset="0.8" stop-color="#f50"/><stop offset="0.9" stop-color="#f50"/><stop offset="0.9" stop-color="#fa0"/><stop offset="1" stop-color="#fa0"/></linearGradient><linearGradient id="s222" x2="0" y2="1"><stop offset="0" stop-color="#00b"/><stop offset="0.2" stop-color="#01f"/><stop offset="0.3" stop-color="#08f"/><stop offset="0.4" stop-color="#0bf"/><stop offset="0.6" stop-color="#1fe"/><stop offset="0.7" stop-color="#5fa"/><stop offset="0.8" stop-color="#9f6"/><stop offset="0.8" stop-color="#cf3"/><stop offset="0.8" stop-color="#fd0"/><stop offset="0.9" stop-color="#fd0"/><stop offset="0.9" stop-color="#fb0"/><stop offset="1" stop-color="#fb0"/></linearGradient><linearGradient id="s223" x2="0" y2="1"><stop offset="0" stop-color="#009"/><stop offset="0.2" stop-color="#00d"/><stop offset="0.3" stop-color="#03f"/><stop offset="0.4" stop-color="#07f"/><stop offset="0.6" stop-color="#09f"/><stop offset="0.7" stop-color="#0cf"/><stop offset="0.8" stop-color="#0ef"/><stop offset="0.8" stop-color="#1fe"/><stop offset="0.8" stop-color="#4fb"/><stop offset="0.9" stop-color="#4fb"/><stop offset="0.9" stop-color="#3fc"/><stop offset="1" stop-color="#3fc"/></linearGradient><linearGradient id="s224" x2="0" y2="1"><stop offset="0" stop-color="#00b"/><stop offset="0.2" stop-color="#00c"/><stop offset="0.3" stop-color="#01f"/><stop offset="0.4" stop-color="#04f"/><stop offset="0.6" stop-color="#05f"/><stop offset="0.7" stop-color="#08f"/><stop offset="0.8" stop-color="#09f"/><stop offset="0.8" stop-color="#0cf"/><stop offset="0.8" stop-color="#5fa"/><stop offset="0.9" stop-color="#5fa"/><stop offset="0.9" stop-color="#4fb"/><stop offset="1" stop-color="#4fb"/></linearGradient><linearGradient id="s225" x2="0" y2="1"><stop offset="0" stop-color="#00a"/><stop offset="0.2" stop-color="#00f"/><stop offset="0.3" stop-color="#05f"/><stop offset="0.4" stop-color="#08f"/><stop offset="0.6" stop-color="#0df"/><stop offset="0.7" stop-color="#1fe"/><stop offset="0.8" stop-color="#4fb"/><stop offset="0.8" stop-color="#7f8"/><stop offset="0.8" stop-color="#9f6"/><stop offset="0.9" stop-color="#9f6"/><stop offset="0.9" stop-color="#ef1"/><stop offset="1" stop-color="#ef1"/></linearGradient><linearGradient id="s226" x2="0" y2="1"><stop offset="0" stop-color="#00a"/><stop offset="0.2" stop-color="#00f"/><stop offset="0.3" stop-color="#08f"/><stop offset="0.4" stop-color="#0cf"/><stop offset="0.6" stop-color="#0ef"/><stop offset="0.7" stop-color="#4fb"/><stop offset="0.8" stop-color="#8f7"/><stop offset="0.8" stop-color="#bf4"/><stop offset="0.8" stop-color="#8f7"/><stop offset="0.9" stop-color="#8f7"/><stop offset="0.9" stop-color="#cf3"/><stop offset="1" stop-color="#cf3"/></linearGradient><linearGradient id="s227" x2="0" y2="1"><stop offset="0" stop-color="#009"/><stop offset="0.2" stop-color="#00b"/><stop offset="0.3" stop-color="#00e"/><stop offset="0.4" stop-color="#01f"/><stop offset="0.6" stop-color="#02f"/><stop offset="0.7" stop-color="#02f"/><stop offset="0.8" stop-color="#04f"/><stop offset="0.8" stop-color="#05f"/><stop offset="0.8" stop-color="#0af"/><stop offset="0.9" stop-color="#0af"/><stop offset="0.9" stop-color="#08f"/><stop offset="1" stop-color="#08f"/></linearGradient><linearGradient id="s228" x2="0" y2="1"><stop offset="0" stop-color="#00a"/><stop offset="0.2" stop-color="#009"/><stop offset="0.3" stop-color="#00c"/><stop offset="0.4" stop-color="#00d"/><stop offset="0.6" stop-color="#02f"/><stop offset="0.7" stop-color="#04f"/><stop offset="0.8" stop-color="#05f"/><stop offset="0.8" stop-color="#08f"/><stop offset="0.8" stop-color="#4fb"/><stop offset="0.9" stop-color="#4fb"/><stop offset="0.9" stop-color="#2fd"/><stop offset="1" stop-color="#2fd"/></linearGradient><linearGradient id="s229" x2="0" y2="1"><stop offset="0" stop-color="#00a"/><stop offset="0.2" stop-color="#00a"/><stop offset="0.3" stop-color="#00a"/><stop offset="0.4" stop-color="#02f"/><stop offset="0.6" stop-color="#07f"/><stop offset="0.7" stop-color="#0cf"/><stop offset="0.8" stop-color="#4fb"/><stop offset="0.8" stop-color="#8f7"/><stop offset="0.8" stop-color="#fc0"/><stop offset="0.9" stop-color="#fc0"/><stop offset="0.9" stop-color="#fd0"/><stop offset="1" stop-color="#fd0"/></linearGradient><linearGradient id="s230" x2="0" y2="1"><stop offset="0" stop-color="#009"/><stop offset="0.2" stop-color="#00a"/><stop offset="0.3" stop-color="#01f"/><stop offset="0.4" stop-color="#04f"/><stop offset="0.6" stop-color="#08f"/><stop offset="0.7" stop-color="#0cf"/><stop offset="0.8" stop-color="#2fd"/><stop offset="0.8" stop-color="#6f9"/><stop offset="0.8" stop-color="#fa0"/><stop offset="0.9" stop-color="#fa0"/><stop offset="0.9" stop-color="#fc0"/><stop offset="1" stop-color="#fc0"/></linearGradient><linearGradient id="s231" x2="0" y2="1"><stop offset="0" stop-color="#00a"/><stop offset="0.2" stop-color="#009"/><stop offset="0.3" stop-color="#02f"/><stop offset="0.4" stop-color="#08f"/><stop offset="0.6" stop-color="#0ef"/><stop offset="0.7" stop-color="#4fb"/><stop offset="0.8" stop-color="#9f6"/><stop offset="0.8" stop-color="#cf3"/><stop offset="0.8" stop-color="#8f7"/><stop offset="0.9" stop-color="#8f7"/><stop offset="0.9" stop-color="#ef1"/><stop offset="1" stop-color="#ef1"/></linearGradient><linearGradient id="s232" x2="0" y2="1"><stop offset="0" stop-color="#00b"/><stop offset="0.2" stop-color="#00d"/><stop offset="0.3" stop-color="#01f"/><stop offset="0.4" stop-color="#04f"/><stop offset="0.6" stop-color="#07f"/><stop offset="0.7" stop-color="#0af"/><stop offset="0.8" stop-color="#0df"/><stop offset="0.8" stop-color="#3fc"/><stop offset="0.8" stop-color="#fd0"/><stop offset="0.9" stop-color="#fd0"/><stop offset="0.9" stop-color="#fc0"/><stop offset="1" stop-color="#fc0"/></linearGradient><linearGradient id="s233" x2="0" y2="1"><stop offset="0" stop-color="#00a"/><stop offset="0.2" stop-color="#00f"/><stop offset="0.3" stop-color="#07f"/><stop offset="0.4" stop-color="#09f"/><stop offset="0.6" stop-color="#0bf"/><stop offset="0.7" stop-color="#0ef"/><stop offset="0.8" stop-color="#4fb"/><stop offset="0.8" stop-color="#7f8"/><stop offset="0.8" stop-color="#07f"/><stop offset="0.9" stop-color="#07f"/><stop offset="0.9" stop-color="#07f"/><stop offset="1" stop-color="#07f"/></linearGradient><linearGradient id="s234" x2="0" y2="1"><stop offset="0" stop-color="#009"/><stop offset="0.2" stop-color="#00d"/><stop offset="0.3" stop-color="#03f"/><stop offset="0.4" stop-color="#07f"/><stop offset="0.6" stop-color="#09f"/><stop offset="0.7" stop-color="#0bf"/><stop offset="0.8" stop-color="#0ef"/><stop offset="0.8" stop-color="#3fc"/><stop offset="0.8" stop-color="#ef1"/><stop offset="0.9" stop-color="#ef1"/><stop offset="0.9" stop-color="#bf4"/><stop offset="1" stop-color="#bf4"/></linearGradient><linearGradient id="s235" x2="0" y2="1"><stop offset="0" stop-color="#00a"/><stop offset="0.2" stop-color="#00d"/><stop offset="0.3" stop-color="#04f"/><stop offset="0.4" stop-color="#06f"/><stop offset="0.6" stop-color="#0af"/><stop offset="0.7" stop-color="#0ef"/><stop offset="0.8" stop-color="#2fd"/><stop offset="0.8" stop-color="#5fa"/><stop offset="0.8" stop-color="#5fa"/><stop offset="0.9" stop-color="#5fa"/><stop offset="0.9" stop-color="#7f8"/><stop offset="1" stop-color="#7f8"/></linearGradient><linearGradient id="s236" x2="0" y2="1"><stop offset="0" stop-color="#009"/><stop offset="0.2" stop-color="#00b"/><stop offset="0.3" stop-color="#01f"/><stop offset="0.4" stop-color="#03f"/><stop offset="0.6" stop-color="#05f"/><stop offset="0.7" stop-color="#07f"/><stop offset="0.8" stop-color="#0af"/><stop offset="0.8" stop-color="#0df"/><stop offset="0.8" stop-color="#0cf"/><stop offset="0.9" stop-color="#0cf"/><stop offset="0.9" stop-color="#0df"/><stop offset="1" stop-color="#0df"/></linearGradient><linearGradient id="s237" x2="0" y2="1"><stop offset="0" stop-color="#009"/><stop offset="0.2" stop-color="#00c"/><stop offset="0.3" stop-color="#01f"/><stop offset="0.4" stop-color="#02f"/><stop offset="0.6" stop-color="#05f"/><stop offset="0.7" stop-color="#07f"/><stop offset="0.8" stop-color="#0af"/><stop offset="0.8" stop-color="#0af"/><stop offset="0.8" stop-color="#08f"/><stop offset="0.9" stop-color="#08f"/><stop offset="0.9" stop-color="#0af"/><stop offset="1" stop-color="#0af"/></linearGradient><linearGradient id="s238" x2="0" y2="1"><stop offset="0" stop-color="#00a"/><stop offset="0.2" stop-color="#00b"/><stop offset="0.3" stop-color="#02f"/><stop offset="0.4" stop-color="#04f"/><stop offset="0.6" stop-color="#08f"/><stop offset="0.7" stop-color="#0af"/><stop offset="0.8" stop-color="#0ef"/><stop offset="0.8" stop-color="#9f6"/><stop offset="0.8" stop-color="#fc0"/><stop offset="0.9" stop-color="#fc0"/><stop offset="0.9" stop-color="#f80"/><stop offset="1" stop-color="#f80"/></linearGradient><linearGradient id="s239" x2="0" y2="1"><stop offset="0" stop-color="#00a"/><stop offset="0.2" stop-color="#00b"/><stop offset="0.3" stop-color="#00a"/><stop offset="0.4" stop-color="#00a"/><stop offset="0.6" stop-color="#00d"/><stop offset="0.7" stop-color="#06f"/><stop offset="0.8" stop-color="#0ff"/><stop offset="0.8" stop-color="#6f9"/><stop offset="0.8" stop-color="#fa0"/><stop offset="0.9" stop-color="#fa0"/><stop offset="0.9" stop-color="#fb0"/><stop offset="1" stop-color="#fb0"/></linearGradient><linearGradient id="s240" x2="0" y2="1"><stop offset="0" stop-color="#009"/><stop offset="0.2" stop-color="#00a"/><stop offset="0.3" stop-color="#009"/><stop offset="0.4" stop-color="#00a"/><stop offset="0.6" stop-color="#00b"/><stop offset="0.7" stop-color="#00f"/><stop offset="0.8" stop-color="#02f"/><stop offset="0.8" stop-color="#02f"/><stop offset="0.8" stop-color="#08f"/><stop offset="0.9" stop-color="#08f"/><stop offset="0.9" stop-color="#0af"/><stop offset="1" stop-color="#0af"/></linearGradient><linearGradient id="s241" x2="0" y2="1"><stop offset="0" stop-color="#00b"/><stop offset="0.2" stop-color="#00a"/><stop offset="0.3" stop-color="#00b"/><stop offset="0.4" stop-color="#00b"/><stop offset="0.6" stop-color="#009"/><stop offset="0.7" stop-color="#009"/><stop offset="0.8" stop-color="#00a"/><stop offset="0.8" stop-color="#01f"/><stop offset="0.8" stop-color="#02f"/><stop offset="0.9" stop-color="#02f"/><stop offset="0.9" stop-color="#01f"/><stop offset="1" stop-color="#01f"/></linearGradient><linearGradient id="s242" x2="0" y2="1"><stop offset="0" stop-color="#009"/><stop offset="0.2" stop-color="#009"/><stop offset="0.3" stop-color="#00c"/><stop offset="0.4" stop-color="#00e"/><stop offset="0.6" stop-color="#01f"/><stop offset="0.7" stop-color="#03f"/><stop offset="0.8" stop-color="#07f"/><stop offset="0.8" stop-color="#09f"/><stop offset="0.8" stop-color="#0cf"/><stop offset="0.9" stop-color="#0cf"/><stop offset="0.9" stop-color="#0af"/><stop offset="1" stop-color="#0af"/></linearGradient><linearGradient id="s243" x2="0" y2="1"><stop offset="0" stop-color="#00a"/><stop offset="0.2" stop-color="#009"/><stop offset="0.3" stop-color="#00b"/><stop offset="0.4" stop-color="#00a"/><stop offset="0.6" stop-color="#00a"/><stop offset="0.7" stop-color="#009"/><stop offset="0.8" stop-color="#00a"/><stop offset="0.8" stop-color="#00b"/><stop offset="0.8" stop-color="#02f"/><stop offset="0.9" stop-color="#02f"/><stop offset="0.9" stop-color="#02f"/><stop offset="1" stop-color="#02f"/></linearGradient><linearGradient id="s244" x2="0" y2="1"><stop offset="0" stop-color="#009"/><stop offset="0.2" stop-color="#00a"/><stop offset="0.3" stop-color="#00a"/><stop offset="0.4" stop-color="#00b"/><stop offset="0.6" stop-color="#00b"/><stop offset="0.7" stop-color="#00a"/><stop offset="0.8" stop-color="#00c"/><stop offset="0.8" stop-color="#00d"/><stop offset="0.8" stop-color="#00f"/><stop offset="0.9" stop-color="#00f"/><stop offset="0.9" stop-color="#00e"/><stop offset="1" stop-color="#00e"/></linearGradient><linearGradient id="s245" x2="0" y2="1"><stop offset="0" stop-color="#009"/><stop offset="0.2" stop-color="#009"/><stop offset="0.3" stop-color="#009"/><stop offset="0.4" stop-color="#00b"/><stop offset="0.6" stop-color="#009"/><stop offset="0.7" stop-color="#00c"/><stop offset="0.8" stop-color="#04f"/><stop offset="0.8" stop-color="#0bf"/><stop offset="0.8" stop-color="#0ff"/><stop offset="0.9" stop-color="#0ff"/><stop offset="0.9" stop-color="#4fb"/><stop offset="1" stop-color="#4fb"/></linearGradient><linearGradient id="s246" x2="0" y2="1"><stop offset="0" stop-color="#00a"/><stop offset="0.2" stop-color="#009"/><stop offset="0.3" stop-color="#00d"/><stop offset="0.4" stop-color="#00e"/><stop offset="0.6" stop-color="#02f"/><stop offset="0.7" stop-color="#04f"/><stop offset="0.8" stop-color="#07f"/><stop offset="0.8" stop-color="#07f"/><stop offset="0.8" stop-color="#0df"/><stop offset="0.9" stop-color="#0df"/><stop offset="0.9" stop-color="#0cf"/><stop offset="1" stop-color="#0cf"/></linearGradient><linearGradient id="s247" x2="0" y2="1"><stop offset="0" stop-color="#00b"/><stop offset="0.2" stop-color="#009"/><stop offset="0.3" stop-color="#01f"/><stop offset="0.4" stop-color="#05f"/><stop offset="0.6" stop-color="#07f"/><stop offset="0.7" stop-color="#0cf"/><stop offset="0.8" stop-color="#1fe"/><stop offset="0.8" stop-color="#4fb"/><stop offset="0.8" stop-color="#0cf"/><stop offset="0.9" stop-color="#0cf"/><stop offset="0.9" stop-color="#0df"/><stop offset="1" stop-color="#0df"/></linearGradient><linearGradient id="s248" x2="0" y2="1"><stop offset="0" stop-color="#00a"/><stop offset="0.2" stop-color="#00a"/><stop offset="0.3" stop-color="#06f"/><stop offset="0.4" stop-color="#0bf"/><stop offset="0.6" stop-color="#2fd"/><stop offset="0.7" stop-color="#8f7"/><stop offset="0.8" stop-color="#ff0"/><stop offset="0.8" stop-color="#f60"/><stop offset="0.8" stop-color="#e00"/><stop offset="0.9" stop-color="#e00"/><stop offset="0.9" stop-color="#800"/><stop offset="1" stop-color="#800"/></linearGradient><linearGradient id="s249" x2="0" y2="1"><stop offset="0" stop-color="#00b"/><stop offset="0.2" stop-color="#009"/><stop offset="0.3" stop-color="#04f"/><stop offset="0.4" stop-color="#0af"/><stop offset="0.6" stop-color="#0ff"/><stop offset="0.7" stop-color="#4fb"/><stop offset="0.8" stop-color="#9f6"/><stop offset="0.8" stop-color="#df2"/><stop offset="0.8" stop-color="#fb0"/><stop offset="0.9" stop-color="#fb0"/><stop offset="0.9" stop-color="#f90"/><stop offset="1" stop-color="#f90"/></linearGradient><linearGradient id="s250" x2="0" y2="1"><stop offset="0" stop-color="#009"/><stop offset="0.2" stop-color="#00a"/><stop offset="0.3" stop-color="#02f"/><stop offset="0.4" stop-color="#08f"/><stop offset="0.6" stop-color="#0cf"/><stop offset="0.7" stop-color="#2fd"/><stop offset="0.8" stop-color="#6f9"/><stop offset="0.8" stop-color="#9f6"/><stop offset="0.8" stop-color="#f40"/><stop offset="0.9" stop-color="#f40"/><stop offset="0.9" stop-color="#800"/><stop offset="1" stop-color="#800"/></linearGradient><linearGradient id="s251" x2="0" y2="1"><stop offset="0" stop-color="#009"/><stop offset="0.2" stop-color="#02f"/><stop offset="0.3" stop-color="#08f"/><stop offset="0.4" stop-color="#0cf"/><stop offset="0.6" stop-color="#1fe"/><stop offset="0.7" stop-color="#4fb"/><stop offset="0.8" stop-color="#9f6"/><stop offset="0.8" stop-color="#ff0"/><stop offset="0.8" stop-color="#f60"/><stop offset="0.9" stop-color="#f60"/><stop offset="0.9" stop-color="#fa0"/><stop offset="1" stop-color="#fa0"/></linearGradient><linearGradient id="s252" x2="0" y2="1"><stop offset="0" stop-color="#00a"/><stop offset="0.2" stop-color="#00e"/><stop offset="0.3" stop-color="#03f"/><stop offset="0.4" stop-color="#04f"/><stop offset="0.6" stop-color="#06f"/><stop offset="0.7" stop-color="#08f"/><stop offset="0.8" stop-color="#0bf"/><stop offset="0.8" stop-color="#0df"/><stop offset="0.8" stop-color="#5fa"/><stop offset="0.9" stop-color="#5fa"/><stop offset="0.9" stop-color="#bf4"/><stop offset="1" stop-color="#bf4"/></linearGradient><linearGradient id="s253" x2="0" y2="1"><stop offset="0" stop-color="#009"/><stop offset="0.2" stop-color="#00d"/><stop offset="0.3" stop-color="#02f"/><stop offset="0.4" stop-color="#04f"/><stop offset="0.6" stop-color="#06f"/><stop offset="0.7" stop-color="#09f"/><stop offset="0.8" stop-color="#0af"/><stop offset="0.8" stop-color="#0df"/><stop offset="0.8" stop-color="#fc0"/><stop offset="0.9" stop-color="#fc0"/><stop offset="0.9" stop-color="#ff0"/><stop offset="1" stop-color="#ff0"/></linearGradient><linearGradient id="s254" x2="0" y2="1"><stop offset="0" stop-color="#009"/><stop offset="0.2" stop-color="#03f"/><stop offset="0.3" stop-color="#09f"/><stop offset="0.4" stop-color="#0df"/><stop offset="0.6" stop-color="#1fe"/><stop offset="0.7" stop-color="#5fa"/><stop offset="0.8" stop-color="#af5"/><stop offset="0.8" stop-color="#df2"/><stop offset="0.8" stop-color="#9f6"/><stop offset="0.9" stop-color="#9f6"/><stop offset="0.9" stop-color="#ff0"/><stop offset="1" stop-color="#ff0"/></linearGradient><linearGradient id="s255" x2="0" y2="1"><stop offset="0" stop-color="#00b"/><stop offset="0.2" stop-color="#00b"/><stop offset="0.3" stop-color="#009"/><stop offset="0.4" stop-color="#00c"/><stop offset="0.6" stop-color="#02f"/><stop offset="0.7" stop-color="#07f"/><stop offset="0.8" stop-color="#0bf"/><stop offset="0.8" stop-color="#2fd"/><stop offset="0.8" stop-color="#df2"/><stop offset="0.9" stop-color="#df2"/><stop offset="0.9" stop-color="#ff0"/><stop offset="1" stop-color="#ff0"/></linearGradient><linearGradient id="s256" x2="0" y2="1"><stop offset="0" stop-color="#00a"/><stop offset="0.2" stop-color="#00c"/><stop offset="0.3" stop-color="#04f"/><stop offset="0.4" stop-color="#09f"/><stop offset="0.6" stop-color="#0bf"/><stop offset="0.7" stop-color="#1fe"/><stop offset="0.8" stop-color="#9f6"/><stop offset="0.8" stop-color="#f90"/><stop offset="0.8" stop-color="#e00"/><stop offset="0.9" stop-color="#e00"/><stop offset="0.9" stop-color="#f20"/><stop offset="1" stop-color="#f20"/></linearGradient><linearGradient id="s257" x2="0" y2="1"><stop offset="0" stop-color="#00a"/><stop offset="0.2" stop-color="#00e"/><stop offset="0.3" stop-color="#09f"/><stop offset="0.4" stop-color="#0cf"/><stop offset="0.6" stop-color="#5fa"/><stop offset="0.7" stop-color="#8f7"/><stop offset="0.8" stop-color="#ef1"/><stop offset="0.8" stop-color="#fc0"/><stop offset="0.8" stop-color="#fc0"/><stop offset="0.9" stop-color="#fc0"/><stop offset="0.9" stop-color="#f30"/><stop offset="1" stop-color="#f30"/></linearGradient><linearGradient id="s258" x2="0" y2="1"><stop offset="0" stop-color="#009"/><stop offset="0.2" stop-color="#00f"/><stop offset="0.3" stop-color="#09f"/><stop offset="0.4" stop-color="#0ef"/><stop offset="0.6" stop-color="#5fa"/><stop offset="0.7" stop-color="#8f7"/><stop offset="0.8" stop-color="#ef1"/><stop offset="0.8" stop-color="#f90"/><stop offset="0.8" stop-color="#800"/><stop offset="0.9" stop-color="#800"/><stop offset="0.9" stop-color="#800"/><stop offset="1" stop-color="#800"/></linearGradient><linearGradient id="s259" x2="0" y2="1"><stop offset="0" stop-color="#00a"/><stop offset="0.2" stop-color="#00f"/><stop offset="0.3" stop-color="#06f"/><stop offset="0.4" stop-color="#0bf"/><stop offset="0.6" stop-color="#0ff"/><stop offset="0.7" stop-color="#5fa"/><stop offset="0.8" stop-color="#9f6"/><stop offset="0.8" stop-color="#df2"/><stop offset="0.8" stop-color="#fc0"/><stop offset="0.9" stop-color="#fc0"/><stop offset="0.9" stop-color="#ff0"/><stop offset="1" stop-color="#ff0"/></linearGradient><linearGradient id="s260" x2="0" y2="1"><stop offset="0" stop-color="#00a"/><stop offset="0.2" stop-color="#00a"/><stop offset="0.3" stop-color="#00f"/><stop offset="0.4" stop-color="#05f"/><stop offset="0.6" stop-color="#09f"/><stop offset="0.7" stop-color="#0df"/><stop offset="0.8" stop-color="#3fc"/><stop offset="0.8" stop-color="#7f8"/><stop offset="0.8" stop-color="#f40"/><stop offset="0.9" stop-color="#f40"/><stop offset="0.9" stop-color="#f10"/><stop offset="1" stop-color="#f10"/></linearGradient><linearGradient id="s261" x2="0" y2="1"><stop offset="0" stop-color="#00a"/><stop offset="0.2" stop-color="#00a"/><stop offset="0.3" stop-color="#03f"/><stop offset="0.4" stop-color="#0af"/><stop offset="0.6" stop-color="#0ef"/><stop offset="0.7" stop-color="#5fa"/><stop offset="0.8" stop-color="#cf3"/><stop offset="0.8" stop-color="#ff0"/><stop offset="0.8" stop-color="#f60"/><stop offset="0.9" stop-color="#f60"/><stop offset="0.9" stop-color="#fa0"/><stop offset="1" stop-color="#fa0"/></linearGradient><linearGradient id="s262" x2="0" y2="1"><stop offset="0" stop-color="#00a"/><stop offset="0.2" stop-color="#009"/><stop offset="0.3" stop-color="#01f"/><stop offset="0.4" stop-color="#08f"/><stop offset="0.6" stop-color="#0df"/><stop offset="0.7" stop-color="#4fb"/><stop offset="0.8" stop-color="#7f8"/><stop offset="0.8" stop-color="#cf3"/><stop offset="0.8" stop-color="#ff0"/><stop offset="0.9" stop-color="#ff0"/><stop offset="0.9" stop-color="#ff0"/><stop offset="1" stop-color="#ff0"/></linearGradient><linearGradient id="s263" x2="0" y2="1"><stop offset="0" stop-color="#00a"/><stop offset="0.2" stop-color="#00b"/><stop offset="0.3" stop-color="#00d"/><stop offset="0.4" stop-color="#01f"/><stop offset="0.6" stop-color="#05f"/><stop offset="0.7" stop-color="#08f"/><stop offset="0.8" stop-color="#0df"/><stop offset="0.8" stop-color="#8f7"/><stop offset="0.8" stop-color="#f70"/><stop offset="0.9" stop-color="#f70"/><stop offset="0.9" stop-color="#f40"/><stop offset="1" stop-color="#f40"/></linearGradient><linearGradient id="s264" x2="0" y2="1"><stop offset="0" stop-color="#00b"/><stop offset="0.2" stop-color="#00a"/><stop offset="0.3" stop-color="#00a"/><stop offset="0.4" stop-color="#00a"/><stop offset="0.6" stop-color="#00d"/><stop offset="0.7" stop-color="#02f"/><stop offset="0.8" stop-color="#05f"/><stop offset="0.8" stop-color="#0bf"/><stop offset="0.8" stop-color="#0ef"/><stop offset="0.9" stop-color="#0ef"/><stop offset="0.9" stop-color="#4fb"/><stop offset="1" stop-color="#4fb"/></linearGradient><linearGradient id="s265" x2="0" y2="1"><stop offset="0" stop-color="#009"/><stop offset="0.2" stop-color="#00a"/><stop offset="0.3" stop-color="#009"/><stop offset="0.4" stop-color="#00a"/><stop offset="0.6" stop-color="#009"/><stop offset="0.7" stop-color="#00c"/><stop offset="0.8" stop-color="#02f"/><stop offset="0.8" stop-color="#06f"/><stop offset="0.8" stop-color="#0df"/><stop offset="0.9" stop-color="#0df"/><stop offset="0.9" stop-color="#0cf"/><stop offset="1" stop-color="#0cf"/></linearGradient><linearGradient id="s266" x2="0" y2="1"><stop offset="0" stop-color="#00b"/><stop offset="0.2" stop-color="#009"/><stop offset="0.3" stop-color="#009"/><stop offset="0.4" stop-color="#009"/><stop offset="0.6" stop-color="#009"/><stop offset="0.7" stop-color="#00b"/><stop offset="0.8" stop-color="#00e"/><stop offset="0.8" stop-color="#06f"/><stop offset="0.8" stop-color="#0bf"/><stop offset="0.9" stop-color="#0bf"/><stop offset="0.9" stop-color="#09f"/><stop offset="1" stop-color="#09f"/></linearGradient><linearGradient id="s267" x2="0" y2="1"><stop offset="0" stop-color="#00b"/><stop offset="0.2" stop-color="#009"/><stop offset="0.3" stop-color="#00a"/><stop offset="0.4" stop-color="#00a"/><stop offset="0.6" stop-color="#009"/><stop offset="0.7" stop-color="#00f"/><stop offset="0.8" stop-color="#04f"/><stop offset="0.8" stop-color="#07f"/><stop offset="0.8" stop-color="#0cf"/><stop offset="0.9" stop-color="#0cf"/><stop offset="0.9" stop-color="#0bf"/><stop offset="1" stop-color="#0bf"/></linearGradient><linearGradient id="s268" x2="0" y2="1"><stop offset="0" stop-color="#009"/><stop offset="0.2" stop-color="#00b"/><stop offset="0.3" stop-color="#009"/><stop offset="0.4" stop-color="#00b"/><stop offset="0.6" stop-color="#00c"/><stop offset="0.7" stop-color="#00e"/><stop offset="0.8" stop-color="#02f"/><stop offset="0.8" stop-color="#05f"/><stop offset="0.8" stop-color="#0cf"/><stop offset="0.9" stop-color="#0cf"/><stop offset="0.9" stop-color="#0af"/><stop offset="1" stop-color="#0af"/></linearGradient><linearGradient id="s269" x2="0" y2="1"><stop offset="0" stop-color="#009"/><stop offset="0.2" stop-color="#00a"/><stop offset="0.3" stop-color="#00b"/><stop offset="0.4" stop-color="#00d"/><stop offset="0.6" stop-color="#03f"/><stop offset="0.7" stop-color="#04f"/><stop offset="0.8" stop-color="#08f"/><stop offset="0.8" stop-color="#0af"/><stop offset="0.8" stop-color="#1fe"/><stop offset="0.9" stop-color="#1fe"/><stop offset="0.9" stop-color="#0ef"/><stop offset="1" stop-color="#0ef"/></linearGradient><linearGradient id="s270" x2="0" y2="1"><stop offset="0" stop-color="#00b"/><stop offset="0.2" stop-color="#00a"/><stop offset="0.3" stop-color="#009"/><stop offset="0.4" stop-color="#009"/><stop offset="0.6" stop-color="#00a"/><stop offset="0.7" stop-color="#00a"/><stop offset="0.8" stop-color="#00e"/><stop offset="0.8" stop-color="#04f"/><stop offset="0.8" stop-color="#07f"/><stop offset="0.9" stop-color="#07f"/><stop offset="0.9" stop-color="#08f"/><stop offset="1" stop-color="#08f"/></linearGradient><linearGradient id="s271" x2="0" y2="1"><stop offset="0" stop-color="#00a"/><stop offset="0.2" stop-color="#009"/><stop offset="0.3" stop-color="#00a"/><stop offset="0.4" stop-color="#00a"/><stop offset="0.6" stop-color="#00a"/><stop offset="0.7" stop-color="#00e"/><stop offset="0.8" stop-color="#02f"/><stop offset="0.8" stop-color="#06f"/><stop offset="0.8" stop-color="#0af"/><stop offset="0.9" stop-color="#0af"/><stop offset="0.9" stop-color="#09f"/><stop offset="1" stop-color="#09f"/></linearGradient><linearGradient id="s272" x2="0" y2="1"><stop offset="0" stop-color="#00a"/><stop offset="0.2" stop-color="#00b"/><stop offset="0.3" stop-color="#00a"/><stop offset="0.4" stop-color="#00a"/><stop offset="0.6" stop-color="#00a"/><stop offset="0.7" stop-color="#00b"/><stop offset="0.8" stop-color="#00d"/><stop offset="0.8" stop-color="#00e"/><stop offset="0.8" stop-color="#00e"/><stop offset="0.9" stop-color="#00e"/><stop offset="0.9" stop-color="#01f"/><stop offset="1" stop-color="#01f"/></linearGradient><linearGradient id="s273" x2="0" y2="1"><stop offset="0" stop-color="#00a"/><stop offset="0.2" stop-color="#00a"/><stop offset="0.3" stop-color="#00b"/><stop offset="0.4" stop-color="#00a"/><stop offset="0.6" stop-color="#00a"/><stop offset="0.7" stop-color="#00b"/><stop offset="0.8" stop-color="#00f"/><stop offset="0.8" stop-color="#00f"/><stop offset="0.8" stop-color="#02f"/><stop offset="0.9" stop-color="#02f"/><stop offset="0.9" stop-color="#03f"/><stop offset="1" stop-color="#03f"/></linearGradient><linearGradient id="s274" x2="0" y2="1"><stop offset="0" stop-color="#009"/><stop offset="0.2" stop-color="#009"/><stop offset="0.3" stop-color="#00a"/><stop offset="0.4" stop-color="#009"/><stop offset="0.6" stop-color="#00b"/><stop offset="0.7" stop-color="#00d"/><stop offset="0.8" stop-color="#03f"/><stop offset="0.8" stop-color="#06f"/><stop offset="0.8" stop-color="#0ef"/><stop offset="0.9" stop-color="#0ef"/><stop offset="0.9" stop-color="#0df"/><stop offset="1" stop-color="#0df"/></linearGradient><linearGradient id="s275" x2="0" y2="1"><stop offset="0" stop-color="#00a"/><stop offset="0.2" stop-color="#00a"/><stop offset="0.3" stop-color="#009"/><stop offset="0.4" stop-color="#00b"/><stop offset="0.6" stop-color="#00a"/><stop offset="0.7" stop-color="#00a"/><stop offset="0.8" stop-color="#00a"/><stop offset="0.8" stop-color="#00e"/><stop offset="0.8" stop-color="#04f"/><stop offset="0.9" stop-color="#04f"/><stop offset="0.9" stop-color="#03f"/><stop offset="1" stop-color="#03f"/></linearGradient><linearGradient id="s276" x2="0" y2="1"><stop offset="0" stop-color="#00b"/><stop offset="0.2" stop-color="#009"/><stop offset="0.3" stop-color="#009"/><stop offset="0.4" stop-color="#00a"/><stop offset="0.6" stop-color="#009"/><stop offset="0.7" stop-color="#00b"/><stop offset="0.8" stop-color="#00f"/><stop offset="0.8" stop-color="#06f"/><stop offset="0.8" stop-color="#0af"/><stop offset="0.9" stop-color="#0af"/><stop offset="0.9" stop-color="#0bf"/><stop offset="1" stop-color="#0bf"/></linearGradient><linearGradient id="s277" x2="0" y2="1"><stop offset="0" stop-color="#00a"/><stop offset="0.2" stop-color="#00a"/><stop offset="0.3" stop-color="#009"/><stop offset="0.4" stop-color="#00b"/><stop offset="0.6" stop-color="#009"/><stop offset="0.7" stop-color="#00d"/><stop offset="0.8" stop-color="#02f"/><stop offset="0.8" stop-color="#05f"/><stop offset="0.8" stop-color="#0cf"/><stop offset="0.9" stop-color="#0cf"/><stop offset="0.9" stop-color="#0ff"/><stop offset="1" stop-color="#0ff"/></linearGradient><linearGradient id="s278" x2="0" y2="1"><stop offset="0" stop-color="#00a"/><stop offset="0.2" stop-color="#009"/><stop offset="0.3" stop-color="#00a"/><stop offset="0.4" stop-color="#009"/><stop offset="0.6" stop-color="#00b"/><stop offset="0.7" stop-color="#00b"/><stop offset="0.8" stop-color="#00e"/><stop offset="0.8" stop-color="#03f"/><stop offset="0.8" stop-color="#02f"/><stop offset="0.9" stop-color="#02f"/><stop offset="0.9" stop-color="#02f"/><stop offset="1" stop-color="#02f"/></linearGradient><linearGradient id="s279" x2="0" y2="1"><stop offset="0" stop-color="#009"/><stop offset="0.2" stop-color="#00a"/><stop offset="0.3" stop-color="#00a"/><stop offset="0.4" stop-color="#00a"/><stop offset="0.6" stop-color="#00a"/><stop offset="0.7" stop-color="#00c"/><stop offset="0.8" stop-color="#00d"/><stop offset="0.8" stop-color="#07f"/><stop offset="0.8" stop-color="#0ff"/><stop offset="0.9" stop-color="#0ff"/><stop offset="0.9" stop-color="#0ef"/><stop offset="1" stop-color="#0ef"/></linearGradient><linearGradient id="s280" x2="0" y2="1"><stop offset="0" stop-color="#00a"/><stop offset="0.2" stop-color="#00a"/><stop offset="0.3" stop-color="#00a"/><stop offset="0.4" stop-color="#00b"/><stop offset="0.6" stop-color="#009"/><stop offset="0.7" stop-color="#00c"/><stop offset="0.8" stop-color="#06f"/><stop offset="0.8" stop-color="#0bf"/><stop offset="0.8" stop-color="#3fc"/><stop offset="0.9" stop-color="#3fc"/><stop offset="0.9" stop-color="#2fd"/><stop offset="1" stop-color="#2fd"/></linearGradient><linearGradient id="s281" x2="0" y2="1"><stop offset="0" stop-color="#00a"/><stop offset="0.2" stop-color="#00a"/><stop offset="0.3" stop-color="#009"/><stop offset="0.4" stop-color="#00a"/><stop offset="0.6" stop-color="#00a"/><stop offset="0.7" stop-color="#00c"/><stop offset="0.8" stop-color="#00d"/><stop offset="0.8" stop-color="#01f"/><stop offset="0.8" stop-color="#01f"/><stop offset="0.9" stop-color="#01f"/><stop offset="0.9" stop-color="#01f"/><stop offset="1" stop-color="#01f"/></linearGradient><linearGradient id="s282" x2="0" y2="1"><stop offset="0" stop-color="#00b"/><stop offset="0.2" stop-color="#00a"/><stop offset="0.3" stop-color="#00a"/><stop offset="0.4" stop-color="#00b"/><stop offset="0.6" stop-color="#00a"/><stop offset="0.7" stop-color="#009"/><stop offset="0.8" stop-color="#00a"/><stop offset="0.8" stop-color="#00c"/><stop offset="0.8" stop-color="#00d"/><stop offset="0.9" stop-color="#00d"/><stop offset="0.9" stop-color="#00e"/><stop offset="1" stop-color="#00e"/></linearGradient><linearGradient id="s283" x2="0" y2="1"><stop offset="0" stop-color="#00a"/><stop offset="0.2" stop-color="#009"/><stop offset="0.3" stop-color="#00a"/><stop offset="0.4" stop-color="#00d"/><stop offset="0.6" stop-color="#01f"/><stop offset="0.7" stop-color="#05f"/><stop offset="0.8" stop-color="#0af"/><stop offset="0.8" stop-color="#0cf"/><stop offset="0.8" stop-color="#1fe"/><stop offset="0.9" stop-color="#1fe"/><stop offset="0.9" stop-color="#5fa"/><stop offset="1" stop-color="#5fa"/></linearGradient><linearGradient id="s284" x2="0" y2="1"><stop offset="0" stop-color="#00a"/><stop offset="0.2" stop-color="#00a"/><stop offset="0.3" stop-color="#00b"/><stop offset="0.4" stop-color="#009"/><stop offset="0.6" stop-color="#00a"/><stop offset="0.7" stop-color="#00c"/><stop offset="0.8" stop-color="#01f"/><stop offset="0.8" stop-color="#06f"/><stop offset="0.8" stop-color="#08f"/><stop offset="0.9" stop-color="#08f"/><stop offset="0.9" stop-color="#09f"/><stop offset="1" stop-color="#09f"/></linearGradient><linearGradient id="s285" x2="0" y2="1"><stop offset="0" stop-color="#009"/><stop offset="0.2" stop-color="#009"/><stop offset="0.3" stop-color="#00a"/><stop offset="0.4" stop-color="#00b"/><stop offset="0.6" stop-color="#00b"/><stop offset="0.7" stop-color="#00c"/><stop offset="0.8" stop-color="#01f"/><stop offset="0.8" stop-color="#09f"/><stop offset="0.8" stop-color="#0df"/><stop offset="0.9" stop-color="#0df"/><stop offset="0.9" stop-color="#0ff"/><stop offset="1" stop-color="#0ff"/></linearGradient><linearGradient id="s286" x2="0" y2="1"><stop offset="0" stop-color="#00b"/><stop offset="0.2" stop-color="#00a"/><stop offset="0.3" stop-color="#009"/><stop offset="0.4" stop-color="#00b"/><stop offset="0.6" stop-color="#00f"/><stop offset="0.7" stop-color="#03f"/><stop offset="0.8" stop-color="#06f"/><stop offset="0.8" stop-color="#09f"/><stop offset="0.8" stop-color="#0cf"/><stop offset="0.9" stop-color="#0cf"/><stop offset="0.9" stop-color="#0bf"/><stop offset="1" stop-color="#0bf"/></linearGradient><linearGradient id="s287" x2="0" y2="1"><stop offset="0" stop-color="#00b"/><stop offset="0.2" stop-color="#00b"/><stop offset="0.3" stop-color="#009"/><stop offset="0.4" stop-color="#009"/><stop offset="0.6" stop-color="#00b"/><stop offset="0.7" stop-color="#009"/><stop offset="0.8" stop-color="#00e"/><stop offset="0.8" stop-color="#00f"/><stop offset="0.8" stop-color="#00f"/><stop offset="0.9" stop-color="#00f"/><stop offset="0.9" stop-color="#01f"/><stop offset="1" stop-color="#01f"/></linearGradient><linearGradient id="s288" x2="0" y2="1"><stop offset="0" stop-color="#00b"/><stop offset="0.2" stop-color="#009"/><stop offset="0.3" stop-color="#009"/><stop offset="0.4" stop-color="#00a"/><stop offset="0.6" stop-color="#009"/><stop offset="0.7" stop-color="#009"/><stop offset="0.8" stop-color="#00f"/><stop offset="0.8" stop-color="#04f"/><stop offset="0.8" stop-color="#00e"/><stop offset="0.9" stop-color="#00e"/><stop offset="0.9" stop-color="#00e"/><stop offset="1" stop-color="#00e"/></linearGradient><linearGradient id="s289" x2="0" y2="1"><stop offset="0" stop-color="#009"/><stop offset="0.2" stop-color="#009"/><stop offset="0.3" stop-color="#009"/><stop offset="0.4" stop-color="#009"/><stop offset="0.6" stop-color="#00d"/><stop offset="0.7" stop-color="#02f"/><stop offset="0.8" stop-color="#06f"/><stop offset="0.8" stop-color="#0af"/><stop offset="0.8" stop-color="#1fe"/><stop offset="0.9" stop-color="#1fe"/><stop offset="0.9" stop-color="#5fa"/><stop offset="1" stop-color="#5fa"/></linearGradient><linearGradient id="s290" x2="0" y2="1"><stop offset="0" stop-color="#00b"/><stop offset="0.2" stop-color="#00b"/><stop offset="0.3" stop-color="#009"/><stop offset="0.4" stop-color="#00b"/><stop offset="0.6" stop-color="#00c"/><stop offset="0.7" stop-color="#00f"/><stop offset="0.8" stop-color="#03f"/><stop offset="0.8" stop-color="#06f"/><stop offset="0.8" stop-color="#09f"/><stop offset="0.9" stop-color="#09f"/><stop offset="0.9" stop-color="#09f"/><stop offset="1" stop-color="#09f"/></linearGradient><linearGradient id="s291" x2="0" y2="1"><stop offset="0" stop-color="#00a"/><stop offset="0.2" stop-color="#00a"/><stop offset="0.3" stop-color="#009"/><stop offset="0.4" stop-color="#00a"/><stop offset="0.6" stop-color="#009"/><stop offset="0.7" stop-color="#00a"/><stop offset="0.8" stop-color="#009"/><stop offset="0.8" stop-color="#00b"/><stop offset="0.8" stop-color="#02f"/><stop offset="0.9" stop-color="#02f"/><stop offset="0.9" stop-color="#01f"/><stop offset="1" stop-color="#01f"/></linearGradient><linearGradient id="s292" x2="0" y2="1"><stop offset="0" stop-color="#00a"/><stop offset="0.2" stop-color="#00b"/><stop offset="0.3" stop-color="#00b"/><stop offset="0.4" stop-color="#00c"/><stop offset="0.6" stop-color="#01f"/><stop offset="0.7" stop-color="#05f"/><stop offset="0.8" stop-color="#0bf"/><stop offset="0.8" stop-color="#0ff"/><stop offset="0.8" stop-color="#5fa"/><stop offset="0.9" stop-color="#5fa"/><stop offset="0.9" stop-color="#3fc"/><stop offset="1" stop-color="#3fc"/></linearGradient><linearGradient id="s293" x2="0" y2="1"><stop offset="0" stop-color="#00a"/><stop offset="0.2" stop-color="#00b"/><stop offset="0.3" stop-color="#00a"/><stop offset="0.4" stop-color="#00b"/><stop offset="0.6" stop-color="#009"/><stop offset="0.7" stop-color="#00c"/><stop offset="0.8" stop-color="#00d"/><stop offset="0.8" stop-color="#01f"/><stop offset="0.8" stop-color="#01f"/><stop offset="0.9" stop-color="#01f"/><stop offset="0.9" stop-color="#01f"/><stop offset="1" stop-color="#01f"/></linearGradient><linearGradient id="s294" x2="0" y2="1"><stop offset="0" stop-color="#00a"/><stop offset="0.2" stop-color="#009"/><stop offset="0.3" stop-color="#00d"/><stop offset="0.4" stop-color="#01f"/><stop offset="0.6" stop-color="#04f"/><stop offset="0.7" stop-color="#06f"/><stop offset="0.8" stop-color="#0bf"/><stop offset="0.8" stop-color="#0cf"/><stop offset="0.8" stop-color="#4fb"/><stop offset="0.9" stop-color="#4fb"/><stop offset="0.9" stop-color="#3fc"/><stop offset="1" stop-color="#3fc"/></linearGradient><linearGradient id="s295" x2="0" y2="1"><stop offset="0" stop-color="#00a"/><stop offset="0.2" stop-color="#00a"/><stop offset="0.3" stop-color="#009"/><stop offset="0.4" stop-color="#00a"/><stop offset="0.6" stop-color="#00b"/><stop offset="0.7" stop-color="#00b"/><stop offset="0.8" stop-color="#00b"/><stop offset="0.8" stop-color="#00e"/><stop offset="0.8" stop-color="#00e"/><stop offset="0.9" stop-color="#00e"/><stop offset="0.9" stop-color="#00d"/><stop offset="1" stop-color="#00d"/></linearGradient><linearGradient id="s296" x2="0" y2="1"><stop offset="0" stop-color="#00b"/><stop offset="0.2" stop-color="#00a"/><stop offset="0.3" stop-color="#009"/><stop offset="0.4" stop-color="#009"/><stop offset="0.6" stop-color="#00b"/><stop offset="0.7" stop-color="#00b"/><stop offset="0.8" stop-color="#00e"/><stop offset="0.8" stop-color="#02f"/><stop offset="0.8" stop-color="#06f"/><stop offset="0.9" stop-color="#06f"/><stop offset="0.9" stop-color="#08f"/><stop offset="1" stop-color="#08f"/></linearGradient><linearGradient id="s297" x2="0" y2="1"><stop offset="0" stop-color="#00a"/><stop offset="0.2" stop-color="#00a"/><stop offset="0.3" stop-color="#00a"/><stop offset="0.4" stop-color="#009"/><stop offset="0.6" stop-color="#009"/><stop offset="0.7" stop-color="#00a"/><stop offset="0.8" stop-color="#00b"/><stop offset="0.8" stop-color="#009"/><stop offset="0.8" stop-color="#01f"/><stop offset="0.9" stop-color="#01f"/><stop offset="0.9" stop-color="#02f"/><stop offset="1" stop-color="#02f"/></linearGradient><linearGradient id="s298" x2="0" y2="1"><stop offset="0" stop-color="#00b"/><stop offset="0.2" stop-color="#00b"/><stop offset="0.3" stop-color="#00a"/><stop offset="0.4" stop-color="#009"/><stop offset="0.6" stop-color="#00b"/><stop offset="0.7" stop-color="#00b"/><stop offset="0.8" stop-color="#00d"/><stop offset="0.8" stop-color="#07f"/><stop offset="0.8" stop-color="#0bf"/><stop offset="0.9" stop-color="#0bf"/><stop offset="0.9" stop-color="#0cf"/><stop offset="1" stop-color="#0cf"/></linearGradient><linearGradient id="s299" x2="0" y2="1"><stop offset="0" stop-color="#009"/><stop offset="0.2" stop-color="#009"/><stop offset="0.3" stop-color="#00a"/><stop offset="0.4" stop-color="#00a"/><stop offset="0.6" stop-color="#00a"/><stop offset="0.7" stop-color="#009"/><stop offset="0.8" stop-color="#00a"/><stop offset="0.8" stop-color="#00d"/><stop offset="0.8" stop-color="#00f"/><stop offset="0.9" stop-color="#00f"/><stop offset="0.9" stop-color="#01f"/><stop offset="1" stop-color="#01f"/></linearGradient><linearGradient id="s300" x2="0" y2="1"><stop offset="0" stop-color="#009"/><stop offset="0.2" stop-color="#009"/><stop offset="0.3" stop-color="#009"/><stop offset="0.4" stop-color="#00b"/><stop offset="0.6" stop-color="#00b"/><stop offset="0.7" stop-color="#00a"/><stop offset="0.8" stop-color="#00a"/><stop offset="0.8" stop-color="#00d"/><stop offset="0.8" stop-color="#01f"/><stop offset="0.9" stop-color="#01f"/><stop offset="0.9" stop-color="#01f"/><stop offset="1" stop-color="#01f"/></linearGradient><linearGradient id="s301" x2="0" y2="1"><stop offset="0" stop-color="#009"/><stop offset="0.2" stop-color="#00b"/><stop offset="0.3" stop-color="#009"/><stop offset="0.4" stop-color="#00a"/><stop offset="0.6" stop-color="#00b"/><stop offset="0.7" stop-color="#00d"/><stop offset="0.8" stop-color="#01f"/><stop offset="0.8" stop-color="#03f"/><stop offset="0.8" stop-color="#06f"/><stop offset="0.9" stop-color="#06f"/><stop offset="0.9" stop-color="#09f"/><stop offset="1" stop-color="#09f"/></linearGradient><linearGradient id="s302" x2="0" y2="1"><stop offset="0" stop-color="#00a"/><stop offset="0.2" stop-color="#009"/><stop offset="0.3" stop-color="#00d"/><stop offset="0.4" stop-color="#00f"/><stop offset="0.6" stop-color="#01f"/><stop offset="0.7" stop-color="#05f"/><stop offset="0.8" stop-color="#08f"/><stop offset="0.8" stop-color="#0af"/><stop offset="0.8" stop-color="#0df"/><stop offset="0.9" stop-color="#0df"/><stop offset="0.9" stop-color="#0cf"/><stop offset="1" stop-color="#0cf"/></linearGradient><linearGradient id="s303" x2="0" y2="1"><stop offset="0" stop-color="#009"/><stop offset="0.2" stop-color="#00b"/><stop offset="0.3" stop-color="#00a"/><stop offset="0.4" stop-color="#009"/><stop offset="0.6" stop-color="#009"/><stop offset="0.7" stop-color="#00a"/><stop offset="0.8" stop-color="#00c"/><stop offset="0.8" stop-color="#00d"/><stop offset="0.8" stop-color="#00d"/><stop offset="0.9" stop-color="#00d"/><stop offset="0.9" stop-color="#00d"/><stop offset="1" stop-color="#00d"/></linearGradient><linearGradient id="s304" x2="0" y2="1"><stop offset="0" stop-color="#00b"/><stop offset="0.2" stop-color="#00a"/><stop offset="0.3" stop-color="#009"/><stop offset="0.4" stop-color="#00a"/><stop offset="0.6" stop-color="#00b"/><stop offset="0.7" stop-color="#00a"/><stop offset="0.8" stop-color="#00b"/><stop offset="0.8" stop-color="#00e"/><stop offset="0.8" stop-color="#01f"/><stop offset="0.9" stop-color="#01f"/><stop offset="0.9" stop-color="#01f"/><stop offset="1" stop-color="#01f"/></linearGradient><linearGradient id="s305" x2="0" y2="1"><stop offset="0" stop-color="#009"/><stop offset="0.2" stop-color="#009"/><stop offset="0.3" stop-color="#00a"/><stop offset="0.4" stop-color="#00b"/><stop offset="0.6" stop-color="#00a"/><stop offset="0.7" stop-color="#009"/><stop offset="0.8" stop-color="#00a"/><stop offset="0.8" stop-color="#00d"/><stop offset="0.8" stop-color="#00d"/><stop offset="0.9" stop-color="#00d"/><stop offset="0.9" stop-color="#00e"/><stop offset="1" stop-color="#00e"/></linearGradient><linearGradient id="s306" x2="0" y2="1"><stop offset="0" stop-color="#009"/><stop offset="0.2" stop-color="#009"/><stop offset="0.3" stop-color="#009"/><stop offset="0.4" stop-color="#00a"/><stop offset="0.6" stop-color="#00a"/><stop offset="0.7" stop-color="#00a"/><stop offset="0.8" stop-color="#00a"/><stop offset="0.8" stop-color="#00d"/><stop offset="0.8" stop-color="#00e"/><stop offset="0.9" stop-color="#00e"/><stop offset="0.9" stop-color="#00f"/><stop offset="1" stop-color="#00f"/></linearGradient><linearGradient id="s307" x2="0" y2="1"><stop offset="0" stop-color="#00a"/><stop offset="0.2" stop-color="#00a"/><stop offset="0.3" stop-color="#00b"/><stop offset="0.4" stop-color="#009"/><stop offset="0.6" stop-color="#009"/><stop offset="0.7" stop-color="#00a"/><stop offset="0.8" stop-color="#00a"/><stop offset="0.8" stop-color="#00c"/><stop offset="0.8" stop-color="#00f"/><stop offset="0.9" stop-color="#00f"/><stop offset="0.9" stop-color="#00f"/><stop offset="1" stop-color="#00f"/></linearGradient><linearGradient id="s308" x2="0" y2="1"><stop offset="0" stop-color="#009"/><stop offset="0.2" stop-color="#00a"/><stop offset="0.3" stop-color="#00a"/><stop offset="0.4" stop-color="#00b"/><stop offset="0.6" stop-color="#00a"/><stop offset="0.7" stop-color="#009"/><stop offset="0.8" stop-color="#00b"/><stop offset="0.8" stop-color="#00d"/><stop offset="0.8" stop-color="#01f"/><stop offset="0.9" stop-color="#01f"/><stop offset="0.9" stop-color="#03f"/><stop offset="1" stop-color="#03f"/></linearGradient><linearGradient id="s309" x2="0" y2="1"><stop offset="0" stop-color="#009"/><stop offset="0.2" stop-color="#00a"/><stop offset="0.3" stop-color="#009"/><stop offset="0.4" stop-color="#00b"/><stop offset="0.6" stop-color="#009"/><stop offset="0.7" stop-color="#009"/><stop offset="0.8" stop-color="#00b"/><stop offset="0.8" stop-color="#00e"/><stop offset="0.8" stop-color="#00e"/><stop offset="0.9" stop-color="#00e"/><stop offset="0.9" stop-color="#00f"/><stop offset="1" stop-color="#00f"/></linearGradient><linearGradient id="s310" x2="0" y2="1"><stop offset="0" stop-color="#00b"/><stop offset="0.2" stop-color="#00b"/><stop offset="0.3" stop-color="#009"/><stop offset="0.4" stop-color="#00a"/><stop offset="0.6" stop-color="#00a"/><stop offset="0.7" stop-color="#00d"/><stop offset="0.8" stop-color="#03f"/><stop offset="0.8" stop-color="#08f"/><stop offset="0.8" stop-color="#09f"/><stop offset="0.9" stop-color="#09f"/><stop offset="0.9" stop-color="#0cf"/><stop offset="1" stop-color="#0cf"/></linearGradient><linearGradient id="s311" x2="0" y2="1"><stop offset="0" stop-color="#00a"/><stop offset="0.2" stop-color="#00a"/><stop offset="0.3" stop-color="#00a"/><stop offset="0.4" stop-color="#00b"/><stop offset="0.6" stop-color="#00a"/><stop offset="0.7" stop-color="#00b"/><stop offset="0.8" stop-color="#00a"/><stop offset="0.8" stop-color="#00d"/><stop offset="0.8" stop-color="#00d"/><stop offset="0.9" stop-color="#00d"/><stop offset="0.9" stop-color="#00e"/><stop offset="1" stop-color="#00e"/></linearGradient><linearGradient id="s312" x2="0" y2="1"><stop offset="0" stop-color="#009"/><stop offset="0.2" stop-color="#009"/><stop offset="0.3" stop-color="#00b"/><stop offset="0.4" stop-color="#009"/><stop offset="0.6" stop-color="#00a"/><stop offset="0.7" stop-color="#00a"/><stop offset="0.8" stop-color="#00b"/><stop offset="0.8" stop-color="#00f"/><stop offset="0.8" stop-color="#00f"/><stop offset="0.9" stop-color="#00f"/><stop offset="0.9" stop-color="#01f"/><stop offset="1" stop-color="#01f"/></linearGradient><linearGradient id="s313" x2="0" y2="1"><stop offset="0" stop-color="#00a"/><stop offset="0.2" stop-color="#00a"/><stop offset="0.3" stop-color="#00a"/><stop offset="0.4" stop-color="#00a"/><stop offset="0.6" stop-color="#00a"/><stop offset="0.7" stop-color="#009"/><stop offset="0.8" stop-color="#00a"/><stop offset="0.8" stop-color="#00b"/><stop offset="0.8" stop-color="#00f"/><stop offset="0.9" stop-color="#00f"/><stop offset="0.9" stop-color="#00f"/><stop offset="1" stop-color="#00f"/></linearGradient><linearGradient id="s314" x2="0" y2="1"><stop offset="0" stop-color="#00a"/><stop offset="0.2" stop-color="#00b"/><stop offset="0.3" stop-color="#00b"/><stop offset="0.4" stop-color="#00b"/><stop offset="0.6" stop-color="#00b"/><stop offset="0.7" stop-color="#009"/><stop offset="0.8" stop-color="#00d"/><stop offset="0.8" stop-color="#02f"/><stop offset="0.8" stop-color="#05f"/><stop offset="0.9" stop-color="#05f"/><stop offset="0.9" stop-color="#07f"/><stop offset="1" stop-color="#07f"/></linearGradient><linearGradient id="s315" x2="0" y2="1"><stop offset="0" stop-color="#00a"/><stop offset="0.2" stop-color="#00b"/><stop offset="0.3" stop-color="#00a"/><stop offset="0.4" stop-color="#009"/><stop offset="0.6" stop-color="#00b"/><stop offset="0.7" stop-color="#00d"/><stop offset="0.8" stop-color="#00e"/><stop offset="0.8" stop-color="#02f"/><stop offset="0.8" stop-color="#06f"/><stop offset="0.9" stop-color="#06f"/><stop offset="0.9" stop-color="#04f"/><stop offset="1" stop-color="#04f"/></linearGradient><linearGradient id="s316" x2="0" y2="1"><stop offset="0" stop-color="#00a"/><stop offset="0.2" stop-color="#00a"/><stop offset="0.3" stop-color="#00a"/><stop offset="0.4" stop-color="#00a"/><stop offset="0.6" stop-color="#009"/><stop offset="0.7" stop-color="#00b"/><stop offset="0.8" stop-color="#00b"/><stop offset="0.8" stop-color="#00d"/><stop offset="0.8" stop-color="#04f"/><stop offset="0.9" stop-color="#04f"/><stop offset="0.9" stop-color="#03f"/><stop offset="1" stop-color="#03f"/></linearGradient><linearGradient id="s317" x2="0" y2="1"><stop offset="0" stop-color="#00a"/><stop offset="0.2" stop-color="#00a"/><stop offset="0.3" stop-color="#00b"/><stop offset="0.4" stop-color="#009"/><stop offset="0.6" stop-color="#00a"/><stop offset="0.7" stop-color="#00a"/><stop offset="0.8" stop-color="#00c"/><stop offset="0.8" stop-color="#00e"/><stop offset="0.8" stop-color="#00e"/><stop offset="0.9" stop-color="#00e"/><stop offset="0.9" stop-color="#00e"/><stop offset="1" stop-color="#00e"/></linearGradient><linearGradient id="s318" x2="0" y2="1"><stop offset="0" stop-color="#009"/><stop offset="0.2" stop-color="#009"/><stop offset="0.3" stop-color="#00a"/><stop offset="0.4" stop-color="#009"/><stop offset="0.6" stop-color="#00a"/><stop offset="0.7" stop-color="#009"/><stop offset="0.8" stop-color="#00a"/><stop offset="0.8" stop-color="#00b"/><stop offset="0.8" stop-color="#00d"/><stop offset="0.9" stop-color="#00d"/><stop offset="0.9" stop-color="#00e"/><stop offset="1" stop-color="#00e"/></linearGradient><linearGradient id="s319" x2="0" y2="1"><stop offset="0" stop-color="#009"/><stop offset="0.2" stop-color="#00a"/><stop offset="0.3" stop-color="#00a"/><stop offset="0.4" stop-color="#009"/><stop offset="0.6" stop-color="#00a"/><stop offset="0.7" stop-color="#00f"/><stop offset="0.8" stop-color="#03f"/><stop offset="0.8" stop-color="#07f"/><stop offset="0.8" stop-color="#0cf"/><stop offset="0.9" stop-color="#0cf"/><stop offset="0.9" stop-color="#0cf"/><stop offset="1" stop-color="#0cf"/></linearGradient><linearGradient id="s320" x2="0" y2="1"><stop offset="0" stop-color="#00a"/><stop offset="0.2" stop-color="#00b"/><stop offset="0.3" stop-color="#00a"/><stop offset="0.4" stop-color="#00a"/><stop offset="0.6" stop-color="#00a"/><stop offset="0.7" stop-color="#00b"/><stop offset="0.8" stop-color="#00b"/><stop offset="0.8" stop-color="#00e"/><stop offset="0.8" stop-color="#00f"/><stop offset="0.9" stop-color="#00f"/><stop offset="0.9" stop-color="#00e"/><stop offset="1" stop-color="#00e"/></linearGradient><linearGradient id="s321" x2="0" y2="1"><stop offset="0" stop-color="#00b"/><stop offset="0.2" stop-color="#009"/><stop offset="0.3" stop-color="#00a"/><stop offset="0.4" stop-color="#00b"/><stop offset="0.6" stop-color="#009"/><stop offset="0.7" stop-color="#00a"/><stop offset="0.8" stop-color="#00a"/><stop offset="0.8" stop-color="#00c"/><stop offset="0.8" stop-color="#00e"/><stop offset="0.9" stop-color="#00e"/><stop offset="0.9" stop-color="#00f"/><stop offset="1" stop-color="#00f"/></linearGradient><linearGradient id="s322" x2="0" y2="1"><stop offset="0" stop-color="#009"/><stop offset="0.2" stop-color="#009"/><stop offset="0.3" stop-color="#009"/><stop offset="0.4" stop-color="#00a"/><stop offset="0.6" stop-color="#00b"/><stop offset="0.7" stop-color="#009"/><stop offset="0.8" stop-color="#00a"/><stop offset="0.8" stop-color="#00c"/><stop offset="0.8" stop-color="#01f"/><stop offset="0.9" stop-color="#01f"/><stop offset="0.9" stop-color="#00f"/><stop offset="1" stop-color="#00f"/></linearGradient><linearGradient id="s323" x2="0" y2="1"><stop offset="0" stop-color="#00b"/><stop offset="0.2" stop-color="#00b"/><stop offset="0.3" stop-color="#00b"/><stop offset="0.4" stop-color="#00b"/><stop offset="0.6" stop-color="#00a"/><stop offset="0.7" stop-color="#00b"/><stop offset="0.8" stop-color="#00c"/><stop offset="0.8" stop-color="#00d"/><stop offset="0.8" stop-color="#00f"/><stop offset="0.9" stop-color="#00f"/><stop offset="0.9" stop-color="#00e"/><stop offset="1" stop-color="#00e"/></linearGradient><linearGradient id="s324" x2="0" y2="1"><stop offset="0" stop-color="#009"/><stop offset="0.2" stop-color="#00a"/><stop offset="0.3" stop-color="#00a"/><stop offset="0.4" stop-color="#00a"/><stop offset="0.6" stop-color="#009"/><stop offset="0.7" stop-color="#00a"/><stop offset="0.8" stop-color="#009"/><stop offset="0.8" stop-color="#00a"/><stop offset="0.8" stop-color="#00d"/><stop offset="0.9" stop-color="#00d"/><stop offset="0.9" stop-color="#00e"/><stop offset="1" stop-color="#00e"/></linearGradient><linearGradient id="s325" x2="0" y2="1"><stop offset="0" stop-color="#00a"/><stop offset="0.2" stop-color="#009"/><stop offset="0.3" stop-color="#009"/><stop offset="0.4" stop-color="#009"/><stop offset="0.6" stop-color="#00b"/><stop offset="0.7" stop-color="#009"/><stop offset="0.8" stop-color="#00a"/><stop offset="0.8" stop-color="#00d"/><stop offset="0.8" stop-color="#01f"/><stop offset="0.9" stop-color="#01f"/><stop offset="0.9" stop-color="#00f"/><stop offset="1" stop-color="#00f"/></linearGradient><linearGradient id="s326" x2="0" y2="1"><stop offset="0" stop-color="#009"/><stop offset="0.2" stop-color="#00a"/><stop offset="0.3" stop-color="#00a"/><stop offset="0.4" stop-color="#00a"/><stop offset="0.6" stop-color="#00a"/><stop offset="0.7" stop-color="#00a"/><stop offset="0.8" stop-color="#00a"/><stop offset="0.8" stop-color="#00d"/><stop offset="0.8" stop-color="#00f"/><stop offset="0.9" stop-color="#00f"/><stop offset="0.9" stop-color="#00f"/><stop offset="1" stop-color="#00f"/></linearGradient><linearGradient id="s327" x2="0" y2="1"><stop offset="0" stop-color="#00a"/><stop offset="0.2" stop-color="#00a"/><stop offset="0.3" stop-color="#00a"/><stop offset="0.4" stop-color="#00b"/><stop offset="0.6" stop-color="#00b"/><stop offset="0.7" stop-color="#00d"/><stop offset="0.8" stop-color="#01f"/><stop offset="0.8" stop-color="#03f"/><stop offset="0.8" stop-color="#05f"/><stop offset="0.9" stop-color="#05f"/><stop offset="0.9" stop-color="#06f"/><stop offset="1" stop-color="#06f"/></linearGradient><linearGradient id="s328" x2="0" y2="1"><stop offset="0" stop-color="#009"/><stop offset="0.2" stop-color="#009"/><stop offset="0.3" stop-color="#00b"/><stop offset="0.4" stop-color="#00b"/><stop offset="0.6" stop-color="#00a"/><stop offset="0.7" stop-color="#009"/><stop offset="0.8" stop-color="#00a"/><stop offset="0.8" stop-color="#00c"/><stop offset="0.8" stop-color="#03f"/><stop offset="0.9" stop-color="#03f"/><stop offset="0.9" stop-color="#02f"/><stop offset="1" stop-color="#02f"/></linearGradient><linearGradient id="s329" x2="0" y2="1"><stop offset="0" stop-color="#00a"/><stop offset="0.2" stop-color="#00b"/><stop offset="0.3" stop-color="#00b"/><stop offset="0.4" stop-color="#00a"/><stop offset="0.6" stop-color="#00b"/><stop offset="0.7" stop-color="#00a"/><stop offset="0.8" stop-color="#00a"/><stop offset="0.8" stop-color="#00a"/><stop offset="0.8" stop-color="#00f"/><stop offset="0.9" stop-color="#00f"/><stop offset="0.9" stop-color="#01f"/><stop offset="1" stop-color="#01f"/></linearGradient><linearGradient id="s330" x2="0" y2="1"><stop offset="0" stop-color="#00a"/><stop offset="0.2" stop-color="#009"/><stop offset="0.3" stop-color="#00a"/><stop offset="0.4" stop-color="#00c"/><stop offset="0.6" stop-color="#00e"/><stop offset="0.7" stop-color="#02f"/><stop offset="0.8" stop-color="#04f"/><stop offset="0.8" stop-color="#05f"/><stop offset="0.8" stop-color="#09f"/><stop offset="0.9" stop-color="#09f"/><stop offset="0.9" stop-color="#08f"/><stop offset="1" stop-color="#08f"/></linearGradient><linearGradient id="s331" x2="0" y2="1"><stop offset="0" stop-color="#009"/><stop offset="0.2" stop-color="#009"/><stop offset="0.3" stop-color="#009"/><stop offset="0.4" stop-color="#00b"/><stop offset="0.6" stop-color="#00c"/><stop offset="0.7" stop-color="#00e"/><stop offset="0.8" stop-color="#01f"/><stop offset="0.8" stop-color="#03f"/><stop offset="0.8" stop-color="#08f"/><stop offset="0.9" stop-color="#08f"/><stop offset="0.9" stop-color="#0af"/><stop offset="1" stop-color="#0af"/></linearGradient><linearGradient id="s332" x2="0" y2="1"><stop offset="0" stop-color="#00a"/><stop offset="0.2" stop-color="#00b"/><stop offset="0.3" stop-color="#00b"/><stop offset="0.4" stop-color="#00a"/><stop offset="0.6" stop-color="#009"/><stop offset="0.7" stop-color="#00a"/><stop offset="0.8" stop-color="#00b"/><stop offset="0.8" stop-color="#00b"/><stop offset="0.8" stop-color="#00d"/><stop offset="0.9" stop-color="#00d"/><stop offset="0.9" stop-color="#00e"/><stop offset="1" stop-color="#00e"/></linearGradient><linearGradient id="s333" x2="0" y2="1"><stop offset="0" stop-color="#00b"/><stop offset="0.2" stop-color="#00a"/><stop offset="0.3" stop-color="#009"/><stop offset="0.4" stop-color="#00a"/><stop offset="0.6" stop-color="#009"/><stop offset="0.7" stop-color="#00d"/><stop offset="0.8" stop-color="#04f"/><stop offset="0.8" stop-color="#09f"/><stop offset="0.8" stop-color="#0cf"/><stop offset="0.9" stop-color="#0cf"/><stop offset="0.9" stop-color="#0af"/><stop offset="1" stop-color="#0af"/></linearGradient><linearGradient id="s334" x2="0" y2="1"><stop offset="0" stop-color="#00b"/><stop offset="0.2" stop-color="#00b"/><stop offset="0.3" stop-color="#00a"/><stop offset="0.4" stop-color="#00a"/><stop offset="0.6" stop-color="#00a"/><stop offset="0.7" stop-color="#00a"/><stop offset="0.8" stop-color="#00b"/><stop offset="0.8" stop-color="#00b"/><stop offset="0.8" stop-color="#01f"/><stop offset="0.9" stop-color="#01f"/><stop offset="0.9" stop-color="#00f"/><stop offset="1" stop-color="#00f"/></linearGradient><linearGradient id="s335" x2="0" y2="1"><stop offset="0" stop-color="#00b"/><stop offset="0.2" stop-color="#00a"/><stop offset="0.3" stop-color="#00b"/><stop offset="0.4" stop-color="#00b"/><stop offset="0.6" stop-color="#00c"/><stop offset="0.7" stop-color="#00f"/><stop offset="0.8" stop-color="#03f"/><stop offset="0.8" stop-color="#06f"/><stop offset="0.8" stop-color="#08f"/><stop offset="0.9" stop-color="#08f"/><stop offset="0.9" stop-color="#07f"/><stop offset="1" stop-color="#07f"/></linearGradient><linearGradient id="s336" x2="0" y2="1"><stop offset="0" stop-color="#00a"/><stop offset="0.2" stop-color="#00b"/><stop offset="0.3" stop-color="#00a"/><stop offset="0.4" stop-color="#00a"/><stop offset="0.6" stop-color="#009"/><stop offset="0.7" stop-color="#00a"/><stop offset="0.8" stop-color="#00b"/><stop offset="0.8" stop-color="#00b"/><stop offset="0.8" stop-color="#00f"/><stop offset="0.9" stop-color="#00f"/><stop offset="0.9" stop-color="#02f"/><stop offset="1" stop-color="#02f"/></linearGradient><linearGradient id="s337" x2="0" y2="1"><stop offset="0" stop-color="#00b"/><stop offset="0.2" stop-color="#00a"/><stop offset="0.3" stop-color="#009"/><stop offset="0.4" stop-color="#00a"/><stop offset="0.6" stop-color="#00a"/><stop offset="0.7" stop-color="#00a"/><stop offset="0.8" stop-color="#00a"/><stop offset="0.8" stop-color="#00a"/><stop offset="0.8" stop-color="#02f"/><stop offset="0.9" stop-color="#02f"/><stop offset="0.9" stop-color="#02f"/><stop offset="1" stop-color="#02f"/></linearGradient><linearGradient id="s338" x2="0" y2="1"><stop offset="0" stop-color="#009"/><stop offset="0.2" stop-color="#009"/><stop offset="0.3" stop-color="#00a"/><stop offset="0.4" stop-color="#009"/><stop offset="0.6" stop-color="#009"/><stop offset="0.7" stop-color="#009"/><stop offset="0.8" stop-color="#00b"/><stop offset="0.8" stop-color="#00e"/><stop offset="0.8" stop-color="#02f"/><stop offset="0.9" stop-color="#02f"/><stop offset="0.9" stop-color="#01f"/><stop offset="1" stop-color="#01f"/></linearGradient><linearGradient id="s339" x2="0" y2="1"><stop offset="0" stop-color="#009"/><stop offset="0.2" stop-color="#009"/><stop offset="0.3" stop-color="#009"/><stop offset="0.4" stop-color="#00a"/><stop offset="0.6" stop-color="#009"/><stop offset="0.7" stop-color="#009"/><stop offset="0.8" stop-color="#00a"/><stop offset="0.8" stop-color="#00b"/><stop offset="0.8" stop-color="#00d"/><stop offset="0.9" stop-color="#00d"/><stop offset="0.9" stop-color="#00e"/><stop offset="1" stop-color="#00e"/></linearGradient><linearGradient id="s340" x2="0" y2="1"><stop offset="0" stop-color="#00b"/><stop offset="0.2" stop-color="#009"/><stop offset="0.3" stop-color="#00b"/><stop offset="0.4" stop-color="#00b"/><stop offset="0.6" stop-color="#00a"/><stop offset="0.7" stop-color="#00b"/><stop offset="0.8" stop-color="#009"/><stop offset="0.8" stop-color="#00a"/><stop offset="0.8" stop-color="#00d"/><stop offset="0.9" stop-color="#00d"/><stop offset="0.9" stop-color="#00e"/><stop offset="1" stop-color="#00e"/></linearGradient><linearGradient id="s341" x2="0" y2="1"><stop offset="0" stop-color="#009"/><stop offset="0.2" stop-color="#00b"/><stop offset="0.3" stop-color="#00b"/><stop offset="0.4" stop-color="#00a"/><stop offset="0.6" stop-color="#00b"/><stop offset="0.7" stop-color="#00d"/><stop offset="0.8" stop-color="#00e"/><stop offset="0.8" stop-color="#03f"/><stop offset="0.8" stop-color="#06f"/><stop offset="0.9" stop-color="#06f"/><stop offset="0.9" stop-color="#07f"/><stop offset="1" stop-color="#07f"/></linearGradient><linearGradient id="s342" x2="0" y2="1"><stop offset="0" stop-color="#00a"/><stop offset="0.2" stop-color="#009"/><stop offset="0.3" stop-color="#00a"/><stop offset="0.4" stop-color="#00b"/><stop offset="0.6" stop-color="#009"/><stop offset="0.7" stop-color="#009"/><stop offset="0.8" stop-color="#00b"/><stop offset="0.8" stop-color="#00e"/><stop offset="0.8" stop-color="#00f"/><stop offset="0.9" stop-color="#00f"/><stop offset="0.9" stop-color="#00e"/><stop offset="1" stop-color="#00e"/></linearGradient><linearGradient id="s343" x2="0" y2="1"><stop offset="0" stop-color="#009"/><stop offset="0.2" stop-color="#009"/><stop offset="0.3" stop-color="#00b"/><stop offset="0.4" stop-color="#00d"/><stop offset="0.6" stop-color="#00e"/><stop offset="0.7" stop-color="#01f"/><stop offset="0.8" stop-color="#03f"/><stop offset="0.8" stop-color="#05f"/><stop offset="0.8" stop-color="#0bf"/><stop offset="0.9" stop-color="#0bf"/><stop offset="0.9" stop-color="#0af"/><stop offset="1" stop-color="#0af"/></linearGradient><linearGradient id="s344" x2="0" y2="1"><stop offset="0" stop-color="#00a"/><stop offset="0.2" stop-color="#00a"/><stop offset="0.3" stop-color="#009"/><stop offset="0.4" stop-color="#00a"/><stop offset="0.6" stop-color="#009"/><stop offset="0.7" stop-color="#00a"/><stop offset="0.8" stop-color="#00c"/><stop offset="0.8" stop-color="#00d"/><stop offset="0.8" stop-color="#04f"/><stop offset="0.9" stop-color="#04f"/><stop offset="0.9" stop-color="#03f"/><stop offset="1" stop-color="#03f"/></linearGradient><linearGradient id="s345" x2="0" y2="1"><stop offset="0" stop-color="#00a"/><stop offset="0.2" stop-color="#009"/><stop offset="0.3" stop-color="#00b"/><stop offset="0.4" stop-color="#00b"/><stop offset="0.6" stop-color="#009"/><stop offset="0.7" stop-color="#009"/><stop offset="0.8" stop-color="#00a"/><stop offset="0.8" stop-color="#00d"/><stop offset="0.8" stop-color="#00d"/><stop offset="0.9" stop-color="#00d"/><stop offset="0.9" stop-color="#00e"/><stop offset="1" stop-color="#00e"/></linearGradient></defs>
<g shape-rendering="crispEdges"><rect x="735" y="970" width="2" height="152" fill="url(#s0)"/><rect x="737" y="970" width="2" height="152" fill="url(#s1)"/><rect x="739" y="970" width="2" height="152" fill="url(#s2)"/><rect x="741" y="970" width="2" height="152" fill="url(#s3)"/><rect x="743" y="970" width="2" height="152" fill="url(#s4)"/><rect x="745" y="970" width="2" height="152" fill="url(#s5)"/><rect x="747" y="970" width="2" height="152" fill="url(#s6)"/><rect x="749" y="970" width="2" height="152" fill="url(#s7)"/><rect x="751" y="970" width="2" height="152" fill="url(#s8)"/><rect x="753" y="970" width="2" height="152" fill="url(#s9)"/><rect x="755" y="970" width="2" height="152" fill="url(#s10)"/><rect x="757" y="970" width="2" height="152" fill="url(#s11)"/><rect x="759" y="970" width="2" height="152" fill="url(#s12)"/><rect x="761" y="970" width="2" height="152" fill="url(#s13)"/><rect x="763" y="970" width="2" height="152" fill="url(#s14)"/><rect x="765" y="970" width="2" height="152" fill="url(#s15)"/><rect x="767" y="970" width="2" height="152" fill="url(#s16)"/><rect x="769" y="970" width="2" height="152" fill="url(#s17)"/><rect x="771" y="970" width="2" height="152" fill="url(#s18)"/><rect x="773" y="970" width="2" height="152" fill="url(#s19)"/><rect x="775" y="970" width="2" height="152" fill="url(#s20)"/><rect x="777" y="970" width="2" height="152" fill="url(#s21)"/><rect x="779" y="970" width="2" height="152" fill="url(#s22)"/><rect x="781" y="970" width="2" height="152" fill="url(#s23)"/><rect x="783" y="970" width="2" height="152" fill="url(#s24)"/><rect x="785" y="970" width="2" height="152" fill="url(#s25)"/><rect x="787" y="970" width="2" height="152" fill="url(#s26)"/><rect x="789" y="970" width="2" height="152" fill="url(#s27)"/><rect x="791" y="970" width="2" height="152" fill="url(#s28)"/><rect x="793" y="970" width="2" height="152" fill="url(#s29)"/><rect x="795" y="970" width="2" height="152" fill="url(#s30)"/><rect x="797" y="970" width="2" height="152" fill="url(#s31)"/><rect x="799" y="970" width="2" height="152" fill="url(#s32)"/><rect x="801" y="970" width="2" height="152" fill="url(#s33)"/><rect x="803" y="970" width="2" height="152" fill="url(#s34)"/><rect x="805" y="970" width="2" height="152" fill="url(#s35)"/><rect x="807" y="970" width="2" height="152" fill="url(#s36)"/><rect x="809" y="970" width="2" height="152" fill="url(#s37)"/><rect x="811" y="970" width="2" height="152" fill="url(#s38)"/><rect x="813" y="970" width="2" height="152" fill="url(#s39)"/><rect x="815" y="970" width="2" height="152" fill="url(#s40)"/><rect x="817" y="970" width="2" height="152" fill="url(#s41)"/><rect x="819" y="970" width="2" height="152" fill="url(#s42)"/><rect x="821" y="970" width="2" height="152" fill="url(#s43)"/><rect x="823" y="970" width="2" height="152" fill="url(#s44)"/><rect x="825" y="970" width="2" height="152" fill="url(#s45)"/><rect x="827" y="970" width="2" height="152" fill="url(#s46)"/><rect x="829" y="970" width="2" height="152" fill="url(#s47)"/><rect x="831" y="970" width="2" height="152" fill="url(#s48)"/><rect x="833" y="970" width="2" height="152" fill="url(#s49)"/><rect x="835" y="970" width="2" height="152" fill="url(#s50)"/><rect x="837" y="970" width="2" height="152" fill="url(#s51)"/><rect x="839" y="970" width="2" height="152" fill="url(#s52)"/><rect x="841" y="970" width="2" height="152" fill="url(#s53)"/><rect x="843" y="970" width="2" height="152" fill="url(#s54)"/><rect x="845" y="970" width="2" height="152" fill="url(#s55)"/><rect x="847" y="970" width="2" height="152" fill="url(#s56)"/><rect x="849" y="970" width="2" height="152" fill="url(#s57)"/><rect x="851" y="970" width="2" height="152" fill="url(#s58)"/><rect x="853" y="970" width="2" height="152" fill="url(#s59)"/><rect x="855" y="970" width="2" height="152" fill="url(#s60)"/><rect x="857" y="970" width="2" height="152" fill="url(#s61)"/><rect x="859" y="970" width="2" height="152" fill="url(#s62)"/><rect x="861" y="970" width="2" height="152" fill="url(#s63)"/><rect x="863" y="970" width="2" height="152" fill="url(#s64)"/><rect x="865" y="970" width="2" height="152" fill="url(#s65)"/><rect x="867" y="970" width="2" height="152" fill="url(#s66)"/><rect x="869" y="970" width="2" height="152" fill="url(#s67)"/><rect x="871" y="970" width="2" height="152" fill="url(#s68)"/><rect x="873" y="970" width="2" height="152" fill="url(#s69)"/><rect x="875" y="970" width="2" height="152" fill="url(#s70)"/><rect x="877" y="970" width="2" height="152" fill="url(#s71)"/><rect x="879" y="970" width="2" height="152" fill="url(#s72)"/><rect x="881" y="970" width="2" height="152" fill="url(#s73)"/><rect x="883" y="970" width="2" height="152" fill="url(#s74)"/><rect x="885" y="970" width="2" height="152" fill="url(#s75)"/><rect x="887" y="970" width="2" height="152" fill="url(#s76)"/><rect x="889" y="970" width="2" height="152" fill="url(#s77)"/><rect x="891" y="970" width="2" height="152" fill="url(#s78)"/><rect x="893" y="970" width="2" height="152" fill="url(#s79)"/><rect x="895" y="970" width="2" height="152" fill="url(#s80)"/><rect x="897" y="970" width="2" height="152" fill="url(#s81)"/><rect x="899" y="970" width="2" height="152" fill="url(#s82)"/><rect x="901" y="970" width="2" height="152" fill="url(#s83)"/><rect x="903" y="970" width="2" height="152" fill="url(#s84)"/><rect x="905" y="970" width="2" height="152" fill="url(#s85)"/><rect x="907" y="970" width="2" height="152" fill="url(#s86)"/><rect x="909" y="970" width="2" height="152" fill="url(#s87)"/><rect x="911" y="970" width="2" height="152" fill="url(#s88)"/><rect x="913" y="970" width="2" height="152" fill="url(#s89)"/><rect x="915" y="970" width="2" height="152" fill="url(#s90)"/><rect x="917" y="970" width="2" height="152" fill="url(#s91)"/><rect x="919" y="970" width="2" height="152" fill="url(#s92)"/><rect x="921" y="970" width="2" height="152" fill="url(#s93)"/><rect x="923" y="970" width="2" height="152" fill="url(#s94)"/><rect x="925" y="970" width="2" height="152" fill="url(#s95)"/><rect x="927" y="970" width="2" height="152" fill="url(#s96)"/><rect x="929" y="970" width="2" height="152" fill="url(#s97)"/><rect x="931" y="970" width="2" height="152" fill="url(#s98)"/><rect x="933" y="970" width="2" height="152" fill="url(#s99)"/><rect x="935" y="970" width="2" height="152" fill="url(#s100)"/><rect x="937" y="970" width="2" height="152" fill="url(#s101)"/><rect x="939" y="970" width="2" height="152" fill="url(#s102)"/><rect x="941" y="970" width="2" height="152" fill="url(#s103)"/><rect x="943" y="970" width="2" height="152" fill="url(#s104)"/><rect x="945" y="970" width="2" height="152" fill="url(#s105)"/><rect x="947" y="970" width="2" height="152" fill="url(#s106)"/><rect x="949" y="970" width="2" height="152" fill="url(#s107)"/><rect x="951" y="970" width="2" height="152" fill="url(#s108)"/><rect x="953" y="970" width="2" height="152" fill="url(#s109)"/><rect x="955" y="970" width="2" height="152" fill="url(#s110)"/><rect x="957" y="970" width="2" height="152" fill="url(#s111)"/><rect x="959" y="970" width="2" height="152" fill="url(#s112)"/><rect x="961" y="970" width="2" height="152" fill="url(#s113)"/><rect x="963" y="970" width="2" height="152" fill="url(#s114)"/><rect x="965" y="970" width="2" height="152" fill="url(#s115)"/><rect x="967" y="970" width="2" height="152" fill="url(#s116)"/><rect x="969" y="970" width="2" height="152" fill="url(#s117)"/><rect x="971" y="970" width="2" height="152" fill="url(#s118)"/><rect x="973" y="970" width="2" height="152" fill="url(#s119)"/><rect x="975" y="970" width="2" height="152" fill="url(#s120)"/><rect x="977" y="970" width="2" height="152" fill="url(#s121)"/><rect x="979" y="970" width="2" height="152" fill="url(#s122)"/><rect x="981" y="970" width="2" height="152" fill="url(#s123)"/><rect x="983" y="970" width="2" height="152" fill="url(#s124)"/><rect x="985" y="970" width="2" height="152" fill="url(#s125)"/><rect x="987" y="970" width="2" height="152" fill="url(#s126)"/><rect x="989" y="970" width="2" height="152" fill="url(#s127)"/><rect x="991" y="970" width="2" height="152" fill="url(#s128)"/><rect x="993" y="970" width="2" height="152" fill="url(#s129)"/><rect x="995" y="970" width="2" height="152" fill="url(#s130)"/><rect x="997" y="970" width="2" height="152" fill="url(#s131)"/><rect x="999" y="970" width="2" height="152" fill="url(#s132)"/><rect x="1001" y="970" width="2" height="152" fill="url(#s133)"/><rect x="1003" y="970" width="2" height="152" fill="url(#s134)"/><rect x="1005" y="970" width="2" height="152" fill="url(#s135)"/><rect x="1007" y="970" width="2" height="152" fill="url(#s136)"/><rect x="1009" y="970" width="2" height="152" fill="url(#s137)"/><rect x="1011" y="970" width="2" height="152" fill="url(#s138)"/><rect x="1013" y="970" width="2" height="152" fill="url(#s139)"/><rect x="1015" y="970" width="2" height="152" fill="url(#s140)"/><rect x="1017" y="970" width="2" height="152" fill="url(#s141)"/><rect x="1019" y="970" width="2" height="152" fill="url(#s142)"/><rect x="1021" y="970" width="2" height="152" fill="url(#s143)"/><rect x="1023" y="970" width="2" height="152" fill="url(#s144)"/><rect x="1025" y="970" width="2" height="152" fill="url(#s145)"/><rect x="1027" y="970" width="2" height="152" fill="url(#s146)"/><rect x="1029" y="970" width="2" height="152" fill="url(#s147)"/><rect x="1031" y="970" width="2" height="152" fill="url(#s148)"/><rect x="1033" y="970" width="2" height="152" fill="url(#s149)"/><rect x="1035" y="970" width="2" height="152" fill="url(#s150)"/><rect x="1037" y="970" width="2" height="152" fill="url(#s151)"/><rect x="1039" y="970" width="2" height="152" fill="url(#s152)"/><rect x="1041" y="970" width="2" height="152" fill="url(#s153)"/><rect x="1043" y="970" width="2" height="152" fill="url(#s154)"/><rect x="1045" y="970" width="2" height="152" fill="url(#s155)"/><rect x="1047" y="970" width="2" height="152" fill="url(#s156)"/><rect x="1049" y="970" width="2" height="152" fill="url(#s157)"/><rect x="1051" y="970" width="2" height="152" fill="url(#s158)"/><rect x="1053" y="970" width="2" height="152" fill="url(#s159)"/><rect x="1055" y="970" width="2" height="152" fill="url(#s160)"/><rect x="1057" y="970" width="2" height="152" fill="url(#s161)"/><rect x="1059" y="970" width="2" height="152" fill="url(#s162)"/><rect x="1061" y="970" width="2" height="152" fill="url(#s163)"/><rect x="1063" y="970" width="2" height="152" fill="url(#s164)"/><rect x="1065" y="970" width="2" height="152" fill="url(#s165)"/><rect x="1067" y="970" width="2" height="152" fill="url(#s166)"/><rect x="1069" y="970" width="2" height="152" fill="url(#s167)"/><rect x="1071" y="970" width="2" height="152" fill="url(#s168)"/><rect x="1073" y="970" width="2" height="152" fill="url(#s169)"/><rect x="1075" y="970" width="2" height="152" fill="url(#s170)"/><rect x="1077" y="970" width="2" height="152" fill="url(#s171)"/><rect x="1079" y="970" width="2" height="152" fill="url(#s172)"/><rect x="1081" y="970" width="2" height="152" fill="url(#s173)"/><rect x="1083" y="970" width="2" height="152" fill="url(#s174)"/><rect x="1085" y="970" width="2" height="152" fill="url(#s175)"/><rect x="1087" y="970" width="2" height="152" fill="url(#s176)"/><rect x="1089" y="970" width="2" height="152" fill="url(#s177)"/><rect x="1091" y="970" width="2" height="152" fill="url(#s178)"/><rect x="1093" y="970" width="2" height="152" fill="url(#s179)"/><rect x="1095" y="970" width="2" height="152" fill="url(#s180)"/><rect x="1097" y="970" width="2" height="152" fill="url(#s181)"/><rect x="1099" y="970" width="2" height="152" fill="url(#s182)"/><rect x="1101" y="970" width="2" height="152" fill="url(#s183)"/><rect x="1103" y="970" width="2" height="152" fill="url(#s184)"/><rect x="1105" y="970" width="2" height="152" fill="url(#s185)"/><rect x="1107" y="970" width="2" height="152" fill="url(#s186)"/><rect x="1109" y="970" width="2" height="152" fill="url(#s187)"/><rect x="1111" y="970" width="2" height="152" fill="url(#s188)"/><rect x="1113" y="970" width="2" height="152" fill="url(#s189)"/><rect x="1115" y="970" width="2" height="152" fill="url(#s190)"/><rect x="1117" y="970" width="2" height="152" fill="url(#s191)"/><rect x="1119" y="970" width="2" height="152" fill="url(#s192)"/><rect x="1121" y="970" width="2" height="152" fill="url(#s193)"/><rect x="1123" y="970" width="2" height="152" fill="url(#s194)"/><rect x="1125" y="970" width="2" height="152" fill="url(#s195)"/><rect x="1127" y="970" width="2" height="152" fill="url(#s196)"/><rect x="1129" y="970" width="2" height="152" fill="url(#s197)"/><rect x="1131" y="970" width="2" height="152" fill="url(#s198)"/><rect x="1133" y="970" width="2" height="152" fill="url(#s199)"/><rect x="1135" y="970" width="2" height="152" fill="url(#s200)"/><rect x="1137" y="970" width="2" height="152" fill="url(#s201)"/><rect x="1139" y="970" width="2" height="152" fill="url(#s202)"/><rect x="1141" y="970" width="2" height="152" fill="url(#s203)"/><rect x="1143" y="970" width="2" height="152" fill="url(#s204)"/><rect x="1145" y="970" width="2" height="152" fill="url(#s205)"/><rect x="1147" y="970" width="2" height="152" fill="url(#s206)"/><rect x="1149" y="970" width="2" height="152" fill="url(#s207)"/><rect x="1151" y="970" width="2" height="152" fill="url(#s208)"/><rect x="1153" y="970" width="2" height="152" fill="url(#s209)"/><rect x="1155" y="970" width="2" height="152" fill="url(#s210)"/><rect x="1157" y="970" width="2" height="152" fill="url(#s211)"/><rect x="1159" y="970" width="2" height="152" fill="url(#s212)"/><rect x="1161" y="970" width="2" height="152" fill="url(#s213)"/><rect x="1163" y="970" width="2" height="152" fill="url(#s214)"/><rect x="1165" y="970" width="2" height="152" fill="url(#s215)"/><rect x="1167" y="970" width="2" height="152" fill="url(#s216)"/><rect x="1169" y="970" width="2" height="152" fill="url(#s217)"/><rect x="1171" y="970" width="2" height="152" fill="url(#s218)"/><rect x="1173" y="970" width="2" height="152" fill="url(#s219)"/><rect x="1175" y="970" width="2" height="152" fill="url(#s220)"/><rect x="1177" y="970" width="2" height="152" fill="url(#s221)"/><rect x="1179" y="970" width="2" height="152" fill="url(#s222)"/><rect x="1181" y="970" width="2" height="152" fill="url(#s223)"/><rect x="1183" y="970" width="2" height="152" fill="url(#s224)"/><rect x="1185" y="970" width="2" height="152" fill="url(#s225)"/><rect x="1187" y="970" width="2" height="152" fill="url(#s226)"/><rect x="1189" y="970" width="2" height="152" fill="url(#s227)"/><rect x="1191" y="970" width="2" height="152" fill="url(#s228)"/><rect x="1193" y="970" width="2" height="152" fill="url(#s229)"/><rect x="1195" y="970" width="2" height="152" fill="url(#s230)"/><rect x="1197" y="970" width="2" height="152" fill="url(#s231)"/><rect x="1199" y="970" width="2" height="152" fill="url(#s232)"/><rect x="1201" y="970" width="2" height="152" fill="url(#s233)"/><rect x="1203" y="970" width="2" height="152" fill="url(#s234)"/><rect x="1205" y="970" width="2" height="152" fill="url(#s235)"/><rect x="1207" y="970" width="2" height="152" fill="url(#s236)"/><rect x="1209" y="970" width="2" height="152" fill="url(#s237)"/><rect x="1211" y="970" width="2" height="152" fill="url(#s238)"/><rect x="1213" y="970" width="2" height="152" fill="url(#s239)"/><rect x="1215" y="970" width="2" height="152" fill="url(#s240)"/><rect x="1217" y="970" width="2" height="152" fill="url(#s241)"/><rect x="1219" y="970" width="2" height="152" fill="url(#s242)"/><rect x="1221" y="970" width="2" height="152" fill="url(#s243)"/><rect x="1223" y="970" width="2" height="152" fill="url(#s244)"/><rect x="1225" y="970" width="2" height="152" fill="url(#s245)"/><rect x="1227" y="970" width="2" height="152" fill="url(#s246)"/><rect x="1229" y="970" width="2" height="152" fill="url(#s247)"/><rect x="1231" y="970" width="2" height="152" fill="url(#s248)"/><rect x="1233" y="970" width="2" height="152" fill="url(#s249)"/><rect x="1235" y="970" width="2" height="152" fill="url(#s250)"/><rect x="1237" y="970" width="2" height="152" fill="url(#s251)"/><rect x="1239" y="970" width="2" height="152" fill="url(#s252)"/><rect x="1241" y="970" width="2" height="152" fill="url(#s253)"/><rect x="1243" y="970" width="2" height="152" fill="url(#s254)"/><rect x="1245" y="970" width="2" height="152" fill="url(#s255)"/><rect x="1247" y="970" width="2" height="152" fill="url(#s256)"/><rect x="1249" y="970" width="2" height="152" fill="url(#s257)"/><rect x="1251" y="970" width="2" height="152" fill="url(#s258)"/><rect x="1253" y="970" width="2" height="152" fill="url(#s259)"/><rect x="1255" y="970" width="2" height="152" fill="url(#s260)"/><rect x="1257" y="970" width="2" height="152" fill="url(#s261)"/><rect x="1259" y="970" width="2" height="152" fill="url(#s262)"/><rect x="1261" y="970" width="2" height="152" fill="url(#s263)"/><rect x="1263" y="970" width="2" height="152" fill="url(#s264)"/><rect x="1265" y="970" width="2" height="152" fill="url(#s265)"/><rect x="1267" y="970" width="2" height="152" fill="url(#s266)"/><rect x="1269" y="970" width="2" height="152" fill="url(#s267)"/><rect x="1271" y="970" width="2" height="152" fill="url(#s268)"/><rect x="1273" y="970" width="2" height="152" fill="url(#s269)"/><rect x="1275" y="970" width="2" height="152" fill="url(#s270)"/><rect x="1277" y="970" width="2" height="152" fill="url(#s271)"/><rect x="1279" y="970" width="2" height="152" fill="url(#s272)"/><rect x="1281" y="970" width="2" height="152" fill="url(#s273)"/><rect x="1283" y="970" width="2" height="152" fill="url(#s274)"/><rect x="1285" y="970" width="2" height="152" fill="url(#s275)"/><rect x="1287" y="970" width="2" height="152" fill="url(#s276)"/><rect x="1289" y="970" width="2" height="152" fill="url(#s277)"/><rect x="1291" y="970" width="2" height="152" fill="url(#s278)"/><rect x="1293" y="970" width="2" height="152" fill="url(#s279)"/><rect x="1295" y="970" width="2" height="152" fill="url(#s280)"/><rect x="1297" y="970" width="2" height="152" fill="url(#s281)"/><rect x="1299" y="970" width="2" height="152" fill="url(#s282)"/><rect x="1301" y="970" width="2" height="152" fill="url(#s283)"/><rect x="1303" y="970" width="2" height="152" fill="url(#s284)"/><rect x="1305" y="970" width="2" height="152" fill="url(#s285)"/><rect x="1307" y="970" width="2" height="152" fill="url(#s286)"/><rect x="1309" y="970" width="2" height="152" fill="url(#s287)"/><rect x="1311" y="970" width="2" height="152" fill="url(#s288)"/><rect x="1313" y="970" width="2" height="152" fill="url(#s289)"/><rect x="1315" y="970" width="2" height="152" fill="url(#s290)"/><rect x="1317" y="970" width="2" height="152" fill="url(#s291)"/><rect x="1319" y="970" width="2" height="152" fill="url(#s292)"/><rect x="1321" y="970" width="2" height="152" fill="url(#s293)"/><rect x="1323" y="970" width="2" height="152" fill="url(#s294)"/><rect x="1325" y="970" width="2" height="152" fill="url(#s295)"/><rect x="1327" y="970" width="2" height="152" fill="url(#s296)"/><rect x="1329" y="970" width="2" height="152" fill="url(#s297)"/><rect x="1331" y="970" width="2" height="152" fill="url(#s298)"/><rect x="1333" y="970" width="2" height="152" fill="url(#s299)"/><rect x="1335" y="970" width="2" height="152" fill="url(#s300)"/><rect x="1337" y="970" width="2" height="152" fill="url(#s301)"/><rect x="1339" y="970" width="2" height="152" fill="url(#s302)"/><rect x="1341" y="970" width="2" height="152" fill="url(#s303)"/><rect x="1343" y="970" width="2" height="152" fill="url(#s304)"/><rect x="1345" y="970" width="2" height="152" fill="url(#s305)"/><rect x="1347" y="970" width="2" height="152" fill="url(#s306)"/><rect x="1349" y="970" width="2" height="152" fill="url(#s307)"/><rect x="1351" y="970" width="2" height="152" fill="url(#s308)"/><rect x="1353" y="970" width="2" height="152" fill="url(#s309)"/><rect x="1355" y="970" width="2" height="152" fill="url(#s310)"/><rect x="1357" y="970" width="2" height="152" fill="url(#s311)"/><rect x="1359" y="970" width="2" height="152" fill="url(#s312)"/><rect x="1361" y="970" width="2" height="152" fill="url(#s313)"/><rect x="1363" y="970" width="2" height="152" fill="url(#s314)"/><rect x="1365" y="970" width="2" height="152" fill="url(#s315)"/><rect x="1367" y="970" width="2" height="152" fill="url(#s316)"/><rect x="1369" y="970" width="2" height="152" fill="url(#s317)"/><rect x="1371" y="970" width="2" height="152" fill="url(#s318)"/><rect x="1373" y="970" width="2" height="152" fill="url(#s319)"/><rect x="1375" y="970" width="2" height="152" fill="url(#s320)"/><rect x="1377" y="970" width="2" height="152" fill="url(#s321)"/><rect x="1379" y="970" width="2" height="152" fill="url(#s322)"/><rect x="1381" y="970" width="2" height="152" fill="url(#s323)"/><rect x="1383" y="970" width="2" height="152" fill="url(#s324)"/><rect x="1385" y="970" width="2" height="152" fill="url(#s325)"/><rect x="1387" y="970" width="2" height="152" fill="url(#s326)"/><rect x="1389" y="970" width="2" height="152" fill="url(#s327)"/><rect x="1391" y="970" width="2" height="152" fill="url(#s328)"/><rect x="1393" y="970" width="2" height="152" fill="url(#s329)"/><rect x="1395" y="970" width="2" height="152" fill="url(#s330)"/><rect x="1397" y="970" width="2" height="152" fill="url(#s331)"/><rect x="1399" y="970" width="2" height="152" fill="url(#s332)"/><rect x="1401" y="970" width="2" height="152" fill="url(#s333)"/><rect x="1403" y="970" width="2" height="152" fill="url(#s334)"/><rect x="1405" y="970" width="2" height="152" fill="url(#s335)"/><rect x="1407" y="970" width="2" height="152" fill="url(#s336)"/><rect x="1409" y="970" width="2" height="152" fill="url(#s337)"/><rect x="1411" y="970" width="2" height="152" fill="url(#s338)"/><rect x="1413" y="970" width="2" height="152" fill="url(#s339)"/><rect x="1415" y="970" width="2" height="152" fill="url(#s340)"/><rect x="1417" y="970" width="2" height="152" fill="url(#s341)"/><rect x="1419" y="970" width="2" height="152" fill="url(#s342)"/><rect x="1421" y="970" width="2" height="152" fill="url(#s343)"/><rect x="1423" y="970" width="2" height="152" fill="url(#s344)"/><rect x="1425" y="970" width="2" height="152" fill="url(#s345)"/></g>
<filter id="spk" filterUnits="userSpaceOnUse" x="735" y="969" width="693" height="128"><feTurbulence type="fractalNoise" baseFrequency="0.5" numOctaves="1" seed="7"/><feColorMatrix type="matrix" values="0 0 0 0 0  0 0 0 0 0  0 0 0 0 0.58  3.5 0 0 0 -1.55"/></filter>
<rect x="735" y="969.5" width="693" height="127" filter="url(#spk)"/>
<path d="M735 999.5H1427M735 1040.5H1427" stroke="#3a5aff" stroke-width="1" stroke-dasharray="3 4 1 3 6 2 2 5" opacity="0.55"/>
<path d="M261 1097.5H1810M440.5 972V1122M620.5 972V1122M800.5 972V1122M980.5 972V1122M1162.5 972V1122M1343.5 972V1122M1629.5 972V1122" stroke="#000" stroke-width="1" stroke-dasharray="1 4" fill="none"/>
<path d="M260 975.5h7M1810.4 975.5h-7M260 980.5h7M1810.4 980.5h-7M260 984.5h7M1810.4 984.5h-7M260 987.5h7M1810.4 987.5h-7M260 990.5h7M1810.4 990.5h-7M260 993.5h7M1810.4 993.5h-7M260 995.5h15M1810.4 995.5h-15M260 1010.5h7M1810.4 1010.5h-7M260 1019.5h7M1810.4 1019.5h-7M260 1026.5h7M1810.4 1026.5h-7M260 1031.5h7M1810.4 1031.5h-7M260 1035.5h7M1810.4 1035.5h-7M260 1038.5h7M1810.4 1038.5h-7M260 1041.5h7M1810.4 1041.5h-7M260 1044.5h7M1810.4 1044.5h-7M260 1046.5h15M1810.4 1046.5h-15M260 1061.5h7M1810.4 1061.5h-7M260 1070.5h7M1810.4 1070.5h-7M260 1077.5h7M1810.4 1077.5h-7M260 1082.5h7M1810.4 1082.5h-7M260 1086.5h7M1810.4 1086.5h-7M260 1089.5h7M1810.4 1089.5h-7M260 1092.5h7M1810.4 1092.5h-7M260 1095.5h7M1810.4 1095.5h-7M260 1097.5h15M1810.4 1097.5h-15M260 1112.5h7M1810.4 1112.5h-7M440.5 969.5v16M440.5 1122v-16M620.5 969.5v16M620.5 1122v-16M800.5 969.5v16M800.5 1122v-16M980.5 969.5v16M980.5 1122v-16M1162.5 969.5v16M1162.5 1122v-16M1343.5 969.5v16M1343.5 1122v-16M1629.5 969.5v16M1629.5 1122v-16" stroke="#000" stroke-width="1.2" fill="none"/>
<rect x="260.6" y="969.5" width="1549.8" height="152.5" fill="none" stroke="#000" stroke-width="1.2"/>
<text x="204.8" y="1005.4" font-size="28" letter-spacing="0.43">10</text>
<text x="235.5" y="988.5" font-size="18">-1</text>
<text x="204.8" y="1056.4" font-size="28" letter-spacing="0.43">10</text>
<text x="237.2" y="1039.5" font-size="18">0</text>
<text x="204.8" y="1107.4" font-size="28" letter-spacing="0.43">10</text>
<text x="237.2" y="1090.5" font-size="18">1</text>
<g transform="translate(185.3 1153.4) rotate(-90)"><text x="0" y="0" font-size="28" letter-spacing="0.29">Wavelength (km)</text></g>
<path d="M262 1179.5H1810M262 1244.5H1810M262 1309.5H1810M440.5 1136V1355M620.5 1136V1355M800.5 1136V1355M980.5 1136V1355M1162.5 1136V1355M1343.5 1136V1355M1629.5 1136V1355" stroke="#000" stroke-width="1" stroke-dasharray="1 4" fill="none"/>
<path d="M260 1179.5h15M1810.4 1179.5h-16M260 1244.5h15M1810.4 1244.5h-16M260 1309.5h15M1810.4 1309.5h-16M440.5 1133.5v15M440.5 1355v-15M620.5 1133.5v15M620.5 1355v-15M800.5 1133.5v15M800.5 1355v-15M980.5 1133.5v15M980.5 1355v-15M1162.5 1133.5v15M1162.5 1355v-15M1343.5 1133.5v15M1343.5 1355v-15M1629.5 1133.5v15M1629.5 1355v-15" stroke="#000" stroke-width="1.2" fill="none"/>
<clipPath id="mc"><rect x="260.6" y="1133.5" width="1549.8" height="221.5"/></clipPath>
<path d="M310.3 1125.4 312.5 1129.3 315.1 1133.6 319 1140.6 320.3 1141 325 1149.2 326.3 1159.6 327.1 1163.5 331.9 1168.7 336.2 1176.9 340.5 1180.4 347 1185.6 350 1188.1 352.5 1190.3 352.1 1194.2 353.4 1195.5 357.7 1199.4 359.9 1199.4 366.3 1197.7 378 1195.5 384.8 1192.9 387 1193.3 387.4 1199.4 384.8 1204.2 380.5 1214.1 374.9 1222.3 369.8 1228.8 361.2 1235.7 354.3 1240.5 349.1 1246.1 342.6 1253.1 338.8 1258.2 337 1262.1 334.5 1266.5 335.3 1273.8 336.2 1279 336.2 1283.3 339.2 1289 340.5 1294.2 340.9 1305.8 341.4 1309.3 337.5 1315.8 325.4 1321.9 315.9 1330.1 317.7 1337.4 319 1343.9 318.1 1348.2 316.8 1352.6 315.9 1357.8M322.4 1129.3 326.7 1136.7 330.2 1140.1 334.5 1147.5 334.9 1151.4 338.3 1157.4 342.6 1162.2 345.2 1167.8 349.5 1171.3 350.4 1177.3 350.8 1180.4 352.5 1186.9 353.4 1189.9 359.9 1189 366.3 1186.4 372.8 1183.8 377.5 1181.7 383.6 1179.1 390.9 1176.9 398.6 1170.8 404.2 1168.2 409 1166.9 415 1162.6 415 1157.9 418.4 1156.1 423.6 1147 418.4 1142.3 410.2 1138.8 408.5 1136.7 409 1130.6 405.1 1134.1 400.3 1138.4 392.2 1139.7 388.3 1139.3 386.6 1138 384.8 1134.1 384.8 1129.7M409.4 1127.1 412.8 1131 420.2 1132.3 431.3 1132.8 434.4 1132.8 443.8 1132.8 452.9 1132.8 454.6 1137.1 456.8 1141 459.8 1141.9 462.4 1145.3 464.1 1147.5 463.2 1148.3 467.5 1153.5 471.8 1154.8 476.1 1152.7 477 1150.1 478.7 1147.9 479.6 1152.7 479.6 1157.9 479.6 1162.2 480.4 1168.7 481.7 1170.8 483.9 1177.3 485.2 1180.4 486.9 1183.8 488.2 1188.6 490.3 1193.3 492.5 1195.9 494.2 1201.1 495.9 1205.9 499.8 1209.4 502.4 1206.3 506.3 1204.2 507.6 1199.8 509.7 1199.8 510.1 1194.6 511.9 1187.7 511 1181.7 511.4 1177.3 515.7 1174.3 520.5 1172.6 524.8 1167.8 531.2 1161.3 535.6 1158.7 539.4 1156.6 540.7 1153.5 545 1150.9 548.9 1150.9 553.6 1149.2 556.2 1146.6 560.1 1146.6 561.4 1147.9 562.3 1151.8 563.5 1154.8 566.1 1157.4 569.6 1160.9 572.2 1165.2 572.2 1173.9 571.7 1175.2 576 1176 580.3 1172.1 583.8 1171.3 586.4 1173 586.4 1180.4 588.9 1183.8 590.2 1190.3 590.7 1199 590.7 1201.6 589.4 1209.8 593.3 1212.8 597.1 1216.3 598.4 1221.5 598 1221 599.7 1227.5 602.3 1232.3 605.3 1234.9 611.8 1238.8 614.8 1238.3 613.1 1234.4 611.8 1228 611.3 1224.9 607.9 1219.3 605.7 1217.6 602.3 1214.5 598.4 1211.5 597.6 1208.1 596.3 1204.2 593.3 1200.3 594.5 1195.5 596.3 1190.3 597.1 1186.4 598.9 1186 601 1189.4 605.3 1191.2 607.9 1192.5 609.6 1196.8 612.2 1199 616.1 1199.4 618.2 1204.6 617.4 1207.2 621.7 1205.9 625.5 1202 626 1199.4 629 1199 634.6 1195.9 636.3 1192.5 636.3 1186.4 635 1178.2 632 1174.7 628.1 1171.7 625.1 1168.2 622.1 1163.9 621.2 1161.8 625.1 1156.6 626 1154 630.3 1151.4 633.3 1150.9 636.3 1151.8 638.9 1151.4 640.6 1154 641.9 1156.6 641.5 1152.7 644.1 1151.4 648.4 1150.1 654 1148.3 657.8 1147.9 663 1146.2 667.7 1145.3 668.6 1143.1 672.5 1140.6 674.6 1138.4 677.2 1137.5 679.8 1134.9 681.5 1131M633.7 1160.9 635.5 1164.4 638 1165.6 641.9 1163.1 644.1 1159.6 642.8 1157.4 640.6 1157.4 636.3 1158.3 633.7 1160.9M683.2 1144.9 685.8 1149.2 687.1 1147.9 689.3 1143.6 691 1138 689.7 1134.9 687.1 1136.2 684.1 1140.6 683.2 1144.9M509.7 1202 511.4 1202 514.5 1207.6 518.3 1213.2 517.5 1216.7 513.2 1218.9 510.6 1215.8 509.7 1209.8 509.7 1202M395.6 1189.9 400.8 1190.3 397.8 1191.2 395.6 1189.9M378.4 1296.3 381 1302.8 382.7 1311.5 380.5 1315.8 378.8 1322.3 375.4 1333.1 371.9 1343.9 368.9 1352.1 366.3 1353.9 360.7 1355.2 355.6 1352.6 354.3 1346.1 352.5 1339.6 354.7 1335.3 357.3 1328.8 355.6 1320.1 357.3 1314.5 362.5 1313.2 366.3 1311.5 369.8 1307.1 372.8 1302.8 376.2 1298.5 378.4 1296.3M302.2 1245.7 308.6 1243.1 312.9 1245.3 312.5 1248.7 309.5 1253.9 305.6 1255.2 302.6 1253.1 302.2 1245.7M291.8 1258.7 293.6 1266 297 1273.8 300 1281.6 297.9 1273.8 292.3 1266 291.8 1258.7M312.5 1285.5 314.7 1294.2 315.1 1300.7 317.7 1306.3 315.9 1299.8 313.8 1293.7 312.5 1285.5M576 1220.2 579.5 1221.5 585.9 1221.9 591.1 1228 596.7 1233.1 601 1235.7 606.2 1238.3 609.6 1242.2 613.1 1248.3 616.1 1252.2 617.8 1255.2 622.1 1258.2 622.5 1263 621.7 1269.5 619.1 1269.5 616.1 1268.6 612.2 1265.6 606.6 1261.3 602.3 1256.1 598.4 1248.7 595.4 1243.5 592 1236.6 585.9 1231.4 581.6 1227.1 576.9 1222.8 576 1220.2M619.1 1273.8 622.5 1269.9 626.8 1270.4 632.4 1271.7 641.5 1274.3 644.9 1273 651.4 1274.3 658.7 1277.3 659.6 1282 652.7 1280.3 646.2 1280.3 639.8 1279.4 634.6 1277.7 629 1276.9 624.3 1276 620.4 1274.3 619.1 1273.8M658.7 1279.4 664.3 1280.7 662.1 1282.5 659.1 1280.3 658.7 1279.4M665.6 1280.3 668.6 1280.7 667.7 1282.9 665.6 1282 665.6 1280.3M669 1281.2 678.9 1280.3 675.1 1282.9 669.9 1283.3 669 1281.2M682 1281.2 694.9 1279.9 689.3 1282.9 682.8 1282.5 682 1281.2M678.5 1285.9 686.3 1288.5 681.1 1287.2 678.5 1285.9M697.5 1289 702.2 1284.6 713.8 1280.7 704.3 1285.9 700 1289 697.5 1289M635.5 1237.9 638 1235.3 644.9 1233.6 652.7 1230.6 657.8 1224.5 663.4 1221.5 669 1214.5 672.9 1216.7 679.4 1221.9 674.6 1225.8 673.3 1235.7 678.1 1240.1 672.1 1244.4 672.1 1248.7 667.7 1255.2 665.6 1260.8 659.6 1262.1 652.7 1258.2 647.1 1257.4 640.6 1256.9 639.8 1250 635.5 1245.7 635.5 1237.9M680.2 1268.2 680.7 1259.5 677.7 1256.5 682 1244.4 686.3 1238.8 702.2 1238.3 705.2 1237.5 700 1242.7 684.1 1242.2 685 1248.7 697 1248.3 688.4 1252.6 693.6 1264.7 687.1 1256.1 684.5 1256.9 685 1268.6 680.2 1268.2M715.1 1237.9 717.3 1234.9 719.9 1240.1 717.3 1242.2 716.8 1247 715.1 1243.1 715.1 1237.9M717.3 1257.4 729.3 1258.7 723.7 1260 717.3 1259.1 717.3 1257.4M708.7 1258.2 713 1258.2 713 1260.8 708.7 1260 708.7 1258.2M685.4 1164.4 688.4 1163.9 692.3 1164.4 692.7 1169.5 693.6 1174.3 689.7 1176 690.1 1180.4 691.4 1183.8 695.7 1184.7 700 1189.9 697 1188.1 693.6 1186 689.3 1184.7 685.8 1182.5 685.4 1180.4 682.8 1179.5 682 1173.9 684.5 1173 684.5 1168.7 685.4 1164.4M684.1 1186 689.3 1187.7 688 1191.6 684.5 1189.9 684.1 1186M670.8 1208.1 675.9 1204.2 680.7 1198.5 681.1 1195.1 679.4 1199 674.2 1203.3 670.8 1208.1M701.3 1190.3 707.4 1191.6 706.5 1196.8 703.9 1195.5 701.3 1190.3M701.8 1194.6 705.2 1197.7 703.9 1201.1 701.3 1197.2 701.8 1194.6M691 1192.9 696.6 1195.5 691.9 1199.4 691 1192.9M693.6 1197.2 697.9 1199.4 696.2 1205 693.2 1202 693.6 1197.2M697.5 1195.5 700.5 1199.4 697 1203.7 697.5 1195.5M691 1214.1 693.6 1209.8 697.9 1207.2 701.3 1207.6 703.5 1205.5 706.5 1202 709.5 1205.5 711.2 1212.8 709.5 1217.1 706.1 1220.2 705.2 1218 701.3 1217.6 700 1214.5 697.9 1210.6 694.9 1212.4 691 1214.1M730.2 1250.5 733.6 1247.4 737.5 1246.1 743.1 1248.3 744 1254.4 748.7 1259.1 753.4 1253.9 759.5 1250.9 764.6 1253.1 772 1255.2 777.6 1258.2 784 1260 788.3 1261.3 793.9 1266 794.8 1268.2 801.2 1269.9 803.4 1273 800.4 1276.4 803.4 1279 805.5 1283.3 809.4 1285.9 814.2 1289 812 1290.3 807.7 1289 801.7 1287.7 797.4 1283.3 794.8 1279.9 788.3 1277.3 784.4 1279.9 781.9 1283.8 775.4 1284.2 772.4 1283.3 768.1 1279.9 762.9 1280.3 759.9 1280.7 762.5 1274.7 760.8 1269.1 755.6 1265.2 748.7 1263.4 744 1261.3 740.9 1260 737.9 1261.7 734.5 1256.9 740.1 1254.4 735.4 1253.9 730.2 1250.5M804.7 1268.6 809.8 1268.2 815.4 1267.8 818.9 1263 821.9 1263 818.5 1268.2 812.9 1271.2 807.3 1270.8 804.7 1268.6M815.4 1255.7 823.2 1260.4 825.3 1264.7 821 1260.8 815.4 1255.7M831.8 1266 837.4 1273.4 834.4 1272.5 831.8 1266M853.3 1284.6 858.5 1287.2 854.6 1286.8 853.3 1284.6M857.6 1280.7 861.5 1285.9 859.4 1284.6 857.6 1280.7M883 1308.4 886.1 1312.8 891.2 1317.1 895.1 1326.2M872.3 1331.8 880.9 1336.6 885.2 1340.9 882.6 1340.9 875.7 1335.3 872.3 1331.8M929.6 1321 935.2 1320.1 933.9 1323.2 929.6 1322.7 929.6 1321M936 1315.4 941.2 1314.5 939 1317.1 936 1315.4M972.2 1302.8 977.8 1304.5 974.8 1304.1 972.2 1302.8M654.4 1356.9 656.1 1352.6 655.3 1348.2 656.1 1342.2 657.8 1339.2 659.6 1338.7 663.4 1335.3 668.6 1333.5 674.2 1332.2 680.7 1330.9 687.1 1328.8 692.3 1323.2 692.7 1319.3 695.7 1315.4 698.3 1318 699.2 1314.5 701.8 1313.6 704.3 1309.3 707.8 1306.7 712.1 1304.5 716.4 1306.3 718.1 1309.3 721.6 1308.9 724.6 1307.6 725.9 1302.8 727.6 1298.9 730.2 1297.2 734.5 1294.6 737.1 1293.3 740.9 1295.5 746.5 1296.3 751.3 1297.2 755.2 1297.2 756 1299.4 753.9 1301.9 751.3 1302.8 749.6 1308 751.7 1311.5 756.5 1313.2 761.6 1317.1 765.9 1319.7 768.9 1321 772.8 1319.7 775 1315.4 775.8 1309.3 775.8 1302.8 776.7 1298.5 777.6 1292 779.7 1290.7 781 1294.2 782.7 1297.6 784 1304.1 787 1306.3 790.5 1308.9 792.2 1313.2 794.3 1317.5 795.2 1323.6 796.1 1326.6 801.2 1328.3 806.4 1332.2 809 1335.3 812 1340 815.4 1341.8 816.3 1346.1 820.6 1350 824.9 1353.9 825.8 1356.9M725.9 1293.7 732.3 1292.9 730.2 1295.9 726.3 1295.5 725.9 1293.7M1045 1157 1048.4 1159.2 1046.2 1162.6 1044.5 1159.6 1045 1157M1041.9 1153.5 1044.5 1154.8 1042.8 1155.3 1041.9 1153.5M1034.6 1150.9 1037.2 1152.2 1035.5 1152.2 1034.6 1150.9M1028.6 1148.3 1030.3 1149.2 1029 1149.6 1028.6 1148.3M1230.5 1127.6 1233.6 1134.1 1234.4 1138 1238.7 1141.4 1243 1145.3 1245.2 1144 1243.5 1140.6 1241.3 1139.7 1239.2 1135.4 1237 1131.9 1234.8 1128.4M1244.3 1129.3 1246.5 1133.6 1250.3 1136.2 1252.9 1138.8 1258.1 1144 1261.1 1147.5 1262.8 1151.4 1262.8 1155.3 1261.5 1157.9 1265 1161.3 1267.1 1162.2 1270.6 1165.2 1277 1166.9 1286.1 1171.7 1292.1 1173.9 1298.6 1175.6 1302.9 1176.5 1307.2 1174.7 1311.1 1174.7 1314.9 1176.9 1318.8 1181.2 1323.1 1184.3 1328.7 1184.7 1333 1186.4 1337.8 1187.3 1339.5 1187.3 1342.5 1191.6 1346.4 1195.5 1347.2 1201.1 1349.4 1202 1351.5 1202.9 1355.4 1205.9 1357.1 1208.5 1359.3 1209.8 1365.3 1211.1 1370.1 1212.8 1371.8 1211.5 1370.1 1208.5 1373.9 1205.9 1378.2 1207.6 1380.4 1211.9 1383 1214.1 1383.4 1218.4 1382.5 1224.9 1383.4 1228 1380.4 1233.1 1377.4 1237 1371.8 1240.9 1370.9 1246.6 1367.9 1248.7 1368.3 1253.9 1371.8 1256.1 1370.5 1259.1 1367.5 1262.6 1366.2 1264.3 1366.6 1269.9 1370.5 1273 1373.9 1278.2 1377.8 1283.3 1381.3 1290.7 1384.3 1296.8 1387.7 1304.1 1392.4 1311 1397.6 1313.6 1404.1 1318 1408.8 1321 1413.5 1324.4 1414 1330.1 1414.4 1337.4 1413.1 1346.1 1412.3 1352.6 1411.8 1357.8M1297.7 1129.7 1296.4 1136.2 1295.6 1140.6 1295.1 1147 1295.1 1148.3 1297.7 1154.8 1301.6 1160.5 1302.5 1161.3 1307.2 1163.9 1310.2 1166.1 1317.5 1164.4 1322.3 1163.9 1325.7 1160 1326.6 1158.7 1327 1153.5 1333.5 1151.8 1339.5 1151.4 1342.5 1152.7 1339.9 1157 1338.6 1162.2 1336.5 1164.4 1336.5 1168.7 1335.2 1174.3 1339.5 1176 1345.9 1175.2 1352.4 1175.6 1358 1179.5 1357.1 1186 1355.8 1192.5 1355.8 1196.8 1358.9 1201.1 1362.3 1204.6 1366.6 1206.3 1372.2 1203.7 1378.2 1203.7 1383 1206.8 1385.6 1209.8 1387.7 1204.2 1391.2 1199.4 1394.2 1196.8 1396.8 1195.5 1401.1 1195.5 1405.4 1192.5 1409.2 1190.7 1410.1 1194.6 1407.9 1197.7 1409.2 1196.8 1414 1194.6 1414.8 1192.5 1415.7 1194.6 1421.3 1198.5 1427.8 1198.5 1432.1 1199 1437.7 1200.3 1441.5 1198.1 1448 1198.1 1449.7 1201.1 1453.6 1202 1455.7 1207.2 1458.8 1208.5 1464.4 1212.8 1465.6 1215 1470 1218.4 1478.6 1218.9 1483.7 1219.7 1491.1 1223.2 1494.1 1225.8 1496.7 1228.8 1498.4 1235.7 1501 1237 1501 1242.7 1505.3 1245.3 1507.4 1248.7 1507.4 1250.5 1511.7 1247 1518.2 1248.7 1524.6 1254.4 1525.5 1255.2 1531.1 1255.2 1537.6 1256.9 1550.5 1260.4 1555.6 1264.7 1563.4 1266.9 1564.7 1269.5 1566.4 1275.1 1566 1279 1564.3 1283.3 1562.5 1286.4 1558.7 1290.3 1555.6 1293.7 1550.5 1300.7 1548.3 1307.1 1548.3 1309.3 1547.5 1320.1 1545.3 1327.5 1542.7 1332.2 1539.7 1338.7 1535.4 1343.9 1530.2 1343.9 1524.6 1345.2 1516.9 1348.2 1511.7 1351.7 1506.6 1356.9M1350.7 1149.6 1354.6 1146.2 1363.2 1144.4 1369.6 1144.9 1376.1 1147.5 1382.5 1150.9 1389 1153.1 1397.2 1157 1395.5 1158.3 1389 1158.3 1381.7 1158.7 1383.8 1155.3 1377.8 1151.4 1369.6 1150.1 1365.3 1148.3 1359.7 1146.6 1354.6 1149.2 1350.7 1149.6M1395.5 1164.8 1401.1 1159.6 1404.1 1158.3 1410.5 1158.3 1415.7 1160.9 1422.2 1163.9 1417 1164.8 1411.8 1165.2 1408.4 1168.2 1404.1 1166.1 1396.8 1166.1 1395.5 1164.8M1378.7 1164.8 1384.7 1164.4 1388.1 1166.5 1384.3 1167.4 1379.5 1165.6 1378.7 1164.8M1426.5 1164.4 1433.8 1164.8 1433.4 1166.5 1426.9 1166.5 1426.5 1164.4M1449.7 1198.1 1453.6 1197.7 1454 1200.7 1449.7 1200.7 1449.7 1198.1M1379.5 1135.4 1381.7 1138 1380.8 1141 1379.1 1138.4 1379.5 1135.4M1656 1127.6 1652.5 1134.9 1647.8 1141.4 1646.1 1144.9 1643.5 1147.9 1642.6 1153.5 1645.2 1157 1646.5 1161.3 1647.4 1166.1 1646.1 1172.6 1645.2 1175.2 1642.2 1179.9 1640.9 1180.8 1643.5 1182.5 1643.9 1185.6 1644.3 1187.7 1643.9 1190.7 1646.5 1192.9 1650.4 1196.8 1653 1198.5 1657.3 1203.3 1659.8 1205.9 1659.4 1207.6 1662.4 1212.4 1667.2 1214.5 1669.8 1217.1 1675.4 1221 1684 1225.4 1690.4 1223.2 1699 1221.9 1707.6 1223.6 1715.4 1220.6 1721.4 1218 1727 1217.1 1730.9 1216.7 1735.6 1217.6 1739.9 1221.5 1742.1 1225.8 1746.4 1225.4 1752 1224.5 1755.9 1227.1 1758 1227.5 1758.9 1231.4 1758.5 1235.7 1758 1237.5 1756.7 1242.2 1755 1247.9 1754.2 1247.4 1757.2 1253.1 1761.5 1257.4 1767.1 1265.2 1768.8 1269.5 1769.7 1272.5 1772.2 1276.9 1773.1 1282.5 1774.4 1287.7 1775.7 1291.6 1774.8 1296.3 1770.5 1301.9 1768.8 1307.1 1767.1 1312.8 1767.1 1319.3 1767.9 1322.3 1772.2 1328.8 1774.4 1333.1 1777.4 1339.6 1778.7 1343.9 1779.1 1350.4 1780.8 1357.8M1774.4 1184.7 1778.7 1186 1777.8 1189 1774.8 1187.3 1774.4 1184.7M1752.9 1228.4 1754.6 1228.8 1754.2 1230.6 1752.9 1229.7 1752.9 1228.4M404.2 1334.8 406.4 1335.7 405.1 1337 404.2 1334.8M413.7 1330.9 415 1332.2 413.7 1333.1 413.7 1330.9M352.5 1293.7 353.4 1295.9 352.1 1295.5 352.5 1293.7M1322.3 1245.3 1324.4 1246.6 1323.1 1248.3 1322.3 1245.3M565.3 1186 566.1 1190.3 564.8 1194.6M569.6 1213.2 570.4 1215M619.1 1251.3 626 1256.9 623 1257.4 619.1 1251.3M651.8 1274.3 657 1274.3 656.1 1275.6 651.8 1275.1M1398.9 1153.1 1401.9 1152.2 1401.1 1154 1398.9 1153.1M1404.9 1150.1 1407.9 1149.6 1406.7 1150.9M1392 1142.3 1393.7 1144.9M1387.3 1139.7 1390.3 1142.7M1386.4 1134.1 1388.1 1136.2 1388.6 1137.5M1450.1 1173.9 1452.3 1174.3 1451 1175.6 1450.1 1173.9M1451.7 1176.9 1452.3 1178.6M1452.7 1180.1 1454 1181.9M1453.4 1183.4 1454 1184.9M1459.4 1186.9 1460.3 1187.9M1454.5 1195.5 1455.7 1196.2M1414.4 1189.9 1415.3 1190.7M1418.3 1190.7 1420 1192.3M1072.1 1320.1 1074 1321.2 1072.5 1321.9 1072.1 1320.1" stroke="#000" stroke-width="2.2" fill="none" stroke-linejoin="round" clip-path="url(#mc)"/>
<polyline points="259,1201 295,1206 355,1213 395,1214 435,1213 495,1211 535,1208 595,1209 655,1210 716,1208 760,1209 810,1211 880,1220 940,1231 1000,1241 1040,1246 1150,1261 1230,1271 1290,1283 1330,1289 1384,1297 1390,1298 1430,1287 1458,1281 1524,1246 1586,1215 1648,1199 1720,1196 1760,1197 1810,1202" stroke="#00ff00" stroke-width="7" fill="none" stroke-linejoin="round" clip-path="url(#mc)"/>
<polyline points="261,1194 265,1193.5 269,1193 273,1192.5 277,1192 281,1191.6 285,1191.2 289,1190.9 293,1190.5 297,1190.2 301,1189.9 305,1189.6 309,1189.4 313,1189.1 317,1188.9 321,1188.7 325,1188.5 329,1188.3 333,1188.1 337,1188 341,1187.8 345,1187.7 349,1187.6 353,1187.5 357,1187.3 361,1187.2 365,1187.1 369,1187.1 373,1187 377,1186.9 381,1186.9 385,1186.9 389,1186.9 393,1187 397,1187 401,1187.2 405,1187.3 409,1187.5 413,1187.6 417,1187.9 421,1188.1 425,1188.3 429,1188.6 433,1188.9 437,1189.1 441,1189.4 445,1189.7 449,1190 453,1190.4 457,1190.7 461,1191.1 465,1191.4 469,1191.8 473,1192.3 477,1192.7 481,1193.2 485,1193.7 489,1194.2 493,1194.7 497,1195.3 501,1195.9 505,1196.5 509,1197.2 513,1197.8 517,1198.5 521,1199.2 525,1199.9 529,1200.6 533,1201.3 537,1202 541,1202.7 545,1203.4 549,1204.1 553,1204.7 557,1205.3 561,1205.9 565,1206.5 569,1207 573,1207.6 577,1208.2 581,1208.8 585,1209.4 589,1210 593,1210.7 597,1211.4 601,1212.1 605,1212.9 609,1213.7 613,1214.6 617,1215.4 621,1216.4 625,1217.3 629,1218.3 633,1219.3 637,1220.3 641,1221.3 645,1222.3 649,1223.4 653,1224.5 657,1225.5 661,1226.6 665,1227.7 669,1228.8 673,1229.9 677,1231 681,1232 685,1233.1 689,1234.2 693,1235.2 697,1236.2 701,1237.3 705,1238.2 709,1239.2 713,1240.2 717,1241.2 721,1242.1 725,1243 729,1244 733,1244.9 737,1245.9 741,1246.8 745,1247.8 749,1248.7 753,1249.7 757,1250.7 761,1251.6 765,1252.6 769,1253.6 773,1254.6 777,1255.6 781,1256.5 785,1257.5 789,1258.4 793,1259.4 797,1260.3 801,1261.2 805,1262.1 809,1263 813,1263.8 817,1264.7 821,1265.5 825,1266.3 829,1267 833,1267.8 837,1268.5 841,1269.2 845,1269.8 849,1270.5 853,1271.1 857,1271.7 861,1272.2 865,1272.8 869,1273.4 873,1274 877,1274.6 881,1275.1 885,1275.8 889,1276.4 893,1277 897,1277.6 901,1278.3 905,1278.9 909,1279.6 913,1280.3 917,1281 921,1281.6 925,1282.3 929,1283 933,1283.7 937,1284.5 941,1285.2 945,1285.9 949,1286.6 953,1287.4 957,1288.1 961,1288.8 965,1289.5 969,1290.2 973,1290.9 977,1291.5 981,1292.2 985,1292.8 989,1293.4 993,1294 997,1294.6 1001,1295.1 1005,1295.6 1009,1296.1 1013,1296.6 1017,1297 1021,1297.4 1025,1297.8 1029,1298.1 1033,1298.5 1037,1298.8 1041,1299.1 1045,1299.4 1049,1299.6 1053,1299.9 1057,1300.1 1061,1300.3 1065,1300.5 1069,1300.6 1073,1300.8 1077,1300.9 1081,1301 1085,1301 1089,1301 1093,1301 1097,1300.9 1101,1300.8 1105,1300.7 1109,1300.6 1113,1300.4 1117,1300.2 1121,1300 1125,1299.7 1129,1299.5 1133,1299.2 1137,1299 1141,1298.7 1145,1298.4 1149,1298.1 1153,1297.8 1157,1297.5 1161,1297.1 1165,1296.8 1169,1296.5 1173,1296.1 1177,1295.8 1181,1295.4 1185,1295 1189,1294.6 1193,1294.1 1197,1293.7 1201,1293.2 1205,1292.7 1209,1292.1 1213,1291.6 1217,1291 1221,1290.3 1225,1289.7 1229,1289.1 1233,1288.4 1237,1287.8 1241,1287.1 1245,1286.5 1249,1285.8 1253,1285.2 1257,1284.6 1261,1284.1 1265,1283.6 1269,1283.1 1273,1282.7 1277,1282.3 1281,1281.9 1285,1281.5 1289,1281.1 1293,1280.7 1297,1280.1 1301,1279.6 1305,1279 1309,1278.3 1313,1277.7 1317,1276.9 1321,1276.2 1325,1275.4 1329,1274.6 1333,1273.7 1337,1272.9 1341,1272 1345,1271 1349,1270.1 1353,1269.2 1357,1268.2 1361,1267.2 1365,1266.2 1369,1265.3 1373,1264.3 1377,1263.3 1381,1262.3 1385,1261.3 1389,1260.3 1393,1259.3 1397,1258.2 1401,1257.2 1405,1256.2 1409,1255.2 1413,1254.2 1417,1253.2 1421,1252.2 1425,1251.2 1429,1250.2 1433,1249.3 1437,1248.3 1441,1247.3 1445,1246.4 1449,1245.4 1453,1244.5 1455,1244" stroke="#a00808" stroke-width="1.3" fill="none"/>
<polyline points="1560,1244 1630,1227 1700,1211 1810,1194" stroke="#a00808" stroke-width="1.3" fill="none"/>
<polyline points="740,1246.6 742,1247 744,1247.5 746,1248 748,1248.5 750,1249 752,1249.4 754,1249.9 756,1250.4 758,1250.9 760,1251.4 762,1251.9 764,1252.4 766,1252.9 768,1253.4 770,1253.9 772,1254.3 774,1254.8 776,1255.3 778,1255.8 780,1256.3 782,1256.8 784,1257.3 786,1257.7 788,1258.2 790,1258.7 792,1259.2 794,1259.6 796,1260.1 798,1260.5 800,1261 802,1261.5 804,1261.9 806,1262.3 808,1262.8 810,1263.2 812,1263.6 814,1264.1 816,1264.5 818,1264.9 820,1265.3 822,1265.7 824,1266.1 826,1266.5 828,1266.9 830,1267.2 832,1267.6 834,1268 836,1268.3 838,1268.7 840,1269 842,1269.3 844,1269.7 846,1270 848,1270.3 850,1270.6 852,1270.9 854,1271.2 856,1271.5 858,1271.8 860,1272.1 862,1272.4 864,1272.7 866,1273 868,1273.3 870,1273.5 872,1273.8 874,1274.1 876,1274.4 878,1274.7 880,1275 882,1275.3 884,1275.6 886,1275.9 888,1276.2 890,1276.5 892,1276.8 894,1277.1 896,1277.5 898,1277.8 900,1278.1 902,1278.4 904,1278.8 906,1279.1 908,1279.4 910,1279.8 912,1280.1 914,1280.4 916,1280.8 918,1281.1 920,1281.5 922,1281.8 924,1282.2 926,1282.5 928,1282.9 930,1283.2 932,1283.6 934,1283.9 936,1284.3 938,1284.6 940,1285 942,1285.4 944,1285.7 946,1286.1 948,1286.4 950,1286.8 952,1287.2 954,1287.5 956,1287.9 958,1288.2 960,1288.6 962,1289 964,1289.3 966,1289.7 968,1290 970,1290.4 972,1290.7 974,1291 976,1291.4 978,1291.7 980,1292 982,1292.4 984,1292.7 986,1293 988,1293.3 990,1293.6 992,1293.9 994,1294.2 996,1294.5 998,1294.7 1000,1295 1002,1295.3 1004,1295.5 1006,1295.8 1008,1296 1010,1296.2 1012,1296.5 1014,1296.7 1016,1296.9 1018,1297.1 1020,1297.3 1022,1297.5 1024,1297.7 1026,1297.9 1028,1298 1030,1298.2 1032,1298.4 1034,1298.5 1036,1298.7 1038,1298.8 1040,1299 1042,1299.1 1044,1299.3 1046,1299.4 1048,1299.6 1050,1299.7 1052,1299.8 1054,1299.9 1056,1300 1058,1300.2 1060,1300.3 1062,1300.4 1064,1300.4 1066,1300.5 1068,1300.6 1070,1300.7 1072,1300.7 1074,1300.8 1076,1300.9 1078,1300.9 1080,1300.9 1082,1301 1084,1301 1086,1301 1088,1301 1090,1301 1092,1301 1094,1301 1096,1300.9 1098,1300.9 1100,1300.9 1102,1300.8 1104,1300.7 1106,1300.7 1108,1300.6 1110,1300.5 1112,1300.4 1114,1300.3 1116,1300.2 1118,1300.1 1120,1300 1122,1299.9 1124,1299.8 1126,1299.7 1128,1299.6 1130,1299.4 1132,1299.3 1134,1299.2 1136,1299 1138,1298.9 1140,1298.7 1142,1298.6 1144,1298.5 1146,1298.3 1148,1298.2 1150,1298 1152,1297.8 1154,1297.7 1156,1297.5 1158,1297.4 1160,1297.2 1162,1297.1 1164,1296.9 1166,1296.7 1168,1296.6 1170,1296.4 1172,1296.2 1174,1296 1176,1295.9 1178,1295.7 1180,1295.5 1182,1295.3 1184,1295.1 1186,1294.9 1188,1294.7 1190,1294.5 1192,1294.3 1194,1294 1196,1293.8 1198,1293.6 1200,1293.3 1202,1293.1 1204,1292.8 1206,1292.5 1208,1292.3 1210,1292 1212,1291.7 1214,1291.4 1216,1291.1 1218,1290.8 1220,1290.5 1222,1290.2 1224,1289.9 1226,1289.5 1228,1289.2 1230,1288.9 1232,1288.6 1234,1288.2 1236,1287.9 1238,1287.6 1240,1287.3 1242,1286.9 1244,1286.6 1246,1286.3 1248,1286 1250,1285.7 1252,1285.4 1254,1285.1 1256,1284.8 1258,1284.5 1260,1284.2 1262,1284 1264,1283.7 1266,1283.5 1268,1283.2" stroke="#ff0000" stroke-width="13.4" stroke-dasharray="9.8 4.2" fill="none"/>
<polygon points="789,1177.2 790.8,1182.2 796.4,1182.3 792,1185.5 793.6,1190.6 789,1187.6 784.4,1190.6 786,1185.5 781.6,1182.3 787.2,1182.2" fill="none" stroke="#c030d0" stroke-width="1.1"/>
<polygon points="886,1194.6 887.8,1199.6 893.4,1199.7 889,1202.9 890.6,1208 886,1205 881.4,1208 883,1202.9 878.6,1199.7 884.2,1199.6" fill="none" stroke="#c030d0" stroke-width="1.1"/>
<polygon points="1036,1226.6 1037.8,1231.6 1043.4,1231.7 1039,1234.9 1040.6,1240 1036,1237 1031.4,1240 1033,1234.9 1028.6,1231.7 1034.2,1231.6" fill="none" stroke="#c030d0" stroke-width="1.1"/>
<polygon points="1384,1287.6 1385.8,1292.6 1391.4,1292.7 1387,1295.9 1388.6,1301 1384,1298 1379.4,1301 1381,1295.9 1376.6,1292.7 1382.2,1292.6" fill="none" stroke="#c030d0" stroke-width="1.1"/>
<polygon points="1525,1247.6 1526.8,1252.6 1532.4,1252.7 1528,1255.9 1529.6,1261 1525,1258 1520.4,1261 1522,1255.9 1517.6,1252.7 1523.2,1252.6" fill="none" stroke="#c030d0" stroke-width="1.1"/>
<rect x="260.6" y="1133.5" width="1549.8" height="221.5" fill="none" stroke="#000" stroke-width="1.2"/>
<g font-size="28" letter-spacing="0.43">
<text x="186.9" y="1192.3">15</text><text x="218.6" y="1179.1" font-size="21">o</text><text x="231.8" y="1192.3">N</text>
<text x="214.4" y="1256.8">0</text><text x="232" y="1243.6" font-size="21">o</text>
<text x="186.9" y="1322">15</text><text x="218.6" y="1308.8" font-size="21">o</text><text x="232.2" y="1322">S</text>
</g>
<text x="744.8" y="113.9" font-size="28" font-weight="bold" style="stroke:none" letter-spacing="0.37" xml:space="preserve">Day 132  12-May-2009 10:12:05   orbit 5800</text>
<g font-size="28" letter-spacing="0.43" text-anchor="middle"><text x="256" y="1401.6">GLON</text><text x="439.8" y="1401.6">063.8</text><text x="619.8" y="1401.6">105.6</text><text x="800.2" y="1401.6">147.4</text><text x="980" y="1401.6">189.3</text><text x="1161.5" y="1401.6">231.5</text><text x="1342.5" y="1401.6">273.6</text><text x="1628.8" y="1401.6">339.9</text><text x="1809.8" y="1401.6">021.9</text><text x="256" y="1442.4">GLAT</text><text x="439.8" y="1442.4">+12.5</text><text x="619.8" y="1442.4">+06.1</text><text x="800.2" y="1442.4">-04.0</text><text x="980" y="1442.4">-11.6</text><text x="1161.5" y="1442.4">-12.5</text><text x="1342.5" y="1442.4">-06.1</text><text x="1628.8" y="1442.4">+03.9</text><text x="1809.8" y="1442.4">+11.6</text><text x="260" y="1483.2">GALT</text><text x="443.5" y="1483.2">811</text><text x="623.5" y="1483.2">834</text><text x="803.9" y="1483.2">725</text><text x="983.7" y="1483.2">557</text><text x="1165.2" y="1483.2">432</text><text x="1346.2" y="1483.2">410</text><text x="1632.5" y="1483.2">510</text><text x="1813.5" y="1483.2">677</text><text x="256" y="1524">MLON</text><text x="439.8" y="1524">135.4</text><text x="619.8" y="1524">176.5</text><text x="800.2" y="1524">218.7</text><text x="980" y="1524">262.4</text><text x="1161.5" y="1524">303.8</text><text x="1342.5" y="1524">344.1</text><text x="1628.8" y="1524">053.5</text><text x="1809.8" y="1524">093.2</text><text x="257" y="1564.8">MLAT</text><text x="439.8" y="1564.8">+04.7</text><text x="619.8" y="1564.8">-02.8</text><text x="800.2" y="1564.8">-12.2</text><text x="980" y="1564.8">-12.6</text><text x="1161.5" y="1564.8">-08.3</text><text x="1342.5" y="1564.8">+04.6</text><text x="1628.8" y="1564.8">-04.0</text><text x="1809.8" y="1564.8">-00.6</text><text x="256.7" y="1605.6">UT</text><text x="439.8" y="1605.6">10:40</text><text x="619.8" y="1605.6">10:53</text><text x="800.2" y="1605.6">11:06</text><text x="980" y="1605.6">11:19</text><text x="1161.5" y="1605.6">11:30</text><text x="1342.5" y="1605.6">11:41</text><text x="1628.8" y="1605.6">10:16</text><text x="1809.8" y="1605.6">10:28</text><text x="251.8" y="1646.4">SLT</text><text x="439.8" y="1646.4">15:00</text><text x="619.8" y="1646.4">18:00</text><text x="800.2" y="1646.4">21:00</text><text x="980" y="1646.4">00:00</text><text x="1161.5" y="1646.4">03:00</text><text x="1342.5" y="1646.4">06:00</text><text x="1628.8" y="1646.4">09:00</text><text x="1809.8" y="1646.4">12:00</text></g>
<g transform="translate(1899.8 1668.1) rotate(-90)"><text x="0" y="0" font-size="22">Preliminary corrected calibration, 2/11/09</text><text x="0" y="25" font-size="22">Produced 28-May-2009 16:54:46</text></g>
</svg></body></html>
